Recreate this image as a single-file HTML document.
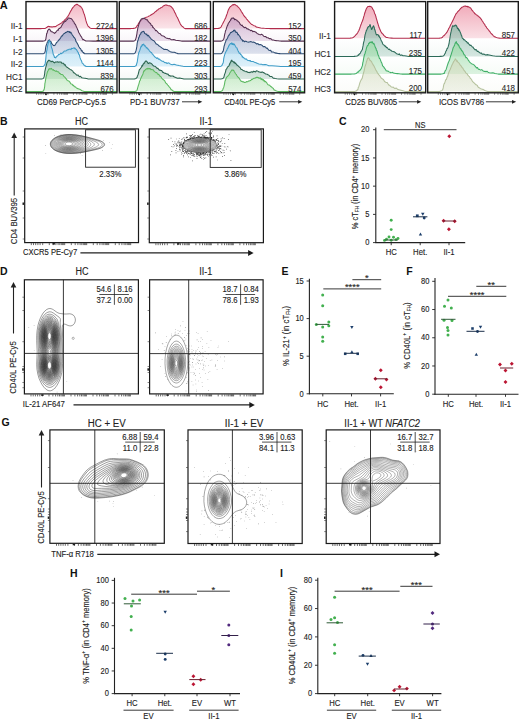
<!DOCTYPE html>
<html><head><meta charset="utf-8"><title>Figure</title>
<style>html,body{margin:0;padding:0;background:#fff;width:520px;height:721px;overflow:hidden;font-family:"Liberation Sans", sans-serif;}svg{display:block}</style>
</head><body>
<svg width="520" height="721" viewBox="0 0 520 721" font-family='"Liberation Sans", sans-serif'><defs><linearGradient id="g1f0" x1="0" y1="0" x2="0" y2="1"><stop offset="0" stop-color="#ee9aac" stop-opacity="0.7"/><stop offset="1" stop-color="#ee9aac" stop-opacity="0.26"/></linearGradient><linearGradient id="g1f1" x1="0" y1="0" x2="0" y2="1"><stop offset="0" stop-color="#bf98c0" stop-opacity="0.7"/><stop offset="1" stop-color="#bf98c0" stop-opacity="0.26"/></linearGradient><linearGradient id="g1f2" x1="0" y1="0" x2="0" y2="1"><stop offset="0" stop-color="#94a2c6" stop-opacity="0.7"/><stop offset="1" stop-color="#94a2c6" stop-opacity="0.26"/></linearGradient><linearGradient id="g1f3" x1="0" y1="0" x2="0" y2="1"><stop offset="0" stop-color="#98d2ee" stop-opacity="0.7"/><stop offset="1" stop-color="#98d2ee" stop-opacity="0.26"/></linearGradient><linearGradient id="g1f4" x1="0" y1="0" x2="0" y2="1"><stop offset="0" stop-color="#8cb8a4" stop-opacity="0.7"/><stop offset="1" stop-color="#8cb8a4" stop-opacity="0.26"/></linearGradient><linearGradient id="g1f5" x1="0" y1="0" x2="0" y2="1"><stop offset="0" stop-color="#a6dea6" stop-opacity="0.7"/><stop offset="1" stop-color="#a6dea6" stop-opacity="0.26"/></linearGradient><linearGradient id="g2f0" x1="0" y1="0" x2="0" y2="1"><stop offset="0" stop-color="#ee9aac" stop-opacity="0.82"/><stop offset="1" stop-color="#ee9aac" stop-opacity="0.3"/></linearGradient><linearGradient id="g2f1" x1="0" y1="0" x2="0" y2="1"><stop offset="0" stop-color="#8cbcaa" stop-opacity="0.82"/><stop offset="1" stop-color="#8cbcaa" stop-opacity="0.3"/></linearGradient><linearGradient id="g2f2" x1="0" y1="0" x2="0" y2="1"><stop offset="0" stop-color="#9edcaa" stop-opacity="0.82"/><stop offset="1" stop-color="#9edcaa" stop-opacity="0.3"/></linearGradient><linearGradient id="g2f3" x1="0" y1="0" x2="0" y2="1"><stop offset="0" stop-color="#d4dcc0" stop-opacity="0.82"/><stop offset="1" stop-color="#d4dcc0" stop-opacity="0.3"/></linearGradient><linearGradient id="g1b0" x1="0" y1="0" x2="0" y2="1"><stop offset="0" stop-color="#ee9aac" stop-opacity="0.0"/><stop offset="1" stop-color="#ee9aac" stop-opacity="0.0"/></linearGradient><linearGradient id="g1b1" x1="0" y1="0" x2="0" y2="1"><stop offset="0" stop-color="#bf98c0" stop-opacity="0.0"/><stop offset="1" stop-color="#bf98c0" stop-opacity="0.09"/></linearGradient><linearGradient id="g1b2" x1="0" y1="0" x2="0" y2="1"><stop offset="0" stop-color="#94a2c6" stop-opacity="0.0"/><stop offset="1" stop-color="#94a2c6" stop-opacity="0.09"/></linearGradient><linearGradient id="g1b3" x1="0" y1="0" x2="0" y2="1"><stop offset="0" stop-color="#98d2ee" stop-opacity="0.0"/><stop offset="1" stop-color="#98d2ee" stop-opacity="0.09"/></linearGradient><linearGradient id="g1b4" x1="0" y1="0" x2="0" y2="1"><stop offset="0" stop-color="#8cb8a4" stop-opacity="0.0"/><stop offset="1" stop-color="#8cb8a4" stop-opacity="0.09"/></linearGradient><linearGradient id="g1b5" x1="0" y1="0" x2="0" y2="1"><stop offset="0" stop-color="#a6dea6" stop-opacity="0.0"/><stop offset="1" stop-color="#a6dea6" stop-opacity="0.09"/></linearGradient><linearGradient id="g2b0" x1="0" y1="0" x2="0" y2="1"><stop offset="0" stop-color="#ee9aac" stop-opacity="0.0"/><stop offset="1" stop-color="#ee9aac" stop-opacity="0.0"/></linearGradient><linearGradient id="g2b1" x1="0" y1="0" x2="0" y2="1"><stop offset="0" stop-color="#8cbcaa" stop-opacity="0.0"/><stop offset="1" stop-color="#8cbcaa" stop-opacity="0.09"/></linearGradient><linearGradient id="g2b2" x1="0" y1="0" x2="0" y2="1"><stop offset="0" stop-color="#9edcaa" stop-opacity="0.0"/><stop offset="1" stop-color="#9edcaa" stop-opacity="0.09"/></linearGradient><linearGradient id="g2b3" x1="0" y1="0" x2="0" y2="1"><stop offset="0" stop-color="#d4dcc0" stop-opacity="0.0"/><stop offset="1" stop-color="#d4dcc0" stop-opacity="0.09"/></linearGradient></defs><rect x="26" y="1.6" width="91" height="27" fill="url(#g1b0)"/>
<rect x="26" y="28.6" width="91" height="12.5" fill="url(#g1b1)"/>
<rect x="26" y="41.1" width="91" height="12.7" fill="url(#g1b2)"/>
<rect x="26" y="53.8" width="91" height="12.6" fill="url(#g1b3)"/>
<rect x="26" y="66.4" width="91" height="12.6" fill="url(#g1b4)"/>
<rect x="26" y="79" width="91" height="12.6" fill="url(#g1b5)"/>
<path d="M26.00,28.60 L28.19,28.60 L31.39,28.60 L34.97,28.60 L38.29,28.60 L40.70,28.60 L42.04,28.58 L42.72,28.55 L43.02,28.51 L43.19,28.48 L43.50,28.45 L43.94,28.44 L44.33,28.44 L44.69,28.44 L45.02,28.41 L45.33,28.34 L45.60,28.20 L45.82,28.02 L46.02,27.81 L46.24,27.48 L46.50,27.41 L46.81,27.36 L47.13,27.15 L47.48,26.99 L47.87,26.41 L48.30,26.36 L48.76,26.51 L49.25,26.75 L49.78,26.56 L50.36,26.66 L51.00,26.92 L51.69,26.77 L52.42,27.05 L53.21,26.69 L54.06,26.56 L55.00,26.68 L56.08,26.19 L57.29,25.39 L58.54,24.66 L59.75,24.05 L60.80,23.32 L61.68,22.99 L62.45,21.89 L63.14,21.80 L63.81,20.96 L64.50,20.33 L65.19,19.37 L65.85,18.84 L66.50,18.15 L67.18,17.21 L67.90,16.35 L68.68,15.06 L69.49,13.43 L70.33,11.67 L71.18,10.40 L72.00,8.87 L72.81,7.63 L73.61,6.81 L74.40,5.76 L75.20,5.10 L76.00,4.81 L76.83,4.24 L77.69,4.58 L78.53,5.34 L79.32,5.78 L80.00,6.28 L80.55,6.16 L81.00,7.13 L81.40,7.60 L81.78,7.93 L82.20,8.66 L82.66,9.69 L83.12,11.16 L83.58,12.52 L84.04,13.76 L84.50,14.81 L84.94,16.60 L85.38,18.13 L85.82,20.22 L86.26,21.68 L86.70,23.12 L87.16,24.14 L87.62,25.30 L88.08,26.18 L88.54,26.50 L89.00,26.90 L89.43,27.45 L89.85,27.78 L90.27,28.04 L90.71,28.23 L91.20,28.40 L91.43,28.52 L91.39,28.58 L91.54,28.59 L92.32,28.59 L94.20,28.60 L97.86,28.60 L102.99,28.60 L108.57,28.60 L113.58,28.60 L117.00,28.60 Z" fill="url(#g1f0)" stroke="none"/>
<path d="M26.00,28.60 L28.19,28.60 L31.39,28.60 L34.97,28.60 L38.29,28.60 L40.70,28.60 L42.04,28.58 L42.72,28.55 L43.02,28.51 L43.19,28.48 L43.50,28.45 L43.94,28.44 L44.33,28.44 L44.69,28.44 L45.02,28.41 L45.33,28.34 L45.60,28.20 L45.82,28.02 L46.02,27.81 L46.24,27.48 L46.50,27.41 L46.81,27.36 L47.13,27.15 L47.48,26.99 L47.87,26.41 L48.30,26.36 L48.76,26.51 L49.25,26.75 L49.78,26.56 L50.36,26.66 L51.00,26.92 L51.69,26.77 L52.42,27.05 L53.21,26.69 L54.06,26.56 L55.00,26.68 L56.08,26.19 L57.29,25.39 L58.54,24.66 L59.75,24.05 L60.80,23.32 L61.68,22.99 L62.45,21.89 L63.14,21.80 L63.81,20.96 L64.50,20.33 L65.19,19.37 L65.85,18.84 L66.50,18.15 L67.18,17.21 L67.90,16.35 L68.68,15.06 L69.49,13.43 L70.33,11.67 L71.18,10.40 L72.00,8.87 L72.81,7.63 L73.61,6.81 L74.40,5.76 L75.20,5.10 L76.00,4.81 L76.83,4.24 L77.69,4.58 L78.53,5.34 L79.32,5.78 L80.00,6.28 L80.55,6.16 L81.00,7.13 L81.40,7.60 L81.78,7.93 L82.20,8.66 L82.66,9.69 L83.12,11.16 L83.58,12.52 L84.04,13.76 L84.50,14.81 L84.94,16.60 L85.38,18.13 L85.82,20.22 L86.26,21.68 L86.70,23.12 L87.16,24.14 L87.62,25.30 L88.08,26.18 L88.54,26.50 L89.00,26.90 L89.43,27.45 L89.85,27.78 L90.27,28.04 L90.71,28.23 L91.20,28.40 L91.43,28.52 L91.39,28.58 L91.54,28.59 L92.32,28.59 L94.20,28.60 L97.86,28.60 L102.99,28.60 L108.57,28.60 L113.58,28.60 L117.00,28.60" fill="none" stroke="#b22c4c" stroke-width="1.05" stroke-linejoin="round"/>
<path d="M26.00,41.10 L28.27,41.10 L31.58,41.10 L35.28,41.10 L38.71,41.10 L41.20,41.10 L42.57,41.10 L43.27,41.10 L43.56,41.09 L43.71,41.05 L44.00,40.95 L44.42,40.84 L44.78,40.72 L45.11,40.54 L45.39,40.24 L45.66,39.43 L45.86,38.98 L46.01,38.03 L46.13,36.82 L46.28,36.54 L46.50,34.59 L46.78,33.21 L47.11,33.12 L47.47,31.48 L47.87,30.16 L48.30,30.10 L48.77,29.17 L49.28,28.94 L49.82,29.69 L50.39,29.93 L51.00,31.43 L51.66,31.77 L52.37,31.88 L53.10,32.36 L53.82,32.87 L54.50,33.39 L55.13,32.58 L55.72,32.63 L56.30,31.39 L56.89,30.78 L57.50,29.96 L58.14,30.43 L58.80,28.55 L59.47,28.51 L60.14,27.89 L60.80,27.41 L61.46,26.36 L62.14,25.04 L62.80,23.86 L63.43,23.03 L64.00,21.95 L64.47,22.05 L64.85,21.17 L65.20,21.04 L65.60,21.44 L66.10,20.42 L66.72,19.80 L67.43,19.55 L68.19,17.96 L68.96,18.01 L69.70,18.20 L70.43,18.56 L71.18,18.51 L71.92,19.44 L72.64,20.15 L73.30,21.62 L73.90,21.88 L74.44,23.55 L74.96,24.03 L75.47,24.40 L76.00,25.86 L76.53,27.29 L77.04,27.95 L77.56,29.54 L78.11,30.39 L78.70,32.50 L79.35,33.38 L80.04,34.70 L80.75,36.13 L81.48,36.87 L82.20,38.46 L82.92,39.76 L83.66,39.36 L84.40,40.22 L85.12,40.53 L85.80,40.80 L86.04,40.99 L85.83,41.08 L85.81,41.10 L86.60,41.09 L88.80,41.10 L93.28,41.10 L99.62,41.10 L106.54,41.10 L112.76,41.10 L117.00,41.10 Z" fill="url(#g1f1)" stroke="none"/>
<path d="M26.00,41.10 L28.27,41.10 L31.58,41.10 L35.28,41.10 L38.71,41.10 L41.20,41.10 L42.57,41.10 L43.27,41.10 L43.56,41.09 L43.71,41.05 L44.00,40.95 L44.42,40.84 L44.78,40.72 L45.11,40.54 L45.39,40.24 L45.66,39.43 L45.86,38.98 L46.01,38.03 L46.13,36.82 L46.28,36.54 L46.50,34.59 L46.78,33.21 L47.11,33.12 L47.47,31.48 L47.87,30.16 L48.30,30.10 L48.77,29.17 L49.28,28.94 L49.82,29.69 L50.39,29.93 L51.00,31.43 L51.66,31.77 L52.37,31.88 L53.10,32.36 L53.82,32.87 L54.50,33.39 L55.13,32.58 L55.72,32.63 L56.30,31.39 L56.89,30.78 L57.50,29.96 L58.14,30.43 L58.80,28.55 L59.47,28.51 L60.14,27.89 L60.80,27.41 L61.46,26.36 L62.14,25.04 L62.80,23.86 L63.43,23.03 L64.00,21.95 L64.47,22.05 L64.85,21.17 L65.20,21.04 L65.60,21.44 L66.10,20.42 L66.72,19.80 L67.43,19.55 L68.19,17.96 L68.96,18.01 L69.70,18.20 L70.43,18.56 L71.18,18.51 L71.92,19.44 L72.64,20.15 L73.30,21.62 L73.90,21.88 L74.44,23.55 L74.96,24.03 L75.47,24.40 L76.00,25.86 L76.53,27.29 L77.04,27.95 L77.56,29.54 L78.11,30.39 L78.70,32.50 L79.35,33.38 L80.04,34.70 L80.75,36.13 L81.48,36.87 L82.20,38.46 L82.92,39.76 L83.66,39.36 L84.40,40.22 L85.12,40.53 L85.80,40.80 L86.04,40.99 L85.83,41.08 L85.81,41.10 L86.60,41.09 L88.80,41.10 L93.28,41.10 L99.62,41.10 L106.54,41.10 L112.76,41.10 L117.00,41.10" fill="none" stroke="#553050" stroke-width="1.05" stroke-linejoin="round"/>
<path d="M26.00,53.80 L28.16,53.80 L31.32,53.80 L34.85,53.80 L38.12,53.80 L40.50,53.80 L41.83,53.80 L42.51,53.80 L42.82,53.80 L43.00,53.77 L43.30,53.65 L43.73,53.50 L44.10,53.34 L44.44,53.10 L44.75,52.59 L45.02,51.51 L45.25,51.53 L45.41,49.69 L45.55,48.57 L45.73,47.02 L46.00,46.03 L46.38,44.87 L46.83,43.68 L47.32,42.24 L47.83,41.53 L48.30,40.33 L48.73,40.37 L49.14,40.35 L49.56,39.82 L50.00,41.47 L50.50,41.43 L51.06,41.77 L51.66,43.74 L52.30,43.99 L52.95,44.80 L53.60,45.53 L54.25,45.61 L54.92,45.35 L55.60,44.30 L56.29,42.91 L57.00,42.17 L57.74,41.60 L58.50,40.21 L59.27,39.72 L60.04,38.65 L60.80,37.42 L61.54,36.09 L62.26,35.88 L62.98,34.72 L63.72,33.70 L64.50,33.56 L65.36,32.55 L66.28,32.38 L67.20,31.82 L68.06,31.31 L68.80,31.89 L69.37,32.38 L69.83,31.58 L70.21,32.53 L70.59,32.90 L71.00,32.39 L71.45,33.53 L71.89,34.15 L72.35,34.96 L72.81,35.67 L73.30,36.24 L73.81,37.27 L74.35,37.70 L74.90,38.39 L75.45,39.34 L76.00,41.55 L76.54,41.96 L77.08,43.13 L77.61,43.97 L78.15,45.01 L78.70,46.51 L79.26,47.22 L79.83,48.23 L80.40,48.51 L80.96,49.52 L81.50,51.05 L82.01,50.55 L82.50,51.75 L82.98,52.38 L83.47,52.41 L84.00,52.80 L84.14,53.10 L83.87,53.34 L83.83,53.53 L84.66,53.68 L87.00,53.80 L91.75,53.80 L98.50,53.80 L105.86,53.80 L112.49,53.80 L117.00,53.80 Z" fill="url(#g1f2)" stroke="none"/>
<path d="M26.00,53.80 L28.16,53.80 L31.32,53.80 L34.85,53.80 L38.12,53.80 L40.50,53.80 L41.83,53.80 L42.51,53.80 L42.82,53.80 L43.00,53.77 L43.30,53.65 L43.73,53.50 L44.10,53.34 L44.44,53.10 L44.75,52.59 L45.02,51.51 L45.25,51.53 L45.41,49.69 L45.55,48.57 L45.73,47.02 L46.00,46.03 L46.38,44.87 L46.83,43.68 L47.32,42.24 L47.83,41.53 L48.30,40.33 L48.73,40.37 L49.14,40.35 L49.56,39.82 L50.00,41.47 L50.50,41.43 L51.06,41.77 L51.66,43.74 L52.30,43.99 L52.95,44.80 L53.60,45.53 L54.25,45.61 L54.92,45.35 L55.60,44.30 L56.29,42.91 L57.00,42.17 L57.74,41.60 L58.50,40.21 L59.27,39.72 L60.04,38.65 L60.80,37.42 L61.54,36.09 L62.26,35.88 L62.98,34.72 L63.72,33.70 L64.50,33.56 L65.36,32.55 L66.28,32.38 L67.20,31.82 L68.06,31.31 L68.80,31.89 L69.37,32.38 L69.83,31.58 L70.21,32.53 L70.59,32.90 L71.00,32.39 L71.45,33.53 L71.89,34.15 L72.35,34.96 L72.81,35.67 L73.30,36.24 L73.81,37.27 L74.35,37.70 L74.90,38.39 L75.45,39.34 L76.00,41.55 L76.54,41.96 L77.08,43.13 L77.61,43.97 L78.15,45.01 L78.70,46.51 L79.26,47.22 L79.83,48.23 L80.40,48.51 L80.96,49.52 L81.50,51.05 L82.01,50.55 L82.50,51.75 L82.98,52.38 L83.47,52.41 L84.00,52.80 L84.14,53.10 L83.87,53.34 L83.83,53.53 L84.66,53.68 L87.00,53.80 L91.75,53.80 L98.50,53.80 L105.86,53.80 L112.49,53.80 L117.00,53.80" fill="none" stroke="#2b4a70" stroke-width="1.05" stroke-linejoin="round"/>
<path d="M26.00,66.40 L28.16,66.40 L31.32,66.40 L34.85,66.40 L38.12,66.40 L40.50,66.40 L41.82,66.40 L42.51,66.40 L42.81,66.40 L42.98,66.40 L43.30,66.25 L43.75,65.96 L44.15,65.64 L44.53,64.67 L44.87,65.02 L45.20,63.53 L45.48,61.31 L45.70,59.58 L45.91,57.25 L46.16,54.55 L46.50,51.89 L46.96,49.80 L47.50,46.48 L48.08,43.92 L48.66,41.58 L49.20,40.58 L49.67,40.88 L50.12,42.23 L50.55,43.29 L51.00,44.87 L51.50,47.54 L52.06,48.66 L52.65,51.05 L53.27,54.36 L53.89,55.37 L54.50,57.52 L55.10,56.98 L55.69,57.85 L56.28,57.01 L56.88,56.11 L57.50,56.07 L58.14,55.17 L58.80,54.39 L59.47,54.50 L60.14,53.82 L60.80,53.06 L61.44,53.77 L62.05,53.01 L62.67,52.92 L63.32,52.21 L64.00,51.20 L64.75,50.98 L65.55,50.90 L66.36,50.66 L67.16,50.03 L67.90,49.68 L68.57,49.67 L69.19,49.15 L69.79,49.25 L70.39,49.15 L71.00,49.61 L71.65,48.34 L72.32,48.59 L72.98,48.42 L73.62,48.03 L74.20,47.86 L74.72,48.58 L75.19,48.20 L75.63,49.15 L76.06,49.35 L76.50,49.46 L76.93,50.61 L77.32,51.28 L77.73,51.96 L78.18,52.19 L78.70,54.29 L79.32,54.66 L80.00,57.63 L80.73,59.54 L81.47,60.75 L82.20,63.16 L82.92,63.64 L83.66,64.43 L84.40,65.77 L85.12,65.78 L85.80,66.20 L86.04,66.40 L85.83,66.40 L85.81,66.40 L86.60,66.40 L88.80,66.40 L93.28,66.40 L99.62,66.40 L106.54,66.40 L112.76,66.40 L117.00,66.40 Z" fill="url(#g1f3)" stroke="none"/>
<path d="M26.00,66.40 L28.16,66.40 L31.32,66.40 L34.85,66.40 L38.12,66.40 L40.50,66.40 L41.82,66.40 L42.51,66.40 L42.81,66.40 L42.98,66.40 L43.30,66.25 L43.75,65.96 L44.15,65.64 L44.53,64.67 L44.87,65.02 L45.20,63.53 L45.48,61.31 L45.70,59.58 L45.91,57.25 L46.16,54.55 L46.50,51.89 L46.96,49.80 L47.50,46.48 L48.08,43.92 L48.66,41.58 L49.20,40.58 L49.67,40.88 L50.12,42.23 L50.55,43.29 L51.00,44.87 L51.50,47.54 L52.06,48.66 L52.65,51.05 L53.27,54.36 L53.89,55.37 L54.50,57.52 L55.10,56.98 L55.69,57.85 L56.28,57.01 L56.88,56.11 L57.50,56.07 L58.14,55.17 L58.80,54.39 L59.47,54.50 L60.14,53.82 L60.80,53.06 L61.44,53.77 L62.05,53.01 L62.67,52.92 L63.32,52.21 L64.00,51.20 L64.75,50.98 L65.55,50.90 L66.36,50.66 L67.16,50.03 L67.90,49.68 L68.57,49.67 L69.19,49.15 L69.79,49.25 L70.39,49.15 L71.00,49.61 L71.65,48.34 L72.32,48.59 L72.98,48.42 L73.62,48.03 L74.20,47.86 L74.72,48.58 L75.19,48.20 L75.63,49.15 L76.06,49.35 L76.50,49.46 L76.93,50.61 L77.32,51.28 L77.73,51.96 L78.18,52.19 L78.70,54.29 L79.32,54.66 L80.00,57.63 L80.73,59.54 L81.47,60.75 L82.20,63.16 L82.92,63.64 L83.66,64.43 L84.40,65.77 L85.12,65.78 L85.80,66.20 L86.04,66.40 L85.83,66.40 L85.81,66.40 L86.60,66.40 L88.80,66.40 L93.28,66.40 L99.62,66.40 L106.54,66.40 L112.76,66.40 L117.00,66.40" fill="none" stroke="#3f9cc6" stroke-width="1.05" stroke-linejoin="round"/>
<path d="M26.00,79.00 L28.01,79.00 L30.94,79.00 L34.22,79.00 L37.27,79.00 L39.50,79.00 L40.76,79.00 L41.43,79.00 L41.76,79.00 L41.97,79.00 L42.30,78.85 L42.75,78.63 L43.15,78.40 L43.53,78.04 L43.87,77.37 L44.20,76.40 L44.47,74.84 L44.69,73.56 L44.90,71.00 L45.15,70.34 L45.50,68.39 L45.95,66.68 L46.47,64.86 L47.04,62.43 L47.66,61.57 L48.30,60.68 L48.98,60.03 L49.70,60.84 L50.46,60.97 L51.23,61.77 L52.00,61.27 L52.78,61.38 L53.58,62.24 L54.39,62.84 L55.20,62.14 L56.00,62.07 L56.79,62.03 L57.58,61.83 L58.37,62.17 L59.17,61.90 L60.00,61.95 L60.87,61.93 L61.77,63.16 L62.69,63.18 L63.57,63.22 L64.40,65.04 L65.16,64.67 L65.86,66.08 L66.54,66.99 L67.21,67.29 L67.90,67.69 L68.61,68.49 L69.33,68.69 L70.06,69.50 L70.78,69.65 L71.50,70.06 L72.19,70.66 L72.85,71.12 L73.53,72.69 L74.26,72.84 L75.10,73.60 L76.04,74.48 L77.05,75.34 L78.13,75.05 L79.28,76.77 L80.50,76.37 L81.88,77.78 L83.41,78.07 L84.97,78.24 L86.42,78.56 L87.60,78.80 L88.09,78.95 L87.97,79.00 L87.91,79.00 L88.57,79.00 L90.60,79.00 L94.80,79.00 L100.74,79.00 L107.22,79.00 L113.04,79.00 L117.00,79.00 Z" fill="url(#g1f4)" stroke="none"/>
<path d="M26.00,79.00 L28.01,79.00 L30.94,79.00 L34.22,79.00 L37.27,79.00 L39.50,79.00 L40.76,79.00 L41.43,79.00 L41.76,79.00 L41.97,79.00 L42.30,78.85 L42.75,78.63 L43.15,78.40 L43.53,78.04 L43.87,77.37 L44.20,76.40 L44.47,74.84 L44.69,73.56 L44.90,71.00 L45.15,70.34 L45.50,68.39 L45.95,66.68 L46.47,64.86 L47.04,62.43 L47.66,61.57 L48.30,60.68 L48.98,60.03 L49.70,60.84 L50.46,60.97 L51.23,61.77 L52.00,61.27 L52.78,61.38 L53.58,62.24 L54.39,62.84 L55.20,62.14 L56.00,62.07 L56.79,62.03 L57.58,61.83 L58.37,62.17 L59.17,61.90 L60.00,61.95 L60.87,61.93 L61.77,63.16 L62.69,63.18 L63.57,63.22 L64.40,65.04 L65.16,64.67 L65.86,66.08 L66.54,66.99 L67.21,67.29 L67.90,67.69 L68.61,68.49 L69.33,68.69 L70.06,69.50 L70.78,69.65 L71.50,70.06 L72.19,70.66 L72.85,71.12 L73.53,72.69 L74.26,72.84 L75.10,73.60 L76.04,74.48 L77.05,75.34 L78.13,75.05 L79.28,76.77 L80.50,76.37 L81.88,77.78 L83.41,78.07 L84.97,78.24 L86.42,78.56 L87.60,78.80 L88.09,78.95 L87.97,79.00 L87.91,79.00 L88.57,79.00 L90.60,79.00 L94.80,79.00 L100.74,79.00 L107.22,79.00 L113.04,79.00 L117.00,79.00" fill="none" stroke="#2b6450" stroke-width="1.05" stroke-linejoin="round"/>
<path d="M26.00,91.60 L28.01,91.60 L30.94,91.60 L34.22,91.60 L37.27,91.60 L39.50,91.60 L40.76,91.60 L41.43,91.60 L41.76,91.60 L41.97,91.60 L42.30,91.45 L42.75,91.22 L43.15,90.97 L43.53,91.02 L43.87,89.58 L44.20,89.54 L44.47,87.68 L44.69,86.57 L44.90,83.38 L45.15,82.54 L45.50,80.17 L45.97,77.63 L46.52,75.35 L47.12,72.80 L47.72,71.25 L48.30,70.30 L48.84,68.92 L49.37,68.62 L49.90,69.13 L50.44,68.99 L51.00,68.36 L51.58,68.45 L52.17,69.67 L52.77,70.05 L53.38,69.57 L54.00,70.46 L54.62,70.56 L55.24,71.04 L55.87,71.38 L56.52,70.90 L57.20,71.64 L57.93,71.72 L58.70,71.97 L59.48,73.53 L60.26,73.60 L61.00,74.53 L61.70,74.48 L62.38,74.50 L63.04,75.18 L63.71,76.05 L64.40,76.83 L65.11,77.48 L65.83,78.35 L66.56,79.38 L67.28,80.32 L68.00,80.82 L68.71,80.96 L69.41,81.57 L70.10,82.40 L70.80,83.72 L71.50,84.04 L72.20,84.31 L72.89,85.52 L73.59,85.27 L74.29,86.81 L75.00,86.69 L75.70,87.22 L76.39,88.00 L77.10,88.27 L77.85,88.79 L78.70,88.88 L79.69,89.26 L80.82,89.91 L81.97,90.75 L83.06,91.12 L84.00,91.40 L84.32,91.56 L84.07,91.60 L83.97,91.60 L84.71,91.60 L87.00,91.60 L91.75,91.60 L98.50,91.60 L105.86,91.60 L112.49,91.60 L117.00,91.60 Z" fill="url(#g1f5)" stroke="none"/>
<path d="M26.00,91.60 L28.01,91.60 L30.94,91.60 L34.22,91.60 L37.27,91.60 L39.50,91.60 L40.76,91.60 L41.43,91.60 L41.76,91.60 L41.97,91.60 L42.30,91.45 L42.75,91.22 L43.15,90.97 L43.53,91.02 L43.87,89.58 L44.20,89.54 L44.47,87.68 L44.69,86.57 L44.90,83.38 L45.15,82.54 L45.50,80.17 L45.97,77.63 L46.52,75.35 L47.12,72.80 L47.72,71.25 L48.30,70.30 L48.84,68.92 L49.37,68.62 L49.90,69.13 L50.44,68.99 L51.00,68.36 L51.58,68.45 L52.17,69.67 L52.77,70.05 L53.38,69.57 L54.00,70.46 L54.62,70.56 L55.24,71.04 L55.87,71.38 L56.52,70.90 L57.20,71.64 L57.93,71.72 L58.70,71.97 L59.48,73.53 L60.26,73.60 L61.00,74.53 L61.70,74.48 L62.38,74.50 L63.04,75.18 L63.71,76.05 L64.40,76.83 L65.11,77.48 L65.83,78.35 L66.56,79.38 L67.28,80.32 L68.00,80.82 L68.71,80.96 L69.41,81.57 L70.10,82.40 L70.80,83.72 L71.50,84.04 L72.20,84.31 L72.89,85.52 L73.59,85.27 L74.29,86.81 L75.00,86.69 L75.70,87.22 L76.39,88.00 L77.10,88.27 L77.85,88.79 L78.70,88.88 L79.69,89.26 L80.82,89.91 L81.97,90.75 L83.06,91.12 L84.00,91.40 L84.32,91.56 L84.07,91.60 L83.97,91.60 L84.71,91.60 L87.00,91.60 L91.75,91.60 L98.50,91.60 L105.86,91.60 L112.49,91.60 L117.00,91.60" fill="none" stroke="#5cb860" stroke-width="1.05" stroke-linejoin="round"/>
<text transform="translate(113.6,28.5) scale(0.9,1)" font-size="8.80" text-anchor="end" font-weight="normal" fill="#2a2a2a" stroke="#2a2a2a" stroke-width="0.12"  >2724</text>
<text transform="translate(113.6,41) scale(0.9,1)" font-size="8.80" text-anchor="end" font-weight="normal" fill="#2a2a2a" stroke="#2a2a2a" stroke-width="0.12"  >1396</text>
<text transform="translate(113.6,53.7) scale(0.9,1)" font-size="8.80" text-anchor="end" font-weight="normal" fill="#2a2a2a" stroke="#2a2a2a" stroke-width="0.12"  >1305</text>
<text transform="translate(113.6,66.3) scale(0.9,1)" font-size="8.80" text-anchor="end" font-weight="normal" fill="#2a2a2a" stroke="#2a2a2a" stroke-width="0.12"  >1144</text>
<text transform="translate(113.6,78.9) scale(0.9,1)" font-size="8.80" text-anchor="end" font-weight="normal" fill="#2a2a2a" stroke="#2a2a2a" stroke-width="0.12"  >839</text>
<text transform="translate(113.6,91.5) scale(0.9,1)" font-size="8.80" text-anchor="end" font-weight="normal" fill="#2a2a2a" stroke="#2a2a2a" stroke-width="0.12"  >676</text>
<rect x="26" y="1.6" width="91" height="91.2" stroke="#1a1a1a" stroke-width="1.4" fill="none"/>
<path d="M36.6,92.8v2.0M38.8,92.8v2.0M41.0,92.8v2.0M43.2,92.8v2.0M45.4,92.8v2.0M48.0,92.8v2.0M53.9,92.8v2.0M57.3,92.8v2.0M59.7,92.8v2.0M61.6,92.8v2.0M63.2,92.8v2.0M64.5,92.8v2.0M65.6,92.8v2.0M66.6,92.8v2.0M67.5,92.8v2.0M73.4,92.8v2.0M76.8,92.8v2.0M79.2,92.8v2.0M81.1,92.8v2.0M82.7,92.8v2.0M84.0,92.8v2.0M85.1,92.8v2.0M86.1,92.8v2.0M87.0,92.8v2.0M92.9,92.8v2.0M96.3,92.8v2.0M98.7,92.8v2.0M100.6,92.8v2.0M102.2,92.8v2.0M103.5,92.8v2.0M104.6,92.8v2.0M105.6,92.8v2.0M106.5,92.8v2.0M112.4,92.8v2.0" stroke="#2a2a2a" stroke-width="0.55" fill="none"/>
<path d="M44.4,93.4 L47.6,93.4 L46,95.6 Z" fill="#111"/>
<rect x="119.3" y="1.6" width="91.2" height="27" fill="url(#g1b0)"/>
<rect x="119.3" y="28.6" width="91.2" height="12.5" fill="url(#g1b1)"/>
<rect x="119.3" y="41.1" width="91.2" height="12.7" fill="url(#g1b2)"/>
<rect x="119.3" y="53.8" width="91.2" height="12.6" fill="url(#g1b3)"/>
<rect x="119.3" y="66.4" width="91.2" height="12.6" fill="url(#g1b4)"/>
<rect x="119.3" y="79" width="91.2" height="12.6" fill="url(#g1b5)"/>
<path d="M119.30,28.60 L120.93,28.60 L123.30,28.60 L125.96,28.60 L128.45,28.60 L130.30,28.60 L131.39,28.59 L132.03,28.58 L132.40,28.56 L132.69,28.52 L133.10,28.45 L133.62,28.38 L134.12,28.31 L134.62,28.20 L135.11,28.01 L135.59,27.70 L136.06,27.45 L136.51,26.66 L136.96,25.82 L137.45,25.42 L138.00,24.58 L138.63,23.36 L139.32,22.35 L140.04,21.56 L140.78,20.96 L141.50,19.65 L142.19,19.15 L142.87,19.04 L143.56,18.92 L144.30,18.40 L145.10,18.00 L146.01,17.36 L147.00,17.03 L148.03,16.62 L149.04,16.08 L150.00,15.63 L150.88,15.01 L151.70,14.50 L152.51,14.07 L153.33,13.54 L154.20,12.88 L155.13,11.86 L156.11,11.28 L157.09,10.23 L158.07,9.74 L159.00,8.73 L159.90,8.56 L160.80,7.65 L161.66,7.49 L162.47,6.92 L163.20,6.03 L163.81,5.86 L164.30,5.48 L164.76,5.50 L165.27,4.91 L165.90,5.10 L166.72,5.11 L167.66,5.47 L168.65,5.69 L169.59,5.83 L170.40,6.21 L171.04,6.55 L171.57,7.16 L172.04,7.72 L172.50,8.08 L173.00,8.77 L173.55,9.93 L174.11,10.76 L174.68,12.38 L175.24,13.11 L175.80,14.34 L176.34,15.76 L176.88,16.73 L177.42,17.58 L177.96,18.67 L178.50,20.07 L179.04,21.17 L179.57,22.11 L180.12,23.50 L180.69,24.62 L181.30,25.31 L181.98,26.26 L182.71,26.58 L183.46,27.44 L184.21,28.09 L184.90,28.50 L185.22,28.60 L185.20,28.60 L185.32,28.60 L186.06,28.60 L187.90,28.60 L191.53,28.60 L196.61,28.60 L202.15,28.60 L207.11,28.60 L210.50,28.60 Z" fill="url(#g1f0)" stroke="none"/>
<path d="M119.30,28.60 L120.93,28.60 L123.30,28.60 L125.96,28.60 L128.45,28.60 L130.30,28.60 L131.39,28.59 L132.03,28.58 L132.40,28.56 L132.69,28.52 L133.10,28.45 L133.62,28.38 L134.12,28.31 L134.62,28.20 L135.11,28.01 L135.59,27.70 L136.06,27.45 L136.51,26.66 L136.96,25.82 L137.45,25.42 L138.00,24.58 L138.63,23.36 L139.32,22.35 L140.04,21.56 L140.78,20.96 L141.50,19.65 L142.19,19.15 L142.87,19.04 L143.56,18.92 L144.30,18.40 L145.10,18.00 L146.01,17.36 L147.00,17.03 L148.03,16.62 L149.04,16.08 L150.00,15.63 L150.88,15.01 L151.70,14.50 L152.51,14.07 L153.33,13.54 L154.20,12.88 L155.13,11.86 L156.11,11.28 L157.09,10.23 L158.07,9.74 L159.00,8.73 L159.90,8.56 L160.80,7.65 L161.66,7.49 L162.47,6.92 L163.20,6.03 L163.81,5.86 L164.30,5.48 L164.76,5.50 L165.27,4.91 L165.90,5.10 L166.72,5.11 L167.66,5.47 L168.65,5.69 L169.59,5.83 L170.40,6.21 L171.04,6.55 L171.57,7.16 L172.04,7.72 L172.50,8.08 L173.00,8.77 L173.55,9.93 L174.11,10.76 L174.68,12.38 L175.24,13.11 L175.80,14.34 L176.34,15.76 L176.88,16.73 L177.42,17.58 L177.96,18.67 L178.50,20.07 L179.04,21.17 L179.57,22.11 L180.12,23.50 L180.69,24.62 L181.30,25.31 L181.98,26.26 L182.71,26.58 L183.46,27.44 L184.21,28.09 L184.90,28.50 L185.22,28.60 L185.20,28.60 L185.32,28.60 L186.06,28.60 L187.90,28.60 L191.53,28.60 L196.61,28.60 L202.15,28.60 L207.11,28.60 L210.50,28.60" fill="none" stroke="#b22c4c" stroke-width="1.05" stroke-linejoin="round"/>
<path d="M119.30,41.10 L121.06,41.10 L123.64,41.10 L126.52,41.10 L129.21,41.10 L131.20,41.10 L132.36,41.10 L133.01,41.10 L133.37,41.10 L133.64,41.10 L134.00,40.95 L134.46,40.73 L134.88,40.49 L135.28,40.14 L135.65,39.04 L136.00,38.17 L136.33,36.79 L136.61,35.14 L136.88,34.07 L137.16,31.66 L137.50,30.10 L137.89,27.64 L138.32,26.30 L138.78,24.60 L139.24,23.39 L139.70,22.11 L140.16,20.55 L140.62,20.73 L141.08,19.10 L141.54,18.84 L142.00,18.88 L142.44,18.75 L142.86,18.38 L143.28,18.55 L143.72,18.37 L144.20,17.96 L144.72,18.57 L145.29,19.14 L145.87,19.15 L146.44,19.68 L147.00,19.90 L147.54,19.84 L148.06,21.31 L148.58,22.00 L149.10,22.16 L149.60,22.94 L150.10,23.24 L150.58,23.55 L151.06,25.19 L151.54,25.16 L152.00,25.56 L152.43,25.98 L152.82,27.57 L153.21,27.35 L153.66,28.04 L154.20,28.46 L154.84,29.24 L155.54,30.63 L156.30,30.39 L157.12,31.25 L158.00,32.40 L158.96,33.34 L160.00,33.59 L161.08,34.83 L162.16,35.76 L163.20,35.90 L164.20,36.42 L165.18,37.42 L166.14,37.89 L167.08,38.17 L168.00,38.46 L168.80,38.71 L169.49,38.60 L170.20,38.88 L171.06,39.70 L172.20,39.70 L173.80,39.52 L175.78,40.34 L177.86,40.60 L179.79,40.83 L181.30,41.00 L181.92,41.09 L181.83,41.10 L181.72,41.10 L182.31,41.10 L184.30,41.10 L188.47,41.10 L194.37,41.10 L200.79,41.10 L206.57,41.10 L210.50,41.10 Z" fill="url(#g1f1)" stroke="none"/>
<path d="M119.30,41.10 L121.06,41.10 L123.64,41.10 L126.52,41.10 L129.21,41.10 L131.20,41.10 L132.36,41.10 L133.01,41.10 L133.37,41.10 L133.64,41.10 L134.00,40.95 L134.46,40.73 L134.88,40.49 L135.28,40.14 L135.65,39.04 L136.00,38.17 L136.33,36.79 L136.61,35.14 L136.88,34.07 L137.16,31.66 L137.50,30.10 L137.89,27.64 L138.32,26.30 L138.78,24.60 L139.24,23.39 L139.70,22.11 L140.16,20.55 L140.62,20.73 L141.08,19.10 L141.54,18.84 L142.00,18.88 L142.44,18.75 L142.86,18.38 L143.28,18.55 L143.72,18.37 L144.20,17.96 L144.72,18.57 L145.29,19.14 L145.87,19.15 L146.44,19.68 L147.00,19.90 L147.54,19.84 L148.06,21.31 L148.58,22.00 L149.10,22.16 L149.60,22.94 L150.10,23.24 L150.58,23.55 L151.06,25.19 L151.54,25.16 L152.00,25.56 L152.43,25.98 L152.82,27.57 L153.21,27.35 L153.66,28.04 L154.20,28.46 L154.84,29.24 L155.54,30.63 L156.30,30.39 L157.12,31.25 L158.00,32.40 L158.96,33.34 L160.00,33.59 L161.08,34.83 L162.16,35.76 L163.20,35.90 L164.20,36.42 L165.18,37.42 L166.14,37.89 L167.08,38.17 L168.00,38.46 L168.80,38.71 L169.49,38.60 L170.20,38.88 L171.06,39.70 L172.20,39.70 L173.80,39.52 L175.78,40.34 L177.86,40.60 L179.79,40.83 L181.30,41.00 L181.92,41.09 L181.83,41.10 L181.72,41.10 L182.31,41.10 L184.30,41.10 L188.47,41.10 L194.37,41.10 L200.79,41.10 L206.57,41.10 L210.50,41.10" fill="none" stroke="#553050" stroke-width="1.05" stroke-linejoin="round"/>
<path d="M119.30,53.80 L121.06,53.80 L123.64,53.80 L126.52,53.80 L129.21,53.80 L131.20,53.80 L132.36,53.80 L133.01,53.80 L133.37,53.80 L133.64,53.80 L134.00,53.65 L134.46,53.42 L134.88,53.16 L135.28,52.67 L135.65,51.68 L136.00,50.70 L136.33,49.29 L136.61,47.81 L136.88,46.14 L137.16,43.41 L137.50,41.75 L137.90,40.50 L138.35,39.42 L138.81,37.34 L139.27,36.83 L139.70,34.96 L140.09,34.72 L140.45,33.99 L140.80,33.81 L141.15,32.37 L141.50,32.42 L141.85,32.12 L142.20,31.83 L142.55,31.67 L142.91,31.61 L143.30,31.44 L143.71,31.36 L144.15,31.98 L144.59,33.24 L145.05,33.56 L145.50,33.98 L145.95,34.05 L146.39,34.62 L146.85,34.15 L147.31,35.41 L147.80,35.84 L148.30,35.26 L148.81,35.77 L149.34,36.93 L149.90,37.18 L150.50,38.29 L151.14,39.09 L151.83,39.40 L152.54,40.12 L153.27,40.40 L154.00,40.95 L154.72,41.66 L155.43,42.82 L156.16,44.03 L156.95,44.11 L157.80,44.65 L158.74,45.78 L159.76,46.40 L160.82,47.13 L161.91,47.95 L163.00,48.68 L164.04,49.47 L165.04,49.34 L166.09,49.54 L167.25,49.64 L168.60,50.68 L170.29,51.64 L172.28,52.25 L174.33,52.29 L176.21,53.07 L177.70,53.50 L178.26,53.73 L178.05,53.80 L177.86,53.80 L178.48,53.80 L180.70,53.80 L185.42,53.80 L192.12,53.80 L199.44,53.80 L206.02,53.80 L210.50,53.80 Z" fill="url(#g1f2)" stroke="none"/>
<path d="M119.30,53.80 L121.06,53.80 L123.64,53.80 L126.52,53.80 L129.21,53.80 L131.20,53.80 L132.36,53.80 L133.01,53.80 L133.37,53.80 L133.64,53.80 L134.00,53.65 L134.46,53.42 L134.88,53.16 L135.28,52.67 L135.65,51.68 L136.00,50.70 L136.33,49.29 L136.61,47.81 L136.88,46.14 L137.16,43.41 L137.50,41.75 L137.90,40.50 L138.35,39.42 L138.81,37.34 L139.27,36.83 L139.70,34.96 L140.09,34.72 L140.45,33.99 L140.80,33.81 L141.15,32.37 L141.50,32.42 L141.85,32.12 L142.20,31.83 L142.55,31.67 L142.91,31.61 L143.30,31.44 L143.71,31.36 L144.15,31.98 L144.59,33.24 L145.05,33.56 L145.50,33.98 L145.95,34.05 L146.39,34.62 L146.85,34.15 L147.31,35.41 L147.80,35.84 L148.30,35.26 L148.81,35.77 L149.34,36.93 L149.90,37.18 L150.50,38.29 L151.14,39.09 L151.83,39.40 L152.54,40.12 L153.27,40.40 L154.00,40.95 L154.72,41.66 L155.43,42.82 L156.16,44.03 L156.95,44.11 L157.80,44.65 L158.74,45.78 L159.76,46.40 L160.82,47.13 L161.91,47.95 L163.00,48.68 L164.04,49.47 L165.04,49.34 L166.09,49.54 L167.25,49.64 L168.60,50.68 L170.29,51.64 L172.28,52.25 L174.33,52.29 L176.21,53.07 L177.70,53.50 L178.26,53.73 L178.05,53.80 L177.86,53.80 L178.48,53.80 L180.70,53.80 L185.42,53.80 L192.12,53.80 L199.44,53.80 L206.02,53.80 L210.50,53.80" fill="none" stroke="#2b4a70" stroke-width="1.05" stroke-linejoin="round"/>
<path d="M119.30,66.40 L121.20,66.40 L123.98,66.40 L127.09,66.40 L129.98,66.40 L132.10,66.40 L133.31,66.40 L133.98,66.40 L134.31,66.40 L134.55,66.40 L134.90,66.25 L135.36,66.00 L135.79,65.73 L136.20,65.65 L136.57,64.17 L136.94,63.02 L137.27,61.87 L137.57,59.50 L137.86,57.72 L138.16,55.29 L138.50,54.12 L138.90,52.09 L139.33,51.66 L139.78,50.41 L140.22,48.81 L140.60,47.61 L140.93,46.65 L141.22,46.09 L141.48,46.66 L141.74,46.18 L142.00,45.32 L142.25,44.53 L142.48,45.27 L142.72,44.49 L142.98,44.61 L143.30,44.74 L143.68,44.07 L144.11,44.94 L144.57,45.97 L145.04,45.68 L145.50,46.06 L145.94,47.06 L146.37,47.98 L146.81,47.66 L147.28,48.00 L147.80,49.11 L148.38,48.99 L149.02,50.24 L149.68,51.12 L150.35,51.82 L151.00,52.49 L151.62,52.62 L152.23,53.95 L152.84,54.36 L153.49,55.60 L154.20,56.03 L154.98,57.09 L155.82,57.48 L156.70,58.45 L157.60,57.87 L158.50,59.12 L159.41,59.08 L160.35,60.04 L161.29,60.65 L162.25,61.35 L163.20,61.18 L164.16,62.25 L165.14,62.72 L166.12,62.57 L167.08,63.55 L168.00,62.78 L168.77,63.05 L169.40,63.22 L170.07,63.98 L170.94,64.34 L172.20,64.67 L174.08,64.22 L176.46,64.93 L178.99,65.55 L181.32,65.99 L183.10,66.30 L183.86,66.40 L183.84,66.40 L183.74,66.40 L184.26,66.40 L186.10,66.40 L190.00,66.40 L195.49,66.40 L201.47,66.40 L206.84,66.40 L210.50,66.40 Z" fill="url(#g1f3)" stroke="none"/>
<path d="M119.30,66.40 L121.20,66.40 L123.98,66.40 L127.09,66.40 L129.98,66.40 L132.10,66.40 L133.31,66.40 L133.98,66.40 L134.31,66.40 L134.55,66.40 L134.90,66.25 L135.36,66.00 L135.79,65.73 L136.20,65.65 L136.57,64.17 L136.94,63.02 L137.27,61.87 L137.57,59.50 L137.86,57.72 L138.16,55.29 L138.50,54.12 L138.90,52.09 L139.33,51.66 L139.78,50.41 L140.22,48.81 L140.60,47.61 L140.93,46.65 L141.22,46.09 L141.48,46.66 L141.74,46.18 L142.00,45.32 L142.25,44.53 L142.48,45.27 L142.72,44.49 L142.98,44.61 L143.30,44.74 L143.68,44.07 L144.11,44.94 L144.57,45.97 L145.04,45.68 L145.50,46.06 L145.94,47.06 L146.37,47.98 L146.81,47.66 L147.28,48.00 L147.80,49.11 L148.38,48.99 L149.02,50.24 L149.68,51.12 L150.35,51.82 L151.00,52.49 L151.62,52.62 L152.23,53.95 L152.84,54.36 L153.49,55.60 L154.20,56.03 L154.98,57.09 L155.82,57.48 L156.70,58.45 L157.60,57.87 L158.50,59.12 L159.41,59.08 L160.35,60.04 L161.29,60.65 L162.25,61.35 L163.20,61.18 L164.16,62.25 L165.14,62.72 L166.12,62.57 L167.08,63.55 L168.00,62.78 L168.77,63.05 L169.40,63.22 L170.07,63.98 L170.94,64.34 L172.20,64.67 L174.08,64.22 L176.46,64.93 L178.99,65.55 L181.32,65.99 L183.10,66.30 L183.86,66.40 L183.84,66.40 L183.74,66.40 L184.26,66.40 L186.10,66.40 L190.00,66.40 L195.49,66.40 L201.47,66.40 L206.84,66.40 L210.50,66.40" fill="none" stroke="#3f9cc6" stroke-width="1.05" stroke-linejoin="round"/>
<path d="M119.30,79.00 L121.20,79.00 L123.98,79.00 L127.09,79.00 L129.98,79.00 L132.10,79.00 L133.31,79.00 L133.97,79.00 L134.30,79.00 L134.54,78.98 L134.90,78.85 L135.39,78.70 L135.84,78.53 L136.28,78.29 L136.70,77.71 L137.12,77.41 L137.50,75.64 L137.86,75.22 L138.22,74.13 L138.59,72.76 L139.00,70.85 L139.46,69.48 L139.96,69.15 L140.47,68.48 L140.99,67.78 L141.50,67.15 L142.01,65.53 L142.52,66.04 L143.04,64.09 L143.53,64.07 L144.00,63.06 L144.42,63.30 L144.81,62.15 L145.19,61.57 L145.58,61.24 L146.00,60.88 L146.46,61.19 L146.94,61.65 L147.45,62.23 L147.97,63.27 L148.50,63.54 L149.05,62.98 L149.62,62.84 L150.21,63.01 L150.80,63.26 L151.40,63.65 L152.00,64.22 L152.62,64.96 L153.24,65.74 L153.86,66.01 L154.50,66.20 L155.14,66.34 L155.79,66.90 L156.44,67.67 L157.11,68.50 L157.80,68.15 L158.52,69.16 L159.26,70.11 L160.02,69.98 L160.77,70.56 L161.50,70.44 L162.19,71.33 L162.84,72.47 L163.50,72.32 L164.21,73.00 L165.00,73.38 L165.92,73.30 L166.94,74.12 L168.00,74.02 L169.04,75.61 L170.00,75.49 L170.78,76.30 L171.43,76.09 L172.08,75.95 L172.89,75.99 L174.00,76.73 L175.59,77.45 L177.57,78.27 L179.65,78.10 L181.59,78.50 L183.10,78.80 L183.75,78.96 L183.71,79.00 L183.65,79.00 L184.23,79.00 L186.10,79.00 L190.00,79.00 L195.49,79.00 L201.47,79.00 L206.84,79.00 L210.50,79.00 Z" fill="url(#g1f4)" stroke="none"/>
<path d="M119.30,79.00 L121.20,79.00 L123.98,79.00 L127.09,79.00 L129.98,79.00 L132.10,79.00 L133.31,79.00 L133.97,79.00 L134.30,79.00 L134.54,78.98 L134.90,78.85 L135.39,78.70 L135.84,78.53 L136.28,78.29 L136.70,77.71 L137.12,77.41 L137.50,75.64 L137.86,75.22 L138.22,74.13 L138.59,72.76 L139.00,70.85 L139.46,69.48 L139.96,69.15 L140.47,68.48 L140.99,67.78 L141.50,67.15 L142.01,65.53 L142.52,66.04 L143.04,64.09 L143.53,64.07 L144.00,63.06 L144.42,63.30 L144.81,62.15 L145.19,61.57 L145.58,61.24 L146.00,60.88 L146.46,61.19 L146.94,61.65 L147.45,62.23 L147.97,63.27 L148.50,63.54 L149.05,62.98 L149.62,62.84 L150.21,63.01 L150.80,63.26 L151.40,63.65 L152.00,64.22 L152.62,64.96 L153.24,65.74 L153.86,66.01 L154.50,66.20 L155.14,66.34 L155.79,66.90 L156.44,67.67 L157.11,68.50 L157.80,68.15 L158.52,69.16 L159.26,70.11 L160.02,69.98 L160.77,70.56 L161.50,70.44 L162.19,71.33 L162.84,72.47 L163.50,72.32 L164.21,73.00 L165.00,73.38 L165.92,73.30 L166.94,74.12 L168.00,74.02 L169.04,75.61 L170.00,75.49 L170.78,76.30 L171.43,76.09 L172.08,75.95 L172.89,75.99 L174.00,76.73 L175.59,77.45 L177.57,78.27 L179.65,78.10 L181.59,78.50 L183.10,78.80 L183.75,78.96 L183.71,79.00 L183.65,79.00 L184.23,79.00 L186.10,79.00 L190.00,79.00 L195.49,79.00 L201.47,79.00 L206.84,79.00 L210.50,79.00" fill="none" stroke="#2b6450" stroke-width="1.05" stroke-linejoin="round"/>
<path d="M119.30,91.60 L121.20,91.60 L123.98,91.60 L127.09,91.60 L129.98,91.60 L132.10,91.60 L133.32,91.59 L133.99,91.58 L134.33,91.57 L134.56,91.53 L134.90,91.45 L135.33,91.37 L135.72,91.29 L136.07,91.16 L136.40,90.95 L136.69,90.60 L136.95,90.25 L137.15,89.69 L137.33,89.35 L137.54,88.37 L137.80,87.43 L138.11,86.29 L138.46,85.05 L138.84,84.22 L139.25,82.68 L139.70,80.83 L140.21,80.40 L140.76,78.46 L141.35,77.18 L141.94,76.00 L142.50,74.99 L143.02,73.73 L143.51,71.90 L144.00,70.71 L144.52,70.93 L145.10,69.92 L145.75,69.36 L146.46,69.09 L147.20,68.24 L147.95,69.19 L148.70,68.21 L149.45,68.90 L150.22,68.47 L150.99,69.81 L151.76,69.34 L152.50,69.81 L153.22,69.78 L153.92,71.00 L154.61,71.59 L155.30,72.06 L156.00,72.70 L156.70,72.51 L157.39,73.56 L158.09,74.41 L158.79,74.25 L159.50,75.74 L160.23,76.33 L160.96,76.71 L161.70,78.11 L162.45,78.96 L163.20,79.47 L163.96,80.05 L164.73,80.78 L165.50,82.64 L166.26,83.51 L167.00,83.94 L167.70,85.09 L168.38,85.73 L169.04,86.63 L169.71,87.47 L170.40,88.26 L171.12,89.73 L171.85,89.71 L172.59,90.85 L173.32,91.04 L174.00,91.40 L174.15,91.60 L173.78,91.60 L173.63,91.60 L174.46,91.60 L177.00,91.60 L182.28,91.60 L189.81,91.60 L198.05,91.60 L205.46,91.60 L210.50,91.60 Z" fill="url(#g1f5)" stroke="none"/>
<path d="M119.30,91.60 L121.20,91.60 L123.98,91.60 L127.09,91.60 L129.98,91.60 L132.10,91.60 L133.32,91.59 L133.99,91.58 L134.33,91.57 L134.56,91.53 L134.90,91.45 L135.33,91.37 L135.72,91.29 L136.07,91.16 L136.40,90.95 L136.69,90.60 L136.95,90.25 L137.15,89.69 L137.33,89.35 L137.54,88.37 L137.80,87.43 L138.11,86.29 L138.46,85.05 L138.84,84.22 L139.25,82.68 L139.70,80.83 L140.21,80.40 L140.76,78.46 L141.35,77.18 L141.94,76.00 L142.50,74.99 L143.02,73.73 L143.51,71.90 L144.00,70.71 L144.52,70.93 L145.10,69.92 L145.75,69.36 L146.46,69.09 L147.20,68.24 L147.95,69.19 L148.70,68.21 L149.45,68.90 L150.22,68.47 L150.99,69.81 L151.76,69.34 L152.50,69.81 L153.22,69.78 L153.92,71.00 L154.61,71.59 L155.30,72.06 L156.00,72.70 L156.70,72.51 L157.39,73.56 L158.09,74.41 L158.79,74.25 L159.50,75.74 L160.23,76.33 L160.96,76.71 L161.70,78.11 L162.45,78.96 L163.20,79.47 L163.96,80.05 L164.73,80.78 L165.50,82.64 L166.26,83.51 L167.00,83.94 L167.70,85.09 L168.38,85.73 L169.04,86.63 L169.71,87.47 L170.40,88.26 L171.12,89.73 L171.85,89.71 L172.59,90.85 L173.32,91.04 L174.00,91.40 L174.15,91.60 L173.78,91.60 L173.63,91.60 L174.46,91.60 L177.00,91.60 L182.28,91.60 L189.81,91.60 L198.05,91.60 L205.46,91.60 L210.50,91.60" fill="none" stroke="#5cb860" stroke-width="1.05" stroke-linejoin="round"/>
<text transform="translate(207.4,28.5) scale(0.9,1)" font-size="8.80" text-anchor="end" font-weight="normal" fill="#2a2a2a" stroke="#2a2a2a" stroke-width="0.12"  >686</text>
<text transform="translate(207.4,41) scale(0.9,1)" font-size="8.80" text-anchor="end" font-weight="normal" fill="#2a2a2a" stroke="#2a2a2a" stroke-width="0.12"  >182</text>
<text transform="translate(207.4,53.7) scale(0.9,1)" font-size="8.80" text-anchor="end" font-weight="normal" fill="#2a2a2a" stroke="#2a2a2a" stroke-width="0.12"  >231</text>
<text transform="translate(207.4,66.3) scale(0.9,1)" font-size="8.80" text-anchor="end" font-weight="normal" fill="#2a2a2a" stroke="#2a2a2a" stroke-width="0.12"  >223</text>
<text transform="translate(207.4,78.9) scale(0.9,1)" font-size="8.80" text-anchor="end" font-weight="normal" fill="#2a2a2a" stroke="#2a2a2a" stroke-width="0.12"  >303</text>
<text transform="translate(207.4,91.5) scale(0.9,1)" font-size="8.80" text-anchor="end" font-weight="normal" fill="#2a2a2a" stroke="#2a2a2a" stroke-width="0.12"  >293</text>
<rect x="119.3" y="1.6" width="91.2" height="91.2" stroke="#1a1a1a" stroke-width="1.4" fill="none"/>
<path d="M129.9,92.8v2.0M132.1,92.8v2.0M134.3,92.8v2.0M136.5,92.8v2.0M138.7,92.8v2.0M141.3,92.8v2.0M147.2,92.8v2.0M150.6,92.8v2.0M153.0,92.8v2.0M154.9,92.8v2.0M156.5,92.8v2.0M157.8,92.8v2.0M158.9,92.8v2.0M159.9,92.8v2.0M160.8,92.8v2.0M166.7,92.8v2.0M170.1,92.8v2.0M172.5,92.8v2.0M174.4,92.8v2.0M176.0,92.8v2.0M177.3,92.8v2.0M178.4,92.8v2.0M179.4,92.8v2.0M180.3,92.8v2.0M186.2,92.8v2.0M189.6,92.8v2.0M192.0,92.8v2.0M193.9,92.8v2.0M195.5,92.8v2.0M196.8,92.8v2.0M197.9,92.8v2.0M198.9,92.8v2.0M199.8,92.8v2.0M205.7,92.8v2.0" stroke="#2a2a2a" stroke-width="0.55" fill="none"/>
<path d="M137.7,93.4 L140.9,93.4 L139.3,95.6 Z" fill="#111"/>
<rect x="213.3" y="1.6" width="91.3" height="27" fill="url(#g1b0)"/>
<rect x="213.3" y="28.6" width="91.3" height="12.5" fill="url(#g1b1)"/>
<rect x="213.3" y="41.1" width="91.3" height="12.7" fill="url(#g1b2)"/>
<rect x="213.3" y="53.8" width="91.3" height="12.6" fill="url(#g1b3)"/>
<rect x="213.3" y="66.4" width="91.3" height="12.6" fill="url(#g1b4)"/>
<rect x="213.3" y="79" width="91.3" height="12.6" fill="url(#g1b5)"/>
<path d="M213.30,28.60 L213.54,28.60 L213.88,28.60 L214.28,28.60 L214.73,28.60 L215.20,28.60 L215.71,28.59 L216.28,28.58 L216.87,28.57 L217.45,28.53 L218.00,28.45 L218.50,28.37 L218.98,28.29 L219.45,28.16 L219.90,27.95 L220.35,27.42 L220.78,27.33 L221.18,26.73 L221.58,25.79 L222.01,25.07 L222.50,24.13 L223.07,22.91 L223.70,21.65 L224.36,20.56 L225.01,19.10 L225.60,17.99 L226.13,16.46 L226.62,15.02 L227.10,13.91 L227.55,12.43 L228.00,10.91 L228.43,9.75 L228.85,9.10 L229.25,8.23 L229.67,7.56 L230.10,6.94 L230.57,6.48 L231.05,6.24 L231.55,5.75 L232.03,5.26 L232.50,5.10 L232.93,4.49 L233.35,4.88 L233.75,4.75 L234.17,4.29 L234.60,4.73 L235.07,4.78 L235.55,4.81 L236.05,5.50 L236.53,5.71 L237.00,5.82 L237.43,6.11 L237.82,6.88 L238.22,7.15 L238.63,7.28 L239.10,8.00 L239.64,8.78 L240.22,9.46 L240.83,10.60 L241.43,11.83 L242.00,12.30 L242.51,13.49 L242.98,13.83 L243.45,15.06 L243.94,15.64 L244.50,16.52 L245.13,17.02 L245.81,17.67 L246.53,19.05 L247.26,19.59 L248.00,20.75 L248.73,21.36 L249.48,22.42 L250.24,23.10 L251.01,23.94 L251.80,24.58 L252.60,24.81 L253.42,25.42 L254.26,25.73 L255.12,25.98 L256.00,26.81 L256.85,27.17 L257.68,27.16 L258.55,27.60 L259.56,27.78 L260.80,28.00 L262.43,28.18 L264.39,28.33 L266.43,28.44 L268.32,28.53 L269.80,28.60 L270.32,28.60 L270.05,28.60 L269.81,28.60 L270.45,28.60 L272.80,28.60 L277.83,28.60 L284.97,28.60 L292.79,28.60 L299.81,28.60 L304.60,28.60 Z" fill="url(#g1f0)" stroke="none"/>
<path d="M213.30,28.60 L213.54,28.60 L213.88,28.60 L214.28,28.60 L214.73,28.60 L215.20,28.60 L215.71,28.59 L216.28,28.58 L216.87,28.57 L217.45,28.53 L218.00,28.45 L218.50,28.37 L218.98,28.29 L219.45,28.16 L219.90,27.95 L220.35,27.42 L220.78,27.33 L221.18,26.73 L221.58,25.79 L222.01,25.07 L222.50,24.13 L223.07,22.91 L223.70,21.65 L224.36,20.56 L225.01,19.10 L225.60,17.99 L226.13,16.46 L226.62,15.02 L227.10,13.91 L227.55,12.43 L228.00,10.91 L228.43,9.75 L228.85,9.10 L229.25,8.23 L229.67,7.56 L230.10,6.94 L230.57,6.48 L231.05,6.24 L231.55,5.75 L232.03,5.26 L232.50,5.10 L232.93,4.49 L233.35,4.88 L233.75,4.75 L234.17,4.29 L234.60,4.73 L235.07,4.78 L235.55,4.81 L236.05,5.50 L236.53,5.71 L237.00,5.82 L237.43,6.11 L237.82,6.88 L238.22,7.15 L238.63,7.28 L239.10,8.00 L239.64,8.78 L240.22,9.46 L240.83,10.60 L241.43,11.83 L242.00,12.30 L242.51,13.49 L242.98,13.83 L243.45,15.06 L243.94,15.64 L244.50,16.52 L245.13,17.02 L245.81,17.67 L246.53,19.05 L247.26,19.59 L248.00,20.75 L248.73,21.36 L249.48,22.42 L250.24,23.10 L251.01,23.94 L251.80,24.58 L252.60,24.81 L253.42,25.42 L254.26,25.73 L255.12,25.98 L256.00,26.81 L256.85,27.17 L257.68,27.16 L258.55,27.60 L259.56,27.78 L260.80,28.00 L262.43,28.18 L264.39,28.33 L266.43,28.44 L268.32,28.53 L269.80,28.60 L270.32,28.60 L270.05,28.60 L269.81,28.60 L270.45,28.60 L272.80,28.60 L277.83,28.60 L284.97,28.60 L292.79,28.60 L299.81,28.60 L304.60,28.60" fill="none" stroke="#b22c4c" stroke-width="1.05" stroke-linejoin="round"/>
<path d="M213.30,41.10 L214.09,41.10 L215.23,41.10 L216.53,41.10 L217.78,41.10 L218.80,41.10 L219.54,41.10 L220.15,41.10 L220.66,41.10 L221.13,41.10 L221.60,40.95 L222.08,40.75 L222.52,40.54 L222.95,40.22 L223.35,39.51 L223.75,38.71 L224.10,37.85 L224.42,35.78 L224.74,34.18 L225.09,32.88 L225.50,30.74 L226.00,29.97 L226.57,27.88 L227.17,26.09 L227.76,25.12 L228.30,23.38 L228.78,22.74 L229.22,22.33 L229.64,21.29 L230.06,20.95 L230.50,20.48 L230.96,18.99 L231.42,18.94 L231.88,18.09 L232.34,18.16 L232.80,18.14 L233.24,17.78 L233.68,18.58 L234.12,18.46 L234.56,19.72 L235.00,19.27 L235.45,19.56 L235.89,19.60 L236.35,19.99 L236.81,20.14 L237.30,20.93 L237.81,21.11 L238.35,21.72 L238.90,22.07 L239.45,22.71 L240.00,24.13 L240.51,24.31 L241.00,25.08 L241.50,25.53 L242.06,25.11 L242.70,26.24 L243.45,26.79 L244.28,27.65 L245.17,27.26 L246.08,27.81 L247.00,28.87 L247.92,28.70 L248.86,29.78 L249.83,29.83 L250.81,30.77 L251.80,30.18 L252.81,31.72 L253.83,31.36 L254.87,31.71 L255.93,32.20 L257.00,33.38 L258.10,33.91 L259.22,34.45 L260.36,34.87 L261.49,34.20 L262.60,34.88 L263.69,36.28 L264.77,36.61 L265.84,36.53 L266.92,37.84 L268.00,37.67 L269.07,38.74 L270.11,38.47 L271.17,38.98 L272.29,40.06 L273.50,40.10 L274.90,40.40 L276.46,40.64 L278.04,40.83 L279.50,40.98 L280.70,41.10 L281.28,41.10 L281.34,41.10 L281.41,41.10 L282.02,41.10 L283.70,41.10 L287.07,41.10 L291.77,41.10 L296.89,41.10 L301.47,41.10 L304.60,41.10 Z" fill="url(#g1f1)" stroke="none"/>
<path d="M213.30,41.10 L214.09,41.10 L215.23,41.10 L216.53,41.10 L217.78,41.10 L218.80,41.10 L219.54,41.10 L220.15,41.10 L220.66,41.10 L221.13,41.10 L221.60,40.95 L222.08,40.75 L222.52,40.54 L222.95,40.22 L223.35,39.51 L223.75,38.71 L224.10,37.85 L224.42,35.78 L224.74,34.18 L225.09,32.88 L225.50,30.74 L226.00,29.97 L226.57,27.88 L227.17,26.09 L227.76,25.12 L228.30,23.38 L228.78,22.74 L229.22,22.33 L229.64,21.29 L230.06,20.95 L230.50,20.48 L230.96,18.99 L231.42,18.94 L231.88,18.09 L232.34,18.16 L232.80,18.14 L233.24,17.78 L233.68,18.58 L234.12,18.46 L234.56,19.72 L235.00,19.27 L235.45,19.56 L235.89,19.60 L236.35,19.99 L236.81,20.14 L237.30,20.93 L237.81,21.11 L238.35,21.72 L238.90,22.07 L239.45,22.71 L240.00,24.13 L240.51,24.31 L241.00,25.08 L241.50,25.53 L242.06,25.11 L242.70,26.24 L243.45,26.79 L244.28,27.65 L245.17,27.26 L246.08,27.81 L247.00,28.87 L247.92,28.70 L248.86,29.78 L249.83,29.83 L250.81,30.77 L251.80,30.18 L252.81,31.72 L253.83,31.36 L254.87,31.71 L255.93,32.20 L257.00,33.38 L258.10,33.91 L259.22,34.45 L260.36,34.87 L261.49,34.20 L262.60,34.88 L263.69,36.28 L264.77,36.61 L265.84,36.53 L266.92,37.84 L268.00,37.67 L269.07,38.74 L270.11,38.47 L271.17,38.98 L272.29,40.06 L273.50,40.10 L274.90,40.40 L276.46,40.64 L278.04,40.83 L279.50,40.98 L280.70,41.10 L281.28,41.10 L281.34,41.10 L281.41,41.10 L282.02,41.10 L283.70,41.10 L287.07,41.10 L291.77,41.10 L296.89,41.10 L301.47,41.10 L304.60,41.10" fill="none" stroke="#553050" stroke-width="1.05" stroke-linejoin="round"/>
<path d="M213.30,53.80 L213.95,53.80 L214.90,53.80 L215.97,53.80 L217.02,53.80 L217.90,53.80 L218.58,53.80 L219.17,53.80 L219.70,53.80 L220.20,53.80 L220.70,53.65 L221.19,53.44 L221.66,53.21 L222.12,52.86 L222.55,51.81 L222.99,51.53 L223.38,50.29 L223.75,48.36 L224.11,46.05 L224.52,45.10 L225.00,43.17 L225.59,41.77 L226.26,39.68 L226.96,39.08 L227.66,37.77 L228.30,35.83 L228.88,35.45 L229.42,34.34 L229.95,33.80 L230.47,32.75 L231.00,32.32 L231.55,32.43 L232.12,31.89 L232.68,31.57 L233.22,31.05 L233.70,30.21 L234.12,30.98 L234.48,30.10 L234.82,30.29 L235.15,30.93 L235.50,31.21 L235.85,32.45 L236.18,32.48 L236.52,32.20 L236.88,32.33 L237.30,32.93 L237.78,34.65 L238.32,34.22 L238.88,35.31 L239.45,35.91 L240.00,36.68 L240.50,38.06 L240.96,38.65 L241.43,39.07 L241.99,39.53 L242.70,41.33 L243.59,40.58 L244.62,41.81 L245.73,41.08 L246.88,41.77 L248.00,42.11 L249.10,42.07 L250.23,41.64 L251.36,41.74 L252.49,42.22 L253.60,42.11 L254.69,42.56 L255.77,43.26 L256.85,44.16 L257.92,43.57 L259.00,44.82 L260.09,44.56 L261.20,44.85 L262.30,45.53 L263.37,46.82 L264.40,46.43 L265.37,47.02 L266.30,48.11 L267.21,48.06 L268.10,49.41 L269.00,50.25 L269.86,50.45 L270.68,50.27 L271.51,52.00 L272.43,52.04 L273.50,52.10 L274.83,52.87 L276.39,53.11 L277.99,53.40 L279.49,53.63 L280.70,53.80 L281.28,53.80 L281.34,53.80 L281.41,53.80 L282.02,53.80 L283.70,53.80 L287.07,53.80 L291.77,53.80 L296.89,53.80 L301.47,53.80 L304.60,53.80 Z" fill="url(#g1f2)" stroke="none"/>
<path d="M213.30,53.80 L213.95,53.80 L214.90,53.80 L215.97,53.80 L217.02,53.80 L217.90,53.80 L218.58,53.80 L219.17,53.80 L219.70,53.80 L220.20,53.80 L220.70,53.65 L221.19,53.44 L221.66,53.21 L222.12,52.86 L222.55,51.81 L222.99,51.53 L223.38,50.29 L223.75,48.36 L224.11,46.05 L224.52,45.10 L225.00,43.17 L225.59,41.77 L226.26,39.68 L226.96,39.08 L227.66,37.77 L228.30,35.83 L228.88,35.45 L229.42,34.34 L229.95,33.80 L230.47,32.75 L231.00,32.32 L231.55,32.43 L232.12,31.89 L232.68,31.57 L233.22,31.05 L233.70,30.21 L234.12,30.98 L234.48,30.10 L234.82,30.29 L235.15,30.93 L235.50,31.21 L235.85,32.45 L236.18,32.48 L236.52,32.20 L236.88,32.33 L237.30,32.93 L237.78,34.65 L238.32,34.22 L238.88,35.31 L239.45,35.91 L240.00,36.68 L240.50,38.06 L240.96,38.65 L241.43,39.07 L241.99,39.53 L242.70,41.33 L243.59,40.58 L244.62,41.81 L245.73,41.08 L246.88,41.77 L248.00,42.11 L249.10,42.07 L250.23,41.64 L251.36,41.74 L252.49,42.22 L253.60,42.11 L254.69,42.56 L255.77,43.26 L256.85,44.16 L257.92,43.57 L259.00,44.82 L260.09,44.56 L261.20,44.85 L262.30,45.53 L263.37,46.82 L264.40,46.43 L265.37,47.02 L266.30,48.11 L267.21,48.06 L268.10,49.41 L269.00,50.25 L269.86,50.45 L270.68,50.27 L271.51,52.00 L272.43,52.04 L273.50,52.10 L274.83,52.87 L276.39,53.11 L277.99,53.40 L279.49,53.63 L280.70,53.80 L281.28,53.80 L281.34,53.80 L281.41,53.80 L282.02,53.80 L283.70,53.80 L287.07,53.80 L291.77,53.80 L296.89,53.80 L301.47,53.80 L304.60,53.80" fill="none" stroke="#2b4a70" stroke-width="1.05" stroke-linejoin="round"/>
<path d="M213.30,66.40 L213.95,66.40 L214.90,66.40 L215.97,66.40 L217.02,66.40 L217.90,66.40 L218.59,66.40 L219.18,66.40 L219.72,66.40 L220.21,66.40 L220.70,66.25 L221.17,66.02 L221.61,65.78 L222.03,65.41 L222.43,64.21 L222.81,63.57 L223.16,63.02 L223.46,61.29 L223.76,58.35 L224.09,56.97 L224.50,55.48 L225.02,53.72 L225.64,52.13 L226.28,50.94 L226.88,50.10 L227.40,48.50 L227.80,48.33 L228.11,47.23 L228.39,47.01 L228.68,45.79 L229.00,45.71 L229.37,44.72 L229.77,44.50 L230.18,43.75 L230.59,43.57 L231.00,43.81 L231.41,43.94 L231.82,42.79 L232.23,44.25 L232.63,44.46 L233.00,43.47 L233.33,44.05 L233.63,44.66 L233.92,44.10 L234.24,44.11 L234.60,44.63 L235.03,45.41 L235.52,46.37 L236.02,47.36 L236.53,47.75 L237.00,47.95 L237.43,49.60 L237.85,50.35 L238.25,51.33 L238.67,51.88 L239.10,52.99 L239.57,53.37 L240.05,53.10 L240.55,54.56 L241.03,54.57 L241.50,55.15 L241.90,55.57 L242.25,57.04 L242.61,56.45 L243.04,57.67 L243.60,57.61 L244.34,58.24 L245.22,59.18 L246.17,58.84 L247.12,60.01 L248.00,60.52 L248.74,60.51 L249.40,60.93 L250.06,60.43 L250.83,61.37 L251.80,61.46 L253.02,61.41 L254.44,62.28 L255.96,62.76 L257.51,63.56 L259.00,64.02 L260.32,64.18 L261.53,64.25 L262.79,64.69 L264.29,64.61 L266.20,64.61 L268.82,65.74 L272.03,65.70 L275.38,65.99 L278.42,66.23 L280.70,66.40 L281.75,66.40 L281.87,66.40 L281.76,66.40 L282.14,66.40 L283.70,66.40 L287.07,66.40 L291.77,66.40 L296.89,66.40 L301.47,66.40 L304.60,66.40 Z" fill="url(#g1f3)" stroke="none"/>
<path d="M213.30,66.40 L213.95,66.40 L214.90,66.40 L215.97,66.40 L217.02,66.40 L217.90,66.40 L218.59,66.40 L219.18,66.40 L219.72,66.40 L220.21,66.40 L220.70,66.25 L221.17,66.02 L221.61,65.78 L222.03,65.41 L222.43,64.21 L222.81,63.57 L223.16,63.02 L223.46,61.29 L223.76,58.35 L224.09,56.97 L224.50,55.48 L225.02,53.72 L225.64,52.13 L226.28,50.94 L226.88,50.10 L227.40,48.50 L227.80,48.33 L228.11,47.23 L228.39,47.01 L228.68,45.79 L229.00,45.71 L229.37,44.72 L229.77,44.50 L230.18,43.75 L230.59,43.57 L231.00,43.81 L231.41,43.94 L231.82,42.79 L232.23,44.25 L232.63,44.46 L233.00,43.47 L233.33,44.05 L233.63,44.66 L233.92,44.10 L234.24,44.11 L234.60,44.63 L235.03,45.41 L235.52,46.37 L236.02,47.36 L236.53,47.75 L237.00,47.95 L237.43,49.60 L237.85,50.35 L238.25,51.33 L238.67,51.88 L239.10,52.99 L239.57,53.37 L240.05,53.10 L240.55,54.56 L241.03,54.57 L241.50,55.15 L241.90,55.57 L242.25,57.04 L242.61,56.45 L243.04,57.67 L243.60,57.61 L244.34,58.24 L245.22,59.18 L246.17,58.84 L247.12,60.01 L248.00,60.52 L248.74,60.51 L249.40,60.93 L250.06,60.43 L250.83,61.37 L251.80,61.46 L253.02,61.41 L254.44,62.28 L255.96,62.76 L257.51,63.56 L259.00,64.02 L260.32,64.18 L261.53,64.25 L262.79,64.69 L264.29,64.61 L266.20,64.61 L268.82,65.74 L272.03,65.70 L275.38,65.99 L278.42,66.23 L280.70,66.40 L281.75,66.40 L281.87,66.40 L281.76,66.40 L282.14,66.40 L283.70,66.40 L287.07,66.40 L291.77,66.40 L296.89,66.40 L301.47,66.40 L304.60,66.40" fill="none" stroke="#3f9cc6" stroke-width="1.05" stroke-linejoin="round"/>
<path d="M213.30,79.00 L214.09,79.00 L215.23,79.00 L216.53,79.00 L217.78,79.00 L218.80,79.00 L219.54,79.00 L220.14,79.00 L220.64,79.00 L221.11,78.99 L221.60,78.85 L222.10,78.67 L222.57,78.49 L223.03,78.21 L223.48,77.89 L223.92,77.12 L224.33,75.48 L224.72,73.84 L225.10,73.20 L225.52,71.80 L226.00,69.35 L226.60,69.04 L227.29,67.49 L228.00,66.50 L228.66,66.16 L229.20,65.43 L229.58,63.70 L229.85,64.16 L230.06,63.42 L230.26,62.62 L230.50,62.35 L230.75,62.12 L231.00,60.81 L231.25,61.41 L231.54,60.30 L231.90,60.13 L232.34,61.33 L232.84,61.44 L233.39,61.74 L233.95,62.61 L234.50,62.01 L235.05,63.54 L235.61,63.00 L236.18,64.12 L236.74,65.09 L237.30,65.10 L237.85,65.78 L238.39,66.03 L238.92,66.55 L239.46,67.12 L240.00,67.55 L240.53,68.25 L241.05,69.51 L241.58,69.54 L242.12,69.60 L242.70,70.24 L243.31,70.46 L243.94,70.88 L244.60,70.97 L245.29,71.37 L246.00,71.68 L246.75,71.40 L247.53,72.25 L248.33,72.58 L249.16,72.33 L250.00,72.65 L250.87,72.04 L251.76,71.75 L252.68,72.30 L253.59,71.18 L254.50,71.58 L255.42,72.02 L256.35,70.81 L257.27,70.90 L258.16,71.40 L259.00,71.99 L259.76,72.10 L260.46,72.31 L261.13,72.55 L261.80,72.02 L262.50,72.00 L263.21,72.64 L263.91,72.58 L264.63,73.35 L265.39,73.87 L266.20,74.08 L267.10,74.19 L268.06,74.81 L269.06,75.42 L270.05,76.53 L271.00,76.43 L271.82,76.48 L272.53,77.28 L273.27,78.29 L274.15,78.29 L275.30,78.60 L276.90,78.80 L278.85,78.90 L280.91,78.95 L282.81,78.97 L284.30,79.00 L285.06,79.00 L285.25,79.00 L285.36,79.00 L285.88,79.00 L287.30,79.00 L290.12,79.00 L294.02,79.00 L298.24,79.00 L302.02,79.00 L304.60,79.00 Z" fill="url(#g1f4)" stroke="none"/>
<path d="M213.30,79.00 L214.09,79.00 L215.23,79.00 L216.53,79.00 L217.78,79.00 L218.80,79.00 L219.54,79.00 L220.14,79.00 L220.64,79.00 L221.11,78.99 L221.60,78.85 L222.10,78.67 L222.57,78.49 L223.03,78.21 L223.48,77.89 L223.92,77.12 L224.33,75.48 L224.72,73.84 L225.10,73.20 L225.52,71.80 L226.00,69.35 L226.60,69.04 L227.29,67.49 L228.00,66.50 L228.66,66.16 L229.20,65.43 L229.58,63.70 L229.85,64.16 L230.06,63.42 L230.26,62.62 L230.50,62.35 L230.75,62.12 L231.00,60.81 L231.25,61.41 L231.54,60.30 L231.90,60.13 L232.34,61.33 L232.84,61.44 L233.39,61.74 L233.95,62.61 L234.50,62.01 L235.05,63.54 L235.61,63.00 L236.18,64.12 L236.74,65.09 L237.30,65.10 L237.85,65.78 L238.39,66.03 L238.92,66.55 L239.46,67.12 L240.00,67.55 L240.53,68.25 L241.05,69.51 L241.58,69.54 L242.12,69.60 L242.70,70.24 L243.31,70.46 L243.94,70.88 L244.60,70.97 L245.29,71.37 L246.00,71.68 L246.75,71.40 L247.53,72.25 L248.33,72.58 L249.16,72.33 L250.00,72.65 L250.87,72.04 L251.76,71.75 L252.68,72.30 L253.59,71.18 L254.50,71.58 L255.42,72.02 L256.35,70.81 L257.27,70.90 L258.16,71.40 L259.00,71.99 L259.76,72.10 L260.46,72.31 L261.13,72.55 L261.80,72.02 L262.50,72.00 L263.21,72.64 L263.91,72.58 L264.63,73.35 L265.39,73.87 L266.20,74.08 L267.10,74.19 L268.06,74.81 L269.06,75.42 L270.05,76.53 L271.00,76.43 L271.82,76.48 L272.53,77.28 L273.27,78.29 L274.15,78.29 L275.30,78.60 L276.90,78.80 L278.85,78.90 L280.91,78.95 L282.81,78.97 L284.30,79.00 L285.06,79.00 L285.25,79.00 L285.36,79.00 L285.88,79.00 L287.30,79.00 L290.12,79.00 L294.02,79.00 L298.24,79.00 L302.02,79.00 L304.60,79.00" fill="none" stroke="#2b6450" stroke-width="1.05" stroke-linejoin="round"/>
<path d="M213.30,91.60 L213.95,91.60 L214.90,91.60 L215.97,91.60 L217.02,91.60 L217.90,91.60 L218.58,91.60 L219.17,91.60 L219.69,91.60 L220.19,91.60 L220.70,91.45 L221.22,91.22 L221.71,90.97 L222.20,90.84 L222.68,89.97 L223.16,88.44 L223.61,87.70 L224.04,86.21 L224.47,84.35 L224.95,81.32 L225.50,80.01 L226.18,78.02 L226.97,76.82 L227.79,76.03 L228.56,75.17 L229.20,74.67 L229.68,73.26 L230.06,72.57 L230.37,72.30 L230.67,71.83 L231.00,71.15 L231.35,70.74 L231.70,69.94 L232.05,69.97 L232.41,69.95 L232.80,70.21 L233.21,70.42 L233.65,70.14 L234.09,71.15 L234.55,72.07 L235.00,72.76 L235.45,73.59 L235.89,74.05 L236.35,74.40 L236.81,75.50 L237.30,76.19 L237.81,76.88 L238.35,77.34 L238.90,77.85 L239.45,78.81 L240.00,79.80 L240.52,80.11 L241.03,81.33 L241.54,81.37 L242.09,81.39 L242.70,81.86 L243.39,81.79 L244.16,82.38 L244.95,82.48 L245.74,82.28 L246.50,81.61 L247.21,81.82 L247.90,81.70 L248.58,80.91 L249.27,81.02 L250.00,80.61 L250.77,80.54 L251.56,79.26 L252.37,79.45 L253.19,78.61 L254.00,78.23 L254.84,78.21 L255.71,77.63 L256.58,77.37 L257.39,77.36 L258.10,77.43 L258.69,78.00 L259.20,78.09 L259.64,78.34 L260.07,77.67 L260.50,78.07 L260.93,79.26 L261.35,79.45 L261.75,78.51 L262.17,79.76 L262.60,79.32 L263.05,80.17 L263.51,79.59 L263.98,81.17 L264.48,80.63 L265.00,81.84 L265.55,81.34 L266.11,82.17 L266.70,82.70 L267.33,83.81 L268.00,84.70 L268.75,84.92 L269.56,85.20 L270.40,86.20 L271.23,86.76 L272.00,87.47 L272.70,88.03 L273.36,88.41 L273.99,89.91 L274.63,90.07 L275.30,90.47 L276.01,90.77 L276.75,91.06 L277.49,91.29 L278.21,91.46 L278.90,91.60 L279.22,91.60 L279.20,91.60 L279.31,91.60 L280.05,91.60 L281.90,91.60 L285.54,91.60 L290.65,91.60 L296.21,91.60 L301.20,91.60 L304.60,91.60 Z" fill="url(#g1f5)" stroke="none"/>
<path d="M213.30,91.60 L213.95,91.60 L214.90,91.60 L215.97,91.60 L217.02,91.60 L217.90,91.60 L218.58,91.60 L219.17,91.60 L219.69,91.60 L220.19,91.60 L220.70,91.45 L221.22,91.22 L221.71,90.97 L222.20,90.84 L222.68,89.97 L223.16,88.44 L223.61,87.70 L224.04,86.21 L224.47,84.35 L224.95,81.32 L225.50,80.01 L226.18,78.02 L226.97,76.82 L227.79,76.03 L228.56,75.17 L229.20,74.67 L229.68,73.26 L230.06,72.57 L230.37,72.30 L230.67,71.83 L231.00,71.15 L231.35,70.74 L231.70,69.94 L232.05,69.97 L232.41,69.95 L232.80,70.21 L233.21,70.42 L233.65,70.14 L234.09,71.15 L234.55,72.07 L235.00,72.76 L235.45,73.59 L235.89,74.05 L236.35,74.40 L236.81,75.50 L237.30,76.19 L237.81,76.88 L238.35,77.34 L238.90,77.85 L239.45,78.81 L240.00,79.80 L240.52,80.11 L241.03,81.33 L241.54,81.37 L242.09,81.39 L242.70,81.86 L243.39,81.79 L244.16,82.38 L244.95,82.48 L245.74,82.28 L246.50,81.61 L247.21,81.82 L247.90,81.70 L248.58,80.91 L249.27,81.02 L250.00,80.61 L250.77,80.54 L251.56,79.26 L252.37,79.45 L253.19,78.61 L254.00,78.23 L254.84,78.21 L255.71,77.63 L256.58,77.37 L257.39,77.36 L258.10,77.43 L258.69,78.00 L259.20,78.09 L259.64,78.34 L260.07,77.67 L260.50,78.07 L260.93,79.26 L261.35,79.45 L261.75,78.51 L262.17,79.76 L262.60,79.32 L263.05,80.17 L263.51,79.59 L263.98,81.17 L264.48,80.63 L265.00,81.84 L265.55,81.34 L266.11,82.17 L266.70,82.70 L267.33,83.81 L268.00,84.70 L268.75,84.92 L269.56,85.20 L270.40,86.20 L271.23,86.76 L272.00,87.47 L272.70,88.03 L273.36,88.41 L273.99,89.91 L274.63,90.07 L275.30,90.47 L276.01,90.77 L276.75,91.06 L277.49,91.29 L278.21,91.46 L278.90,91.60 L279.22,91.60 L279.20,91.60 L279.31,91.60 L280.05,91.60 L281.90,91.60 L285.54,91.60 L290.65,91.60 L296.21,91.60 L301.20,91.60 L304.60,91.60" fill="none" stroke="#5cb860" stroke-width="1.05" stroke-linejoin="round"/>
<text transform="translate(301.4,28.5) scale(0.9,1)" font-size="8.80" text-anchor="end" font-weight="normal" fill="#2a2a2a" stroke="#2a2a2a" stroke-width="0.12"  >152</text>
<text transform="translate(301.4,41) scale(0.9,1)" font-size="8.80" text-anchor="end" font-weight="normal" fill="#2a2a2a" stroke="#2a2a2a" stroke-width="0.12"  >350</text>
<text transform="translate(301.4,53.7) scale(0.9,1)" font-size="8.80" text-anchor="end" font-weight="normal" fill="#2a2a2a" stroke="#2a2a2a" stroke-width="0.12"  >404</text>
<text transform="translate(301.4,66.3) scale(0.9,1)" font-size="8.80" text-anchor="end" font-weight="normal" fill="#2a2a2a" stroke="#2a2a2a" stroke-width="0.12"  >195</text>
<text transform="translate(301.4,78.9) scale(0.9,1)" font-size="8.80" text-anchor="end" font-weight="normal" fill="#2a2a2a" stroke="#2a2a2a" stroke-width="0.12"  >459</text>
<text transform="translate(301.4,91.5) scale(0.9,1)" font-size="8.80" text-anchor="end" font-weight="normal" fill="#2a2a2a" stroke="#2a2a2a" stroke-width="0.12"  >574</text>
<rect x="213.3" y="1.6" width="91.3" height="91.2" stroke="#1a1a1a" stroke-width="1.4" fill="none"/>
<path d="M223.9,92.8v2.0M226.1,92.8v2.0M228.3,92.8v2.0M230.5,92.8v2.0M232.7,92.8v2.0M235.3,92.8v2.0M241.2,92.8v2.0M244.6,92.8v2.0M247.0,92.8v2.0M248.9,92.8v2.0M250.5,92.8v2.0M251.8,92.8v2.0M252.9,92.8v2.0M253.9,92.8v2.0M254.8,92.8v2.0M260.7,92.8v2.0M264.1,92.8v2.0M266.5,92.8v2.0M268.4,92.8v2.0M270.0,92.8v2.0M271.3,92.8v2.0M272.4,92.8v2.0M273.4,92.8v2.0M274.3,92.8v2.0M280.2,92.8v2.0M283.6,92.8v2.0M286.0,92.8v2.0M287.9,92.8v2.0M289.5,92.8v2.0M290.8,92.8v2.0M291.9,92.8v2.0M292.9,92.8v2.0M293.8,92.8v2.0M299.7,92.8v2.0" stroke="#2a2a2a" stroke-width="0.55" fill="none"/>
<path d="M231.7,93.4 L234.9,93.4 L233.3,95.6 Z" fill="#111"/>
<rect x="334.6" y="1.6" width="91.1" height="36.7" fill="url(#g2b0)"/>
<rect x="334.6" y="38.3" width="91.1" height="18.1" fill="url(#g2b1)"/>
<rect x="334.6" y="56.4" width="91.1" height="17.7" fill="url(#g2b2)"/>
<rect x="334.6" y="74.1" width="91.1" height="17.3" fill="url(#g2b3)"/>
<path d="M334.60,38.30 L336.46,38.30 L339.17,38.30 L342.20,38.30 L345.02,38.30 L347.10,38.30 L348.28,38.28 L348.93,38.26 L349.26,38.23 L349.51,38.20 L349.90,38.15 L350.43,38.11 L350.94,38.09 L351.45,38.05 L351.96,37.96 L352.47,37.79 L352.96,37.57 L353.44,37.31 L353.93,36.82 L354.44,36.27 L355.00,35.77 L355.63,35.11 L356.32,34.36 L357.02,33.77 L357.70,32.78 L358.30,31.36 L358.81,30.77 L359.25,29.53 L359.67,28.53 L360.07,27.24 L360.50,26.16 L360.96,24.54 L361.42,23.67 L361.88,22.20 L362.34,21.23 L362.80,20.04 L363.24,18.53 L363.68,16.95 L364.12,15.65 L364.56,13.75 L365.00,12.54 L365.45,10.95 L365.89,10.04 L366.34,8.65 L366.81,7.82 L367.30,7.28 L367.84,6.53 L368.43,6.39 L369.02,6.53 L369.59,6.24 L370.10,6.57 L370.54,6.39 L370.93,6.81 L371.30,6.73 L371.65,7.19 L372.00,7.67 L372.35,8.07 L372.69,9.07 L373.02,9.50 L373.36,9.84 L373.70,10.53 L374.05,11.34 L374.41,12.73 L374.78,13.72 L375.14,14.23 L375.50,15.33 L375.86,16.49 L376.22,18.07 L376.59,19.16 L376.95,20.42 L377.30,21.56 L377.64,23.12 L377.98,23.68 L378.31,25.07 L378.65,25.97 L379.00,27.29 L379.35,28.17 L379.69,28.75 L380.04,29.85 L380.44,30.54 L380.90,31.85 L381.44,32.20 L382.05,33.55 L382.70,33.82 L383.35,34.62 L384.00,35.60 L384.57,35.88 L385.08,36.62 L385.62,36.83 L386.30,37.56 L387.20,37.60 L388.47,37.84 L390.03,38.01 L391.69,38.14 L393.25,38.23 L394.50,38.30 L394.97,38.30 L394.80,38.30 L394.69,38.30 L395.36,38.30 L397.50,38.30 L401.98,38.30 L408.32,38.30 L415.24,38.30 L421.46,38.30 L425.70,38.30 Z" fill="url(#g2f0)" stroke="none"/>
<path d="M334.60,38.30 L336.46,38.30 L339.17,38.30 L342.20,38.30 L345.02,38.30 L347.10,38.30 L348.28,38.28 L348.93,38.26 L349.26,38.23 L349.51,38.20 L349.90,38.15 L350.43,38.11 L350.94,38.09 L351.45,38.05 L351.96,37.96 L352.47,37.79 L352.96,37.57 L353.44,37.31 L353.93,36.82 L354.44,36.27 L355.00,35.77 L355.63,35.11 L356.32,34.36 L357.02,33.77 L357.70,32.78 L358.30,31.36 L358.81,30.77 L359.25,29.53 L359.67,28.53 L360.07,27.24 L360.50,26.16 L360.96,24.54 L361.42,23.67 L361.88,22.20 L362.34,21.23 L362.80,20.04 L363.24,18.53 L363.68,16.95 L364.12,15.65 L364.56,13.75 L365.00,12.54 L365.45,10.95 L365.89,10.04 L366.34,8.65 L366.81,7.82 L367.30,7.28 L367.84,6.53 L368.43,6.39 L369.02,6.53 L369.59,6.24 L370.10,6.57 L370.54,6.39 L370.93,6.81 L371.30,6.73 L371.65,7.19 L372.00,7.67 L372.35,8.07 L372.69,9.07 L373.02,9.50 L373.36,9.84 L373.70,10.53 L374.05,11.34 L374.41,12.73 L374.78,13.72 L375.14,14.23 L375.50,15.33 L375.86,16.49 L376.22,18.07 L376.59,19.16 L376.95,20.42 L377.30,21.56 L377.64,23.12 L377.98,23.68 L378.31,25.07 L378.65,25.97 L379.00,27.29 L379.35,28.17 L379.69,28.75 L380.04,29.85 L380.44,30.54 L380.90,31.85 L381.44,32.20 L382.05,33.55 L382.70,33.82 L383.35,34.62 L384.00,35.60 L384.57,35.88 L385.08,36.62 L385.62,36.83 L386.30,37.56 L387.20,37.60 L388.47,37.84 L390.03,38.01 L391.69,38.14 L393.25,38.23 L394.50,38.30 L394.97,38.30 L394.80,38.30 L394.69,38.30 L395.36,38.30 L397.50,38.30 L401.98,38.30 L408.32,38.30 L415.24,38.30 L421.46,38.30 L425.70,38.30" fill="none" stroke="#b22c4c" stroke-width="1.05" stroke-linejoin="round"/>
<path d="M334.60,56.40 L337.28,56.40 L341.20,56.40 L345.57,56.40 L349.60,56.40 L352.50,56.40 L354.04,56.39 L354.73,56.37 L354.94,56.34 L355.02,56.30 L355.30,56.25 L355.79,56.20 L356.25,56.16 L356.70,56.10 L357.13,55.98 L357.55,55.76 L357.95,55.43 L358.33,54.71 L358.70,55.09 L359.09,54.32 L359.50,54.07 L359.96,53.46 L360.45,53.06 L360.95,51.65 L361.44,50.95 L361.90,50.16 L362.32,49.70 L362.71,47.51 L363.08,45.67 L363.44,43.39 L363.80,41.88 L364.16,40.63 L364.50,38.48 L364.84,36.06 L365.18,34.24 L365.50,33.64 L365.82,32.09 L366.13,31.48 L366.43,30.23 L366.72,30.22 L367.00,29.26 L367.25,28.79 L367.47,27.73 L367.68,28.01 L367.92,27.39 L368.20,26.61 L368.55,26.72 L368.96,26.66 L369.38,25.92 L369.77,24.98 L370.10,24.65 L370.34,25.30 L370.53,26.09 L370.69,27.28 L370.84,27.16 L371.00,27.73 L371.18,27.70 L371.35,29.10 L371.53,28.87 L371.71,29.52 L371.90,29.16 L372.11,28.48 L372.34,28.36 L372.58,27.59 L372.80,27.02 L373.00,26.47 L373.16,26.76 L373.28,26.33 L373.40,25.88 L373.53,25.77 L373.70,26.28 L373.92,26.61 L374.17,26.97 L374.44,28.79 L374.72,29.75 L375.00,29.69 L375.27,31.52 L375.55,31.85 L375.84,33.32 L376.12,34.31 L376.40,34.45 L376.68,35.01 L376.96,34.44 L377.25,34.42 L377.53,34.76 L377.80,34.69 L378.06,34.70 L378.30,34.85 L378.54,35.58 L378.80,36.35 L379.10,35.81 L379.44,37.11 L379.83,37.78 L380.23,37.74 L380.62,38.83 L381.00,40.01 L381.34,40.94 L381.67,41.19 L381.99,41.79 L382.32,42.81 L382.70,43.78 L383.12,44.49 L383.58,44.87 L384.06,45.17 L384.54,45.29 L385.00,46.14 L385.42,46.82 L385.81,46.16 L386.21,46.94 L386.66,47.71 L387.20,47.50 L387.86,48.47 L388.62,49.41 L389.42,49.13 L390.23,50.12 L391.00,50.31 L391.72,51.14 L392.42,51.35 L393.11,51.52 L393.80,51.84 L394.50,51.88 L395.20,52.53 L395.89,53.08 L396.59,53.70 L397.29,54.09 L398.00,54.15 L398.67,54.54 L399.30,53.83 L399.96,54.89 L400.73,55.44 L401.70,54.82 L402.98,55.71 L404.53,55.67 L406.15,55.96 L407.67,56.22 L408.90,56.40 L409.60,56.40 L409.88,56.40 L410.12,56.40 L410.68,56.40 L411.90,56.40 L414.19,56.40 L417.30,56.40 L420.66,56.40 L423.65,56.40 L425.70,56.40 Z" fill="url(#g2f1)" stroke="none"/>
<path d="M334.60,56.40 L337.28,56.40 L341.20,56.40 L345.57,56.40 L349.60,56.40 L352.50,56.40 L354.04,56.39 L354.73,56.37 L354.94,56.34 L355.02,56.30 L355.30,56.25 L355.79,56.20 L356.25,56.16 L356.70,56.10 L357.13,55.98 L357.55,55.76 L357.95,55.43 L358.33,54.71 L358.70,55.09 L359.09,54.32 L359.50,54.07 L359.96,53.46 L360.45,53.06 L360.95,51.65 L361.44,50.95 L361.90,50.16 L362.32,49.70 L362.71,47.51 L363.08,45.67 L363.44,43.39 L363.80,41.88 L364.16,40.63 L364.50,38.48 L364.84,36.06 L365.18,34.24 L365.50,33.64 L365.82,32.09 L366.13,31.48 L366.43,30.23 L366.72,30.22 L367.00,29.26 L367.25,28.79 L367.47,27.73 L367.68,28.01 L367.92,27.39 L368.20,26.61 L368.55,26.72 L368.96,26.66 L369.38,25.92 L369.77,24.98 L370.10,24.65 L370.34,25.30 L370.53,26.09 L370.69,27.28 L370.84,27.16 L371.00,27.73 L371.18,27.70 L371.35,29.10 L371.53,28.87 L371.71,29.52 L371.90,29.16 L372.11,28.48 L372.34,28.36 L372.58,27.59 L372.80,27.02 L373.00,26.47 L373.16,26.76 L373.28,26.33 L373.40,25.88 L373.53,25.77 L373.70,26.28 L373.92,26.61 L374.17,26.97 L374.44,28.79 L374.72,29.75 L375.00,29.69 L375.27,31.52 L375.55,31.85 L375.84,33.32 L376.12,34.31 L376.40,34.45 L376.68,35.01 L376.96,34.44 L377.25,34.42 L377.53,34.76 L377.80,34.69 L378.06,34.70 L378.30,34.85 L378.54,35.58 L378.80,36.35 L379.10,35.81 L379.44,37.11 L379.83,37.78 L380.23,37.74 L380.62,38.83 L381.00,40.01 L381.34,40.94 L381.67,41.19 L381.99,41.79 L382.32,42.81 L382.70,43.78 L383.12,44.49 L383.58,44.87 L384.06,45.17 L384.54,45.29 L385.00,46.14 L385.42,46.82 L385.81,46.16 L386.21,46.94 L386.66,47.71 L387.20,47.50 L387.86,48.47 L388.62,49.41 L389.42,49.13 L390.23,50.12 L391.00,50.31 L391.72,51.14 L392.42,51.35 L393.11,51.52 L393.80,51.84 L394.50,51.88 L395.20,52.53 L395.89,53.08 L396.59,53.70 L397.29,54.09 L398.00,54.15 L398.67,54.54 L399.30,53.83 L399.96,54.89 L400.73,55.44 L401.70,54.82 L402.98,55.71 L404.53,55.67 L406.15,55.96 L407.67,56.22 L408.90,56.40 L409.60,56.40 L409.88,56.40 L410.12,56.40 L410.68,56.40 L411.90,56.40 L414.19,56.40 L417.30,56.40 L420.66,56.40 L423.65,56.40 L425.70,56.40" fill="none" stroke="#2b6a58" stroke-width="1.05" stroke-linejoin="round"/>
<path d="M334.60,74.10 L337.00,74.10 L340.52,74.10 L344.44,74.10 L348.07,74.10 L350.70,74.10 L352.12,74.08 L352.79,74.06 L353.04,74.04 L353.17,74.00 L353.50,73.95 L354.02,73.91 L354.53,73.88 L355.04,73.83 L355.53,73.72 L356.03,73.53 L356.51,73.27 L356.98,72.66 L357.45,72.42 L357.95,71.88 L358.50,72.12 L359.14,70.76 L359.86,70.44 L360.59,69.34 L361.29,68.59 L361.90,66.90 L362.40,65.66 L362.82,62.65 L363.20,61.30 L363.58,58.76 L364.00,56.61 L364.47,54.64 L364.97,53.78 L365.47,51.58 L365.95,50.38 L366.40,48.24 L366.80,47.18 L367.16,46.20 L367.50,45.50 L367.84,45.57 L368.20,45.03 L368.56,43.51 L368.91,43.33 L369.28,43.40 L369.67,42.34 L370.10,42.27 L370.60,42.44 L371.17,41.88 L371.75,42.79 L372.31,41.72 L372.80,43.11 L373.20,43.42 L373.54,43.75 L373.85,43.20 L374.16,44.55 L374.50,44.65 L374.86,45.96 L375.24,47.01 L375.62,47.95 L376.00,48.15 L376.40,50.34 L376.80,50.43 L377.21,51.65 L377.63,53.34 L378.06,54.76 L378.50,55.65 L378.97,56.86 L379.45,58.60 L379.95,58.63 L380.43,59.94 L380.90,61.14 L381.33,62.32 L381.75,62.81 L382.15,64.06 L382.57,65.83 L383.00,66.16 L383.43,66.55 L383.83,67.04 L384.27,68.00 L384.77,68.48 L385.40,69.32 L386.18,70.67 L387.09,70.96 L388.06,71.12 L389.05,71.88 L390.00,72.22 L390.86,72.73 L391.68,72.54 L392.51,72.31 L393.43,73.04 L394.50,73.20 L395.83,73.41 L397.39,73.62 L398.99,73.82 L400.49,73.98 L401.70,74.10 L402.28,74.10 L402.34,74.10 L402.41,74.10 L403.02,74.10 L404.70,74.10 L408.08,74.10 L412.81,74.10 L417.95,74.10 L422.56,74.10 L425.70,74.10 Z" fill="url(#g2f2)" stroke="none"/>
<path d="M334.60,74.10 L337.00,74.10 L340.52,74.10 L344.44,74.10 L348.07,74.10 L350.70,74.10 L352.12,74.08 L352.79,74.06 L353.04,74.04 L353.17,74.00 L353.50,73.95 L354.02,73.91 L354.53,73.88 L355.04,73.83 L355.53,73.72 L356.03,73.53 L356.51,73.27 L356.98,72.66 L357.45,72.42 L357.95,71.88 L358.50,72.12 L359.14,70.76 L359.86,70.44 L360.59,69.34 L361.29,68.59 L361.90,66.90 L362.40,65.66 L362.82,62.65 L363.20,61.30 L363.58,58.76 L364.00,56.61 L364.47,54.64 L364.97,53.78 L365.47,51.58 L365.95,50.38 L366.40,48.24 L366.80,47.18 L367.16,46.20 L367.50,45.50 L367.84,45.57 L368.20,45.03 L368.56,43.51 L368.91,43.33 L369.28,43.40 L369.67,42.34 L370.10,42.27 L370.60,42.44 L371.17,41.88 L371.75,42.79 L372.31,41.72 L372.80,43.11 L373.20,43.42 L373.54,43.75 L373.85,43.20 L374.16,44.55 L374.50,44.65 L374.86,45.96 L375.24,47.01 L375.62,47.95 L376.00,48.15 L376.40,50.34 L376.80,50.43 L377.21,51.65 L377.63,53.34 L378.06,54.76 L378.50,55.65 L378.97,56.86 L379.45,58.60 L379.95,58.63 L380.43,59.94 L380.90,61.14 L381.33,62.32 L381.75,62.81 L382.15,64.06 L382.57,65.83 L383.00,66.16 L383.43,66.55 L383.83,67.04 L384.27,68.00 L384.77,68.48 L385.40,69.32 L386.18,70.67 L387.09,70.96 L388.06,71.12 L389.05,71.88 L390.00,72.22 L390.86,72.73 L391.68,72.54 L392.51,72.31 L393.43,73.04 L394.50,73.20 L395.83,73.41 L397.39,73.62 L398.99,73.82 L400.49,73.98 L401.70,74.10 L402.28,74.10 L402.34,74.10 L402.41,74.10 L403.02,74.10 L404.70,74.10 L408.08,74.10 L412.81,74.10 L417.95,74.10 L422.56,74.10 L425.70,74.10" fill="none" stroke="#3fae66" stroke-width="1.05" stroke-linejoin="round"/>
<path d="M334.60,91.40 L337.28,91.40 L341.20,91.40 L345.57,91.40 L349.60,91.40 L352.50,91.40 L354.04,91.40 L354.73,91.40 L354.94,91.40 L355.02,91.37 L355.30,91.25 L355.79,91.11 L356.25,90.96 L356.70,90.74 L357.13,90.01 L357.55,89.71 L357.94,89.50 L358.29,87.42 L358.64,86.97 L359.03,85.85 L359.50,84.17 L360.08,82.18 L360.75,80.66 L361.46,79.33 L362.16,78.38 L362.80,75.65 L363.38,73.48 L363.92,71.59 L364.45,69.24 L364.97,66.52 L365.50,65.32 L366.05,63.44 L366.62,61.15 L367.18,59.84 L367.72,58.26 L368.20,58.00 L368.62,57.85 L368.98,58.35 L369.32,58.57 L369.65,59.75 L370.00,60.42 L370.35,60.38 L370.70,60.98 L371.05,60.96 L371.44,61.55 L371.90,62.57 L372.44,63.58 L373.05,64.64 L373.70,65.59 L374.35,66.81 L375.00,68.12 L375.62,69.50 L376.22,70.63 L376.84,71.50 L377.49,73.01 L378.20,73.84 L378.98,74.89 L379.82,75.82 L380.70,77.33 L381.60,78.26 L382.50,78.95 L383.42,79.50 L384.37,81.28 L385.33,82.07 L386.28,82.60 L387.20,82.58 L388.08,83.97 L388.92,85.14 L389.76,85.36 L390.61,86.32 L391.50,87.07 L392.36,87.17 L393.18,87.10 L394.05,87.96 L395.06,88.57 L396.30,88.04 L397.93,89.52 L399.89,89.99 L401.93,90.45 L403.82,91.01 L405.30,91.40 L406.05,91.40 L406.24,91.40 L406.35,91.40 L406.87,91.40 L408.30,91.40 L411.14,91.40 L415.06,91.40 L419.30,91.40 L423.10,91.40 L425.70,91.40 Z" fill="url(#g2f3)" stroke="none"/>
<path d="M334.60,91.40 L337.28,91.40 L341.20,91.40 L345.57,91.40 L349.60,91.40 L352.50,91.40 L354.04,91.40 L354.73,91.40 L354.94,91.40 L355.02,91.37 L355.30,91.25 L355.79,91.11 L356.25,90.96 L356.70,90.74 L357.13,90.01 L357.55,89.71 L357.94,89.50 L358.29,87.42 L358.64,86.97 L359.03,85.85 L359.50,84.17 L360.08,82.18 L360.75,80.66 L361.46,79.33 L362.16,78.38 L362.80,75.65 L363.38,73.48 L363.92,71.59 L364.45,69.24 L364.97,66.52 L365.50,65.32 L366.05,63.44 L366.62,61.15 L367.18,59.84 L367.72,58.26 L368.20,58.00 L368.62,57.85 L368.98,58.35 L369.32,58.57 L369.65,59.75 L370.00,60.42 L370.35,60.38 L370.70,60.98 L371.05,60.96 L371.44,61.55 L371.90,62.57 L372.44,63.58 L373.05,64.64 L373.70,65.59 L374.35,66.81 L375.00,68.12 L375.62,69.50 L376.22,70.63 L376.84,71.50 L377.49,73.01 L378.20,73.84 L378.98,74.89 L379.82,75.82 L380.70,77.33 L381.60,78.26 L382.50,78.95 L383.42,79.50 L384.37,81.28 L385.33,82.07 L386.28,82.60 L387.20,82.58 L388.08,83.97 L388.92,85.14 L389.76,85.36 L390.61,86.32 L391.50,87.07 L392.36,87.17 L393.18,87.10 L394.05,87.96 L395.06,88.57 L396.30,88.04 L397.93,89.52 L399.89,89.99 L401.93,90.45 L403.82,91.01 L405.30,91.40 L406.05,91.40 L406.24,91.40 L406.35,91.40 L406.87,91.40 L408.30,91.40 L411.14,91.40 L415.06,91.40 L419.30,91.40 L423.10,91.40 L425.70,91.40" fill="none" stroke="#b4c09c" stroke-width="1.05" stroke-linejoin="round"/>
<text transform="translate(422,38.2) scale(0.9,1)" font-size="8.80" text-anchor="end" font-weight="normal" fill="#2a2a2a" stroke="#2a2a2a" stroke-width="0.12"  >117</text>
<text transform="translate(422,56.3) scale(0.9,1)" font-size="8.80" text-anchor="end" font-weight="normal" fill="#2a2a2a" stroke="#2a2a2a" stroke-width="0.12"  >235</text>
<text transform="translate(422,74) scale(0.9,1)" font-size="8.80" text-anchor="end" font-weight="normal" fill="#2a2a2a" stroke="#2a2a2a" stroke-width="0.12"  >175</text>
<text transform="translate(422,91.3) scale(0.9,1)" font-size="8.80" text-anchor="end" font-weight="normal" fill="#2a2a2a" stroke="#2a2a2a" stroke-width="0.12"  >200</text>
<rect x="334.6" y="1.6" width="91.1" height="91.2" stroke="#1a1a1a" stroke-width="1.4" fill="none"/>
<path d="M345.2,92.8v2.0M347.4,92.8v2.0M349.6,92.8v2.0M351.8,92.8v2.0M354.0,92.8v2.0M356.6,92.8v2.0M362.5,92.8v2.0M365.9,92.8v2.0M368.3,92.8v2.0M370.2,92.8v2.0M371.8,92.8v2.0M373.1,92.8v2.0M374.2,92.8v2.0M375.2,92.8v2.0M376.1,92.8v2.0M382.0,92.8v2.0M385.4,92.8v2.0M387.8,92.8v2.0M389.7,92.8v2.0M391.3,92.8v2.0M392.6,92.8v2.0M393.7,92.8v2.0M394.7,92.8v2.0M395.6,92.8v2.0M401.5,92.8v2.0M404.9,92.8v2.0M407.3,92.8v2.0M409.2,92.8v2.0M410.8,92.8v2.0M412.1,92.8v2.0M413.2,92.8v2.0M414.2,92.8v2.0M415.1,92.8v2.0M421.0,92.8v2.0" stroke="#2a2a2a" stroke-width="0.55" fill="none"/>
<path d="M353,93.4 L356.2,93.4 L354.6,95.6 Z" fill="#111"/>
<rect x="427.7" y="1.6" width="90.6" height="36.7" fill="url(#g2b0)"/>
<rect x="427.7" y="38.3" width="90.6" height="18.1" fill="url(#g2b1)"/>
<rect x="427.7" y="56.4" width="90.6" height="17.7" fill="url(#g2b2)"/>
<rect x="427.7" y="74.1" width="90.6" height="17.3" fill="url(#g2b3)"/>
<path d="M427.70,38.30 L428.99,38.30 L430.87,38.30 L432.99,38.30 L434.98,38.30 L436.50,38.30 L437.45,38.28 L438.08,38.26 L438.51,38.23 L438.87,38.20 L439.30,38.15 L439.79,38.11 L440.25,38.09 L440.70,38.05 L441.13,37.96 L441.55,37.79 L441.94,37.55 L442.29,37.53 L442.64,36.92 L443.03,36.28 L443.50,35.79 L444.08,35.66 L444.73,34.91 L445.42,33.96 L446.12,33.27 L446.80,32.39 L447.45,31.15 L448.09,30.02 L448.73,28.52 L449.37,27.50 L450.00,26.30 L450.63,24.71 L451.26,23.82 L451.88,22.40 L452.49,21.19 L453.10,19.93 L453.68,18.81 L454.25,17.51 L454.81,16.35 L455.39,15.13 L456.00,13.80 L456.66,13.10 L457.36,12.20 L458.07,11.33 L458.76,10.66 L459.40,10.10 L459.97,9.20 L460.48,8.52 L460.98,8.21 L461.47,7.66 L462.00,7.25 L462.57,6.89 L463.18,6.66 L463.78,6.34 L464.37,6.18 L464.90,6.00 L465.37,6.10 L465.78,6.08 L466.18,6.56 L466.57,6.44 L467.00,6.33 L467.46,6.86 L467.93,6.34 L468.41,6.94 L468.90,6.93 L469.40,7.33 L469.90,7.71 L470.42,7.86 L470.94,8.43 L471.46,9.23 L472.00,10.26 L472.55,10.61 L473.11,11.48 L473.68,12.20 L474.24,12.71 L474.80,13.66 L475.35,13.78 L475.89,14.37 L476.42,14.91 L476.96,15.03 L477.50,15.76 L478.04,15.96 L478.58,16.21 L479.11,16.98 L479.65,17.37 L480.20,17.94 L480.76,18.57 L481.32,19.31 L481.88,20.35 L482.44,21.30 L483.00,21.88 L483.54,23.02 L484.08,23.68 L484.62,24.24 L485.16,25.53 L485.70,26.34 L486.26,26.70 L486.82,27.99 L487.39,28.58 L487.95,29.24 L488.50,29.81 L489.02,30.75 L489.52,31.14 L490.01,31.85 L490.53,32.70 L491.10,33.49 L491.72,34.06 L492.38,34.45 L493.07,35.56 L493.78,36.04 L494.50,36.76 L495.18,36.86 L495.83,37.23 L496.52,37.56 L497.32,37.80 L498.30,38.00 L499.59,38.14 L501.14,38.22 L502.76,38.26 L504.27,38.28 L505.50,38.30 L506.26,38.30 L506.68,38.30 L507.01,38.30 L507.53,38.30 L508.50,38.30 L510.18,38.30 L512.40,38.30 L514.76,38.30 L516.86,38.30 L518.30,38.30 Z" fill="url(#g2f0)" stroke="none"/>
<path d="M427.70,38.30 L428.99,38.30 L430.87,38.30 L432.99,38.30 L434.98,38.30 L436.50,38.30 L437.45,38.28 L438.08,38.26 L438.51,38.23 L438.87,38.20 L439.30,38.15 L439.79,38.11 L440.25,38.09 L440.70,38.05 L441.13,37.96 L441.55,37.79 L441.94,37.55 L442.29,37.53 L442.64,36.92 L443.03,36.28 L443.50,35.79 L444.08,35.66 L444.73,34.91 L445.42,33.96 L446.12,33.27 L446.80,32.39 L447.45,31.15 L448.09,30.02 L448.73,28.52 L449.37,27.50 L450.00,26.30 L450.63,24.71 L451.26,23.82 L451.88,22.40 L452.49,21.19 L453.10,19.93 L453.68,18.81 L454.25,17.51 L454.81,16.35 L455.39,15.13 L456.00,13.80 L456.66,13.10 L457.36,12.20 L458.07,11.33 L458.76,10.66 L459.40,10.10 L459.97,9.20 L460.48,8.52 L460.98,8.21 L461.47,7.66 L462.00,7.25 L462.57,6.89 L463.18,6.66 L463.78,6.34 L464.37,6.18 L464.90,6.00 L465.37,6.10 L465.78,6.08 L466.18,6.56 L466.57,6.44 L467.00,6.33 L467.46,6.86 L467.93,6.34 L468.41,6.94 L468.90,6.93 L469.40,7.33 L469.90,7.71 L470.42,7.86 L470.94,8.43 L471.46,9.23 L472.00,10.26 L472.55,10.61 L473.11,11.48 L473.68,12.20 L474.24,12.71 L474.80,13.66 L475.35,13.78 L475.89,14.37 L476.42,14.91 L476.96,15.03 L477.50,15.76 L478.04,15.96 L478.58,16.21 L479.11,16.98 L479.65,17.37 L480.20,17.94 L480.76,18.57 L481.32,19.31 L481.88,20.35 L482.44,21.30 L483.00,21.88 L483.54,23.02 L484.08,23.68 L484.62,24.24 L485.16,25.53 L485.70,26.34 L486.26,26.70 L486.82,27.99 L487.39,28.58 L487.95,29.24 L488.50,29.81 L489.02,30.75 L489.52,31.14 L490.01,31.85 L490.53,32.70 L491.10,33.49 L491.72,34.06 L492.38,34.45 L493.07,35.56 L493.78,36.04 L494.50,36.76 L495.18,36.86 L495.83,37.23 L496.52,37.56 L497.32,37.80 L498.30,38.00 L499.59,38.14 L501.14,38.22 L502.76,38.26 L504.27,38.28 L505.50,38.30 L506.26,38.30 L506.68,38.30 L507.01,38.30 L507.53,38.30 L508.50,38.30 L510.18,38.30 L512.40,38.30 L514.76,38.30 L516.86,38.30 L518.30,38.30" fill="none" stroke="#b22c4c" stroke-width="1.05" stroke-linejoin="round"/>
<path d="M427.70,56.40 L429.40,56.40 L431.89,56.40 L434.67,56.40 L437.27,56.40 L439.20,56.40 L440.33,56.39 L440.98,56.39 L441.34,56.38 L441.62,56.34 L442.00,56.25 L442.48,56.15 L442.93,56.05 L443.36,55.90 L443.78,55.64 L444.18,55.02 L444.55,54.36 L444.90,53.71 L445.23,53.35 L445.59,52.23 L446.00,50.85 L446.48,50.59 L447.02,48.56 L447.57,48.43 L448.11,46.92 L448.60,45.16 L449.03,43.78 L449.42,40.80 L449.79,39.01 L450.14,36.50 L450.50,34.39 L450.85,32.55 L451.19,31.18 L451.52,29.60 L451.86,28.22 L452.20,27.06 L452.55,26.23 L452.91,25.64 L453.28,26.32 L453.64,26.14 L454.00,26.13 L454.36,26.14 L454.72,25.37 L455.09,25.21 L455.45,25.40 L455.80,25.02 L456.14,26.06 L456.48,25.71 L456.81,26.52 L457.15,27.61 L457.50,28.63 L457.87,28.14 L458.25,28.35 L458.64,30.14 L459.02,29.53 L459.40,30.89 L459.76,30.83 L460.12,31.94 L460.48,32.70 L460.84,33.64 L461.20,35.11 L461.56,35.27 L461.90,36.56 L462.26,37.98 L462.65,38.51 L463.10,38.44 L463.61,39.82 L464.16,39.57 L464.76,39.95 L465.37,40.94 L466.00,41.46 L466.64,41.46 L467.31,43.12 L468.00,42.64 L468.70,43.85 L469.40,44.60 L470.11,45.54 L470.83,45.15 L471.55,46.02 L472.28,46.98 L473.00,46.95 L473.72,48.44 L474.45,49.19 L475.17,49.95 L475.89,49.45 L476.60,50.15 L477.29,51.57 L477.96,51.11 L478.62,51.89 L479.30,52.16 L480.00,52.95 L480.62,53.32 L481.15,52.90 L481.75,53.75 L482.58,54.29 L483.80,54.09 L485.58,55.00 L487.83,54.64 L490.27,55.21 L492.64,55.72 L494.70,56.00 L496.44,56.18 L498.05,56.28 L499.50,56.34 L500.79,56.37 L501.90,56.40 L502.60,56.40 L502.90,56.40 L503.15,56.40 L503.70,56.40 L504.90,56.40 L507.13,56.40 L510.15,56.40 L513.41,56.40 L516.31,56.40 L518.30,56.40 Z" fill="url(#g2f1)" stroke="none"/>
<path d="M427.70,56.40 L429.40,56.40 L431.89,56.40 L434.67,56.40 L437.27,56.40 L439.20,56.40 L440.33,56.39 L440.98,56.39 L441.34,56.38 L441.62,56.34 L442.00,56.25 L442.48,56.15 L442.93,56.05 L443.36,55.90 L443.78,55.64 L444.18,55.02 L444.55,54.36 L444.90,53.71 L445.23,53.35 L445.59,52.23 L446.00,50.85 L446.48,50.59 L447.02,48.56 L447.57,48.43 L448.11,46.92 L448.60,45.16 L449.03,43.78 L449.42,40.80 L449.79,39.01 L450.14,36.50 L450.50,34.39 L450.85,32.55 L451.19,31.18 L451.52,29.60 L451.86,28.22 L452.20,27.06 L452.55,26.23 L452.91,25.64 L453.28,26.32 L453.64,26.14 L454.00,26.13 L454.36,26.14 L454.72,25.37 L455.09,25.21 L455.45,25.40 L455.80,25.02 L456.14,26.06 L456.48,25.71 L456.81,26.52 L457.15,27.61 L457.50,28.63 L457.87,28.14 L458.25,28.35 L458.64,30.14 L459.02,29.53 L459.40,30.89 L459.76,30.83 L460.12,31.94 L460.48,32.70 L460.84,33.64 L461.20,35.11 L461.56,35.27 L461.90,36.56 L462.26,37.98 L462.65,38.51 L463.10,38.44 L463.61,39.82 L464.16,39.57 L464.76,39.95 L465.37,40.94 L466.00,41.46 L466.64,41.46 L467.31,43.12 L468.00,42.64 L468.70,43.85 L469.40,44.60 L470.11,45.54 L470.83,45.15 L471.55,46.02 L472.28,46.98 L473.00,46.95 L473.72,48.44 L474.45,49.19 L475.17,49.95 L475.89,49.45 L476.60,50.15 L477.29,51.57 L477.96,51.11 L478.62,51.89 L479.30,52.16 L480.00,52.95 L480.62,53.32 L481.15,52.90 L481.75,53.75 L482.58,54.29 L483.80,54.09 L485.58,55.00 L487.83,54.64 L490.27,55.21 L492.64,55.72 L494.70,56.00 L496.44,56.18 L498.05,56.28 L499.50,56.34 L500.79,56.37 L501.90,56.40 L502.60,56.40 L502.90,56.40 L503.15,56.40 L503.70,56.40 L504.90,56.40 L507.13,56.40 L510.15,56.40 L513.41,56.40 L516.31,56.40 L518.30,56.40" fill="none" stroke="#2b6a58" stroke-width="1.05" stroke-linejoin="round"/>
<path d="M427.70,74.10 L429.40,74.10 L431.89,74.10 L434.67,74.10 L437.27,74.10 L439.20,74.10 L440.32,74.10 L440.97,74.10 L441.33,74.09 L441.61,74.05 L442.00,73.95 L442.50,73.84 L442.98,73.72 L443.45,73.54 L443.90,73.24 L444.36,73.37 L444.78,71.96 L445.19,70.65 L445.59,70.61 L446.02,69.64 L446.50,68.44 L447.05,66.35 L447.64,64.65 L448.26,62.77 L448.89,61.38 L449.50,60.02 L450.10,57.73 L450.69,55.81 L451.28,54.26 L451.88,52.11 L452.50,50.38 L453.17,47.71 L453.90,46.54 L454.62,44.93 L455.27,42.89 L455.80,42.91 L456.17,41.57 L456.42,42.15 L456.60,42.81 L456.77,43.44 L457.00,43.78 L457.26,43.44 L457.53,44.12 L457.81,44.18 L458.13,45.21 L458.50,44.89 L458.93,45.77 L459.40,47.22 L459.92,47.76 L460.45,48.96 L461.00,48.89 L461.58,50.84 L462.19,50.89 L462.81,51.81 L463.42,53.24 L464.00,54.67 L464.53,54.81 L465.02,55.30 L465.50,56.75 L465.98,57.75 L466.50,57.44 L467.03,58.07 L467.55,58.82 L468.10,59.82 L468.70,60.54 L469.40,61.74 L470.21,62.70 L471.13,63.39 L472.09,64.02 L473.07,64.35 L474.00,64.85 L474.87,65.96 L475.72,66.94 L476.56,68.05 L477.45,67.54 L478.40,69.15 L479.45,69.37 L480.57,70.12 L481.72,69.61 L482.88,70.69 L484.00,71.43 L485.02,71.21 L485.96,71.78 L486.93,71.23 L488.01,72.18 L489.30,72.73 L490.96,72.90 L492.92,72.76 L494.95,73.49 L496.82,73.85 L498.30,74.10 L499.06,74.10 L499.26,74.10 L499.38,74.10 L499.90,74.10 L501.30,74.10 L504.08,74.10 L507.91,74.10 L512.05,74.10 L515.76,74.10 L518.30,74.10 Z" fill="url(#g2f2)" stroke="none"/>
<path d="M427.70,74.10 L429.40,74.10 L431.89,74.10 L434.67,74.10 L437.27,74.10 L439.20,74.10 L440.32,74.10 L440.97,74.10 L441.33,74.09 L441.61,74.05 L442.00,73.95 L442.50,73.84 L442.98,73.72 L443.45,73.54 L443.90,73.24 L444.36,73.37 L444.78,71.96 L445.19,70.65 L445.59,70.61 L446.02,69.64 L446.50,68.44 L447.05,66.35 L447.64,64.65 L448.26,62.77 L448.89,61.38 L449.50,60.02 L450.10,57.73 L450.69,55.81 L451.28,54.26 L451.88,52.11 L452.50,50.38 L453.17,47.71 L453.90,46.54 L454.62,44.93 L455.27,42.89 L455.80,42.91 L456.17,41.57 L456.42,42.15 L456.60,42.81 L456.77,43.44 L457.00,43.78 L457.26,43.44 L457.53,44.12 L457.81,44.18 L458.13,45.21 L458.50,44.89 L458.93,45.77 L459.40,47.22 L459.92,47.76 L460.45,48.96 L461.00,48.89 L461.58,50.84 L462.19,50.89 L462.81,51.81 L463.42,53.24 L464.00,54.67 L464.53,54.81 L465.02,55.30 L465.50,56.75 L465.98,57.75 L466.50,57.44 L467.03,58.07 L467.55,58.82 L468.10,59.82 L468.70,60.54 L469.40,61.74 L470.21,62.70 L471.13,63.39 L472.09,64.02 L473.07,64.35 L474.00,64.85 L474.87,65.96 L475.72,66.94 L476.56,68.05 L477.45,67.54 L478.40,69.15 L479.45,69.37 L480.57,70.12 L481.72,69.61 L482.88,70.69 L484.00,71.43 L485.02,71.21 L485.96,71.78 L486.93,71.23 L488.01,72.18 L489.30,72.73 L490.96,72.90 L492.92,72.76 L494.95,73.49 L496.82,73.85 L498.30,74.10 L499.06,74.10 L499.26,74.10 L499.38,74.10 L499.90,74.10 L501.30,74.10 L504.08,74.10 L507.91,74.10 L512.05,74.10 L515.76,74.10 L518.30,74.10" fill="none" stroke="#3fae66" stroke-width="1.05" stroke-linejoin="round"/>
<path d="M427.70,91.40 L429.13,91.40 L431.21,91.40 L433.55,91.40 L435.75,91.40 L437.40,91.40 L438.41,91.40 L439.04,91.40 L439.45,91.40 L439.78,91.38 L440.20,91.25 L440.69,91.09 L441.16,90.92 L441.62,90.65 L442.05,90.33 L442.49,89.96 L442.89,89.12 L443.25,87.64 L443.62,85.44 L444.03,83.94 L444.50,83.37 L445.06,81.84 L445.69,79.71 L446.36,79.47 L447.03,77.33 L447.70,76.09 L448.34,73.70 L448.98,72.05 L449.63,70.44 L450.30,69.20 L451.00,67.42 L451.78,65.39 L452.63,63.73 L453.48,61.92 L454.26,60.82 L454.90,59.82 L455.36,58.83 L455.69,59.64 L455.94,59.47 L456.19,59.93 L456.50,60.98 L456.85,61.19 L457.20,60.71 L457.57,61.86 L458.00,62.14 L458.50,62.65 L459.10,63.19 L459.78,64.23 L460.51,65.53 L461.26,66.01 L462.00,67.56 L462.74,67.95 L463.50,69.55 L464.27,70.66 L465.04,71.43 L465.80,72.87 L466.55,73.43 L467.30,73.99 L468.04,75.44 L468.77,76.08 L469.50,76.65 L470.21,78.30 L470.91,78.69 L471.61,79.72 L472.30,81.07 L473.00,81.89 L473.70,82.52 L474.39,83.14 L475.09,83.92 L475.79,84.77 L476.50,84.81 L477.17,85.40 L477.79,86.38 L478.45,87.57 L479.23,87.74 L480.20,88.45 L481.50,89.01 L483.07,89.37 L484.72,90.52 L486.26,91.03 L487.50,91.40 L487.98,91.40 L487.82,91.40 L487.72,91.40 L488.38,91.40 L490.50,91.40 L494.92,91.40 L501.17,91.40 L507.99,91.40 L514.12,91.40 L518.30,91.40 Z" fill="url(#g2f3)" stroke="none"/>
<path d="M427.70,91.40 L429.13,91.40 L431.21,91.40 L433.55,91.40 L435.75,91.40 L437.40,91.40 L438.41,91.40 L439.04,91.40 L439.45,91.40 L439.78,91.38 L440.20,91.25 L440.69,91.09 L441.16,90.92 L441.62,90.65 L442.05,90.33 L442.49,89.96 L442.89,89.12 L443.25,87.64 L443.62,85.44 L444.03,83.94 L444.50,83.37 L445.06,81.84 L445.69,79.71 L446.36,79.47 L447.03,77.33 L447.70,76.09 L448.34,73.70 L448.98,72.05 L449.63,70.44 L450.30,69.20 L451.00,67.42 L451.78,65.39 L452.63,63.73 L453.48,61.92 L454.26,60.82 L454.90,59.82 L455.36,58.83 L455.69,59.64 L455.94,59.47 L456.19,59.93 L456.50,60.98 L456.85,61.19 L457.20,60.71 L457.57,61.86 L458.00,62.14 L458.50,62.65 L459.10,63.19 L459.78,64.23 L460.51,65.53 L461.26,66.01 L462.00,67.56 L462.74,67.95 L463.50,69.55 L464.27,70.66 L465.04,71.43 L465.80,72.87 L466.55,73.43 L467.30,73.99 L468.04,75.44 L468.77,76.08 L469.50,76.65 L470.21,78.30 L470.91,78.69 L471.61,79.72 L472.30,81.07 L473.00,81.89 L473.70,82.52 L474.39,83.14 L475.09,83.92 L475.79,84.77 L476.50,84.81 L477.17,85.40 L477.79,86.38 L478.45,87.57 L479.23,87.74 L480.20,88.45 L481.50,89.01 L483.07,89.37 L484.72,90.52 L486.26,91.03 L487.50,91.40 L487.98,91.40 L487.82,91.40 L487.72,91.40 L488.38,91.40 L490.50,91.40 L494.92,91.40 L501.17,91.40 L507.99,91.40 L514.12,91.40 L518.30,91.40" fill="none" stroke="#b4c09c" stroke-width="1.05" stroke-linejoin="round"/>
<text transform="translate(515,38.2) scale(0.9,1)" font-size="8.80" text-anchor="end" font-weight="normal" fill="#2a2a2a" stroke="#2a2a2a" stroke-width="0.12"  >857</text>
<text transform="translate(515,56.3) scale(0.9,1)" font-size="8.80" text-anchor="end" font-weight="normal" fill="#2a2a2a" stroke="#2a2a2a" stroke-width="0.12"  >422</text>
<text transform="translate(515,74) scale(0.9,1)" font-size="8.80" text-anchor="end" font-weight="normal" fill="#2a2a2a" stroke="#2a2a2a" stroke-width="0.12"  >451</text>
<text transform="translate(515,91.3) scale(0.9,1)" font-size="8.80" text-anchor="end" font-weight="normal" fill="#2a2a2a" stroke="#2a2a2a" stroke-width="0.12"  >418</text>
<rect x="427.7" y="1.6" width="90.6" height="91.2" stroke="#1a1a1a" stroke-width="1.4" fill="none"/>
<path d="M438.3,92.8v2.0M440.5,92.8v2.0M442.7,92.8v2.0M444.9,92.8v2.0M447.1,92.8v2.0M449.7,92.8v2.0M455.6,92.8v2.0M459.0,92.8v2.0M461.4,92.8v2.0M463.3,92.8v2.0M464.9,92.8v2.0M466.2,92.8v2.0M467.3,92.8v2.0M468.3,92.8v2.0M469.2,92.8v2.0M475.1,92.8v2.0M478.5,92.8v2.0M480.9,92.8v2.0M482.8,92.8v2.0M484.4,92.8v2.0M485.7,92.8v2.0M486.8,92.8v2.0M487.8,92.8v2.0M488.7,92.8v2.0M494.6,92.8v2.0M498.0,92.8v2.0M500.4,92.8v2.0M502.3,92.8v2.0M503.9,92.8v2.0M505.2,92.8v2.0M506.3,92.8v2.0M507.3,92.8v2.0M508.2,92.8v2.0M514.1,92.8v2.0" stroke="#2a2a2a" stroke-width="0.55" fill="none"/>
<path d="M446.1,93.4 L449.3,93.4 L447.7,95.6 Z" fill="#111"/>
<text transform="translate(22.5,29.3) scale(0.9,1)" font-size="9.13" text-anchor="end" font-weight="normal" fill="#2a2a2a" stroke="#2a2a2a" stroke-width="0.12"  >II-1</text>
<text transform="translate(22.5,41.8) scale(0.9,1)" font-size="9.13" text-anchor="end" font-weight="normal" fill="#2a2a2a" stroke="#2a2a2a" stroke-width="0.12"  >I-1</text>
<text transform="translate(22.5,54.5) scale(0.9,1)" font-size="9.13" text-anchor="end" font-weight="normal" fill="#2a2a2a" stroke="#2a2a2a" stroke-width="0.12"  >I-2</text>
<text transform="translate(22.5,67.1) scale(0.9,1)" font-size="9.13" text-anchor="end" font-weight="normal" fill="#2a2a2a" stroke="#2a2a2a" stroke-width="0.12"  >II-2</text>
<text transform="translate(22.5,79.7) scale(0.9,1)" font-size="9.13" text-anchor="end" font-weight="normal" fill="#2a2a2a" stroke="#2a2a2a" stroke-width="0.12"  >HC1</text>
<text transform="translate(22.5,92.3) scale(0.9,1)" font-size="9.13" text-anchor="end" font-weight="normal" fill="#2a2a2a" stroke="#2a2a2a" stroke-width="0.12"  >HC2</text>
<text transform="translate(330.8,39) scale(0.9,1)" font-size="9.13" text-anchor="end" font-weight="normal" fill="#2a2a2a" stroke="#2a2a2a" stroke-width="0.12"  >II-1</text>
<text transform="translate(330.8,57.1) scale(0.9,1)" font-size="9.13" text-anchor="end" font-weight="normal" fill="#2a2a2a" stroke="#2a2a2a" stroke-width="0.12"  >HC1</text>
<text transform="translate(330.8,74.8) scale(0.9,1)" font-size="9.13" text-anchor="end" font-weight="normal" fill="#2a2a2a" stroke="#2a2a2a" stroke-width="0.12"  >HC2</text>
<text transform="translate(330.8,92.1) scale(0.9,1)" font-size="9.13" text-anchor="end" font-weight="normal" fill="#2a2a2a" stroke="#2a2a2a" stroke-width="0.12"  >HC3</text>
<text transform="translate(37,105) scale(0.9,1)" font-size="8.80" text-anchor="start" font-weight="normal" fill="#222" stroke="#222" stroke-width="0.12"  >CD69 PerCP-Cy5.5</text>
<text transform="translate(130,105) scale(0.9,1)" font-size="8.80" text-anchor="start" font-weight="normal" fill="#222" stroke="#222" stroke-width="0.12"  >PD-1 BUV737</text>
<line x1="182" y1="101.8" x2="199.3" y2="101.8" stroke="#222" stroke-width="0.9" />
<path d="M202.3,101.8 L198.1,99.9 L198.1,103.7 Z" fill="#222"/>
<text transform="translate(224.2,105) scale(0.9,1)" font-size="8.36" text-anchor="start" font-weight="normal" fill="#222" stroke="#222" stroke-width="0.12"  >CD40L PE-Cy5</text>
<line x1="279.2" y1="101.8" x2="299.3" y2="101.8" stroke="#222" stroke-width="0.9" />
<path d="M302.3,101.8 L298.1,99.9 L298.1,103.7 Z" fill="#222"/>
<text transform="translate(345.3,105) scale(0.9,1)" font-size="8.80" text-anchor="start" font-weight="normal" fill="#222" stroke="#222" stroke-width="0.12"  >CD25 BUV805</text>
<line x1="398.7" y1="101.8" x2="418.3" y2="101.8" stroke="#222" stroke-width="0.9" />
<path d="M421.3,101.8 L417.1,99.9 L417.1,103.7 Z" fill="#222"/>
<text transform="translate(438.9,105) scale(0.9,1)" font-size="8.80" text-anchor="start" font-weight="normal" fill="#222" stroke="#222" stroke-width="0.12"  >ICOS BV786</text>
<line x1="485.9" y1="101.8" x2="513.2" y2="101.8" stroke="#222" stroke-width="0.9" />
<path d="M516.2,101.8 L512,99.9 L512,103.7 Z" fill="#222"/>
<text transform="translate(-0.2,9.4)" font-size="11.00" text-anchor="start" font-weight="bold" fill="#111"  >A</text>
<text transform="translate(0,124.6)" font-size="10.50" text-anchor="start" font-weight="bold" fill="#111"  >B</text>
<path d="M74.0,153.4 L68.7,153.5 L63.7,153.1 L59.2,152.0 L56.0,150.8 L54.2,149.8 L53.0,148.9 L51.9,147.9 L51.0,146.7 L50.6,145.7 L50.3,144.4 L50.4,143.2 L50.8,141.9 L51.8,140.4 L53.5,138.8 L55.7,137.4 L58.5,136.2 L61.7,135.3 L64.5,134.8 L67.7,134.5 L71.2,134.5 L76.7,135.0 L81.7,135.8 L86.0,136.8 L97.5,139.8 L100.2,140.7 L102.2,141.7 L103.6,142.7 L104.1,143.2 L104.5,143.9 L104.6,144.7 L104.5,145.2 L104.1,145.9 L103.5,146.5 L101.7,147.7 L99.0,148.7 L95.0,149.8 L83.5,152.2 L78.5,153.0 L74.0,153.4 Z M72.5,153.4 L67.2,153.4 L62.7,152.8 L58.7,151.8 L56.7,151.0 L55.2,150.3 L53.7,149.3 L52.6,148.4 L51.7,147.4 L50.9,146.2 L50.6,145.2 L50.4,143.9 L50.6,142.9 L51.1,141.7 L52.1,140.2 L54.0,138.6 L56.2,137.3 L58.7,136.2 L62.0,135.3 L64.7,134.8 L68.0,134.5 L71.2,134.6 L76.5,135.0 L82.2,136.0 L86.5,137.0 L97.2,140.0 L100.0,140.9 L102.0,141.8 L103.4,142.9 L104.0,143.9 L104.1,144.7 L104.0,145.2 L103.6,145.9 L103.0,146.5 L101.0,147.8 L98.2,148.8 L88.7,151.0 L83.0,152.2 L77.5,153.0 L72.5,153.4 Z M75.2,152.9 L69.7,153.1 L65.0,152.9 L60.7,152.1 L57.0,150.8 L55.2,149.9 L53.8,148.9 L52.7,147.9 L51.7,146.7 L51.3,145.7 L51.0,144.4 L51.1,143.2 L51.5,141.9 L52.5,140.4 L54.2,138.9 L56.5,137.5 L58.7,136.6 L61.5,135.7 L64.7,135.1 L67.7,134.8 L71.0,134.8 L74.5,135.1 L79.0,135.7 L83.0,136.5 L86.7,137.5 L95.7,140.3 L98.7,141.3 L100.0,141.9 L101.0,142.7 L101.6,143.2 L102.1,143.9 L102.2,144.7 L102.1,145.2 L101.3,146.2 L99.8,147.2 L97.4,148.2 L92.5,149.6 L84.5,151.5 L80.2,152.3 L75.2,152.9 Z M71.2,152.7 L66.7,152.6 L62.7,152.0 L59.0,151.0 L56.0,149.6 L54.7,148.8 L53.7,147.9 L52.8,146.9 L52.3,145.9 L51.9,144.7 L51.9,143.7 L52.1,142.7 L52.5,141.7 L53.7,140.2 L55.2,138.9 L57.2,137.8 L59.7,136.7 L62.2,136.0 L65.2,135.5 L68.2,135.3 L71.5,135.3 L75.5,135.7 L79.0,136.3 L83.2,137.2 L86.7,138.3 L92.2,140.3 L96.0,141.9 L97.9,143.2 L98.6,144.2 L98.6,144.9 L98.3,145.4 L97.7,146.0 L96.8,146.7 L94.0,147.9 L89.2,149.5 L84.7,150.8 L80.0,151.8 L75.7,152.4 L71.2,152.7 Z M74.2,151.9 L69.5,152.1 L65.0,151.8 L61.0,151.0 L57.7,149.8 L55.2,148.2 L54.3,147.4 L53.6,146.4 L53.1,145.4 L52.9,144.4 L52.9,143.4 L53.3,142.2 L54.4,140.7 L55.7,139.5 L57.7,138.2 L60.0,137.3 L62.5,136.5 L65.2,136.0 L68.0,135.8 L70.7,135.8 L74.0,136.1 L78.0,136.7 L81.5,137.5 L84.7,138.5 L88.0,139.8 L91.3,141.4 L93.2,142.7 L93.9,143.4 L94.2,143.9 L94.3,144.7 L94.1,145.2 L93.2,146.2 L91.5,147.3 L88.7,148.5 L85.2,149.8 L81.7,150.7 L77.7,151.5 L74.2,151.9 Z M73.2,151.4 L69.0,151.6 L65.0,151.3 L61.5,150.5 L58.2,149.3 L57.0,148.6 L55.7,147.7 L55.0,146.9 L54.4,145.9 L54.1,145.2 L53.9,144.2 L54.0,143.2 L54.4,142.2 L55.2,140.9 L56.7,139.7 L58.5,138.6 L60.5,137.7 L62.7,137.0 L65.2,136.6 L67.7,136.4 L70.5,136.4 L73.5,136.6 L76.7,137.1 L80.0,137.8 L83.2,138.9 L86.0,140.0 L88.1,141.2 L89.7,142.4 L90.7,143.7 L90.8,144.7 L90.6,145.2 L90.1,145.9 L88.5,147.2 L86.5,148.2 L83.7,149.3 L80.2,150.3 L76.5,151.0 L73.2,151.4 Z M72.5,150.9 L68.7,151.0 L65.2,150.8 L61.7,150.0 L59.0,149.0 L56.7,147.5 L55.4,145.9 L55.1,145.2 L54.9,144.2 L55.0,143.2 L55.3,142.4 L56.1,141.2 L57.2,140.1 L59.0,139.0 L60.7,138.2 L63.0,137.5 L65.2,137.1 L67.7,136.9 L70.0,136.9 L72.7,137.0 L75.7,137.5 L79.0,138.3 L81.5,139.1 L84.0,140.1 L85.8,141.2 L87.3,142.4 L88.0,143.4 L88.2,144.2 L88.2,144.7 L87.7,145.7 L86.4,146.9 L84.5,148.0 L82.0,149.0 L79.2,149.8 L75.7,150.5 L72.5,150.9 Z M72.0,150.4 L68.5,150.5 L65.2,150.2 L62.0,149.5 L59.5,148.5 L57.5,147.2 L56.3,145.7 L55.9,144.2 L56.0,143.2 L56.3,142.4 L57.0,141.4 L58.2,140.3 L59.7,139.3 L61.5,138.6 L63.5,138.0 L65.5,137.6 L69.7,137.4 L72.2,137.5 L75.0,137.9 L77.5,138.5 L80.0,139.3 L82.1,140.2 L83.8,141.2 L85.1,142.2 L85.9,143.2 L86.1,143.9 L86.1,144.4 L85.8,145.4 L84.9,146.4 L83.2,147.5 L81.0,148.5 L78.2,149.4 L75.2,150.0 L72.0,150.4 Z M71.7,149.9 L68.5,150.0 L65.5,149.8 L62.5,149.1 L60.2,148.2 L58.3,146.9 L57.6,146.2 L57.1,145.4 L56.9,144.7 L56.8,143.9 L56.9,143.2 L57.2,142.4 L58.0,141.4 L59.0,140.5 L60.2,139.7 L62.0,139.0 L63.7,138.4 L65.7,138.0 L69.7,137.8 L72.0,138.0 L74.2,138.3 L76.5,138.8 L78.7,139.5 L80.7,140.4 L82.2,141.2 L83.3,142.2 L84.1,143.2 L84.3,144.2 L84.1,145.2 L83.3,146.2 L81.7,147.3 L79.7,148.2 L77.2,149.0 L74.5,149.6 L71.7,149.9 Z M71.7,149.4 L68.7,149.5 L65.7,149.3 L63.2,148.8 L61.0,147.9 L59.2,146.7 L58.1,145.4 L57.7,144.2 L57.8,143.4 L58.1,142.7 L58.7,141.7 L59.6,140.9 L60.7,140.1 L62.2,139.4 L65.5,138.6 L69.2,138.3 L73.5,138.7 L77.5,139.8 L80.5,141.2 L81.7,142.1 L82.3,142.9 L82.7,143.9 L82.6,144.9 L81.9,145.9 L80.5,146.9 L78.7,147.8 L76.7,148.5 L74.2,149.1 L71.7,149.4 Z M71.7,148.9 L69.0,149.1 L66.2,148.9 L63.7,148.4 L61.7,147.6 L60.2,146.7 L59.1,145.4 L58.7,144.2 L58.7,143.4 L59.0,142.7 L59.5,141.9 L60.3,141.2 L61.5,140.4 L62.7,139.8 L65.7,139.0 L69.2,138.8 L72.7,139.1 L76.5,140.1 L78.0,140.7 L79.3,141.4 L80.2,142.2 L80.9,142.9 L81.2,143.9 L81.1,144.7 L80.5,145.7 L79.5,146.5 L78.0,147.3 L76.0,148.1 L74.0,148.6 L71.7,148.9 Z M71.7,148.4 L69.2,148.6 L66.7,148.4 L64.5,148.0 L62.5,147.3 L61.0,146.4 L60.0,145.4 L59.6,144.2 L59.8,142.9 L60.3,142.2 L61.0,141.5 L63.0,140.3 L65.7,139.5 L68.7,139.2 L72.0,139.5 L75.0,140.2 L77.7,141.4 L79.3,142.7 L79.8,143.7 L79.8,144.4 L79.3,145.4 L78.4,146.2 L77.2,146.9 L75.5,147.6 L73.7,148.1 L71.7,148.4 Z M71.5,147.9 L69.2,148.1 L67.0,148.0 L65.0,147.6 L63.2,147.0 L61.8,146.2 L60.9,145.2 L60.5,144.2 L60.6,143.4 L60.8,142.9 L61.8,141.7 L63.7,140.6 L66.0,140.0 L68.7,139.7 L71.5,139.9 L74.2,140.5 L76.5,141.5 L77.9,142.7 L78.3,143.4 L78.4,144.2 L78.2,144.9 L77.5,145.8 L76.5,146.4 L75.0,147.1 L73.2,147.6 L71.5,147.9 Z M71.2,147.4 L69.2,147.6 L67.2,147.5 L65.5,147.2 L63.9,146.7 L62.7,146.0 L61.9,145.2 L61.5,144.2 L61.6,143.2 L62.5,142.1 L64.0,141.1 L66.0,140.5 L68.2,140.2 L70.7,140.3 L73.2,140.8 L75.2,141.7 L76.5,142.7 L77.0,143.4 L77.1,144.2 L76.8,144.9 L76.4,145.4 L75.5,146.1 L74.3,146.7 L72.7,147.1 L71.2,147.4 Z M70.7,146.9 L69.0,147.0 L67.5,147.0 L65.8,146.7 L64.5,146.2 L63.6,145.7 L62.8,144.9 L62.5,144.2 L62.7,143.2 L63.6,142.2 L65.0,141.4 L66.7,140.9 L68.5,140.8 L70.7,140.9 L72.7,141.3 L74.2,142.0 L75.3,142.9 L75.7,143.4 L75.7,144.2 L75.4,144.9 L74.9,145.4 L74.1,145.9 L73.0,146.4 L70.7,146.9 Z M69.7,146.4 L67.2,146.3 L66.0,146.0 L65.0,145.6 L64.2,145.0 L63.8,144.4 L63.7,143.7 L63.9,143.2 L64.7,142.4 L65.7,141.9 L67.2,141.5 L68.7,141.3 L70.5,141.5 L72.0,141.8 L73.2,142.4 L74.0,143.2 L74.3,143.7 L74.3,144.2 L74.1,144.7 L73.6,145.2 L72.0,146.0 L69.7,146.4 Z M69.5,145.7 L67.7,145.6 L66.2,145.2 L65.3,144.4 L65.2,143.9 L65.3,143.4 L65.7,142.9 L66.5,142.5 L67.5,142.2 L68.5,142.1 L69.7,142.1 L70.7,142.3 L71.6,142.7 L72.3,143.2 L72.6,143.9 L72.3,144.7 L71.0,145.4 L69.5,145.7 Z" fill="none" stroke="#333" stroke-width="0.4" stroke-linejoin="round"/>
<path fill="#888" d="M109.0 142.4h0.6v0.6h-0.6zM45.4 145.1h0.6v0.6h-0.6zM60.7 134.1h0.6v0.6h-0.6zM81.8 155.5h0.6v0.6h-0.6zM103.4 140.0h0.6v0.6h-0.6zM110.9 147.9h0.6v0.6h-0.6zM112.2 144.0h0.6v0.6h-0.6zM45.5 153.5h0.6v0.6h-0.6zM81.4 134.8h0.6v0.6h-0.6zM54.0 135.3h0.6v0.6h-0.6zM102.4 150.1h0.6v0.6h-0.6zM80.1 153.1h0.6v0.6h-0.6z"/>
<rect x="85.6" y="129.8" width="49.8" height="37.4" stroke="#222" stroke-width="0.9" fill="none"/>
<rect x="24.7" y="128.9" width="113.8" height="113.7" stroke="#1a1a1a" stroke-width="1.2" fill="none"/>
<text transform="translate(81.5,125) scale(0.9,1)" font-size="10.01" text-anchor="middle" font-weight="normal" fill="#222" stroke="#222" stroke-width="0.12"  >HC</text>
<text transform="translate(110.4,177.3) scale(0.9,1)" font-size="8.69" text-anchor="middle" font-weight="normal" fill="#222" stroke="#222" stroke-width="0.12"  >2.33%</text>
<path d="M201.6,152.7 L197.6,152.6 L193.8,152.2 L190.1,151.3 L187.1,150.1 L184.8,148.7 L184.0,147.9 L183.3,146.9 L183.0,146.2 L182.8,145.2 L182.9,144.2 L183.3,143.2 L184.2,141.9 L185.4,140.9 L187.1,139.9 L189.1,139.0 L191.3,138.3 L193.8,137.8 L196.3,137.5 L199.1,137.3 L201.6,137.3 L204.3,137.6 L207.1,138.0 L209.6,138.7 L211.6,139.5 L213.3,140.4 L214.7,141.4 L215.9,142.7 L216.6,144.2 L216.7,145.2 L216.6,145.9 L216.2,146.9 L215.7,147.7 L214.0,149.2 L211.6,150.5 L208.8,151.5 L205.3,152.3 L201.6,152.7 Z M203.6,152.2 L199.3,152.4 L195.3,152.1 L191.6,151.4 L188.6,150.3 L186.0,148.9 L185.1,148.1 L184.2,147.2 L183.7,146.2 L183.5,145.4 L183.5,144.7 L183.8,143.7 L184.6,142.4 L185.6,141.4 L187.1,140.4 L188.8,139.6 L190.8,138.8 L193.1,138.3 L197.8,137.7 L200.3,137.6 L203.1,137.8 L205.3,138.1 L207.8,138.6 L210.1,139.3 L211.8,140.1 L213.3,141.0 L214.7,142.2 L215.7,143.7 L215.9,144.4 L215.9,145.4 L215.4,146.9 L214.1,148.4 L212.3,149.7 L209.8,150.8 L207.1,151.6 L203.6,152.2 Z M203.3,151.7 L199.6,151.9 L195.8,151.6 L192.3,151.0 L189.3,150.0 L186.9,148.7 L185.4,147.2 L184.9,146.4 L184.6,145.4 L184.7,144.4 L184.9,143.7 L185.5,142.7 L186.5,141.7 L187.8,140.8 L189.6,139.9 L191.3,139.3 L193.6,138.7 L196.1,138.3 L198.3,138.2 L202.8,138.3 L205.1,138.6 L207.3,139.1 L209.3,139.7 L211.1,140.5 L212.6,141.4 L213.7,142.4 L214.6,143.9 L214.8,144.7 L214.8,145.4 L214.6,146.2 L214.2,146.9 L213.1,148.2 L211.3,149.4 L209.1,150.4 L206.1,151.2 L203.3,151.7 Z M202.8,151.2 L199.3,151.3 L195.8,151.1 L192.6,150.4 L189.8,149.5 L187.6,148.2 L186.8,147.4 L186.2,146.7 L185.9,145.9 L185.8,145.2 L185.8,144.4 L186.1,143.7 L186.7,142.7 L187.8,141.7 L189.1,140.9 L190.6,140.2 L194.1,139.2 L196.3,138.9 L198.6,138.7 L202.8,138.8 L206.8,139.6 L208.8,140.2 L210.3,140.9 L211.6,141.7 L212.6,142.7 L213.4,143.9 L213.6,144.7 L213.6,145.4 L213.1,146.7 L212.1,147.9 L210.6,149.0 L208.3,150.0 L205.6,150.7 L202.8,151.2 Z M202.6,150.7 L199.3,150.8 L196.3,150.6 L193.3,150.1 L190.8,149.2 L188.8,148.1 L188.0,147.4 L187.4,146.7 L186.9,145.4 L186.9,144.7 L187.1,143.9 L187.7,142.9 L188.5,142.2 L189.6,141.4 L191.1,140.7 L194.3,139.7 L196.6,139.4 L198.6,139.2 L202.6,139.3 L206.3,140.0 L208.1,140.6 L209.6,141.3 L210.8,142.1 L211.6,142.9 L212.3,144.2 L212.4,145.4 L211.9,146.7 L211.1,147.7 L209.6,148.7 L207.6,149.6 L205.1,150.3 L202.6,150.7 Z M202.6,150.2 L199.8,150.3 L196.8,150.2 L194.1,149.7 L191.6,148.9 L189.8,147.9 L188.5,146.7 L188.0,145.4 L187.9,144.7 L188.2,143.9 L188.6,143.2 L189.4,142.4 L190.5,141.7 L191.8,141.0 L195.1,140.1 L198.6,139.7 L202.3,139.8 L205.8,140.5 L208.6,141.5 L209.6,142.2 L210.4,142.9 L211.1,143.9 L211.4,145.2 L211.0,146.4 L210.1,147.4 L208.8,148.3 L207.1,149.1 L204.8,149.8 L202.6,150.2 Z M202.6,149.7 L200.1,149.9 L197.3,149.7 L194.8,149.3 L192.6,148.6 L190.8,147.7 L189.6,146.7 L189.0,145.4 L189.1,144.2 L189.5,143.4 L190.3,142.7 L192.3,141.5 L195.3,140.6 L198.6,140.2 L201.8,140.2 L205.1,140.8 L207.8,141.9 L208.7,142.4 L209.5,143.2 L210.2,144.2 L210.3,145.2 L210.0,146.2 L209.2,147.2 L208.1,148.0 L206.6,148.7 L204.6,149.3 L202.6,149.7 Z M199.8,149.4 L197.6,149.3 L195.6,149.0 L193.6,148.4 L192.1,147.7 L190.9,146.9 L190.2,145.9 L189.9,144.9 L190.3,143.9 L190.8,143.2 L191.4,142.7 L193.6,141.6 L196.3,140.9 L199.6,140.6 L202.8,140.8 L205.6,141.5 L207.8,142.6 L208.4,143.2 L209.0,143.9 L209.3,144.9 L209.1,145.9 L208.4,146.9 L207.4,147.7 L205.8,148.4 L204.1,148.9 L202.1,149.3 L199.8,149.4 Z M200.8,148.9 L198.6,148.9 L196.6,148.7 L194.8,148.3 L193.2,147.7 L192.0,146.9 L191.2,145.9 L190.9,145.2 L191.1,144.2 L191.7,143.4 L192.3,142.9 L194.1,142.0 L196.3,141.4 L199.1,141.1 L201.8,141.2 L204.3,141.7 L206.3,142.5 L207.1,143.0 L207.8,143.7 L208.2,144.4 L208.2,145.4 L207.9,146.2 L207.1,147.0 L205.8,147.8 L204.3,148.3 L202.6,148.7 L200.8,148.9 Z M201.3,148.4 L199.3,148.5 L197.6,148.4 L195.8,148.0 L194.3,147.5 L193.2,146.9 L192.4,146.2 L192.0,145.4 L192.1,144.4 L192.8,143.4 L194.5,142.4 L196.6,141.8 L198.8,141.5 L201.3,141.6 L203.6,142.0 L205.3,142.7 L206.7,143.7 L207.2,144.4 L207.3,145.2 L207.0,145.9 L206.4,146.7 L205.6,147.2 L204.3,147.8 L202.8,148.2 L201.3,148.4 Z M201.3,147.9 L199.8,148.0 L198.1,147.9 L196.5,147.7 L195.1,147.2 L194.1,146.7 L193.3,145.9 L193.0,145.2 L193.1,144.4 L194.0,143.4 L195.3,142.7 L197.1,142.2 L199.1,142.0 L201.1,142.1 L203.1,142.4 L204.8,143.1 L205.8,143.9 L206.1,144.4 L206.2,145.2 L205.9,145.9 L205.5,146.4 L204.7,146.9 L203.6,147.4 L201.3,147.9 Z M200.8,147.4 L198.1,147.4 L196.8,147.1 L195.6,146.7 L194.7,146.2 L194.3,145.7 L194.1,145.2 L194.3,144.4 L195.0,143.7 L196.1,143.1 L197.6,142.7 L199.3,142.5 L201.1,142.6 L202.6,142.9 L203.8,143.4 L204.7,144.2 L205.0,144.7 L205.1,145.2 L204.9,145.7 L204.4,146.2 L203.1,146.9 L200.8,147.4 Z M201.6,146.7 L199.3,146.9 L197.1,146.5 L196.3,146.2 L195.7,145.7 L195.5,145.2 L195.5,144.7 L196.3,143.8 L198.1,143.2 L200.1,143.1 L202.1,143.5 L203.3,144.2 L203.7,144.7 L203.7,145.2 L203.5,145.7 L203.1,146.0 L201.6,146.7 Z M200.8,145.9 L199.6,146.1 L198.3,145.9 L197.4,145.4 L197.2,144.9 L197.6,144.4 L198.6,144.0 L199.8,143.9 L200.8,144.1 L201.5,144.4 L201.9,144.9 L201.8,145.4 L200.8,145.9 Z" fill="none" stroke="#333" stroke-width="0.45" stroke-linejoin="round"/>
<path fill="#111" d="M205.3 137.3h0.65v0.65h-0.65zM196.1 154.0h0.65v0.65h-0.65zM179.0 144.6h0.65v0.65h-0.65zM205.6 137.6h0.65v0.65h-0.65zM181.3 142.5h0.65v0.65h-0.65zM193.5 135.9h0.65v0.65h-0.65zM202.9 155.0h0.65v0.65h-0.65zM201.4 153.2h0.65v0.65h-0.65zM198.6 152.6h0.65v0.65h-0.65zM216.4 139.3h0.65v0.65h-0.65zM189.8 135.0h0.65v0.65h-0.65zM219.4 149.0h0.65v0.65h-0.65zM220.4 146.4h0.65v0.65h-0.65zM182.3 146.9h0.65v0.65h-0.65zM213.1 140.1h0.65v0.65h-0.65zM215.9 138.9h0.65v0.65h-0.65zM178.9 138.4h0.65v0.65h-0.65zM219.8 146.3h0.65v0.65h-0.65zM181.4 154.2h0.65v0.65h-0.65zM187.4 150.3h0.65v0.65h-0.65zM186.3 152.2h0.65v0.65h-0.65zM227.7 146.7h0.65v0.65h-0.65zM179.2 149.2h0.65v0.65h-0.65zM211.7 151.0h0.65v0.65h-0.65zM180.2 144.3h0.65v0.65h-0.65zM188.4 138.9h0.65v0.65h-0.65zM179.8 147.2h0.65v0.65h-0.65zM200.6 152.9h0.65v0.65h-0.65zM197.5 135.1h0.65v0.65h-0.65zM219.4 148.3h0.65v0.65h-0.65zM203.8 133.4h0.65v0.65h-0.65zM218.7 141.7h0.65v0.65h-0.65zM208.8 133.3h0.65v0.65h-0.65zM179.9 145.7h0.65v0.65h-0.65zM212.9 137.2h0.65v0.65h-0.65zM191.8 137.6h0.65v0.65h-0.65zM189.3 135.2h0.65v0.65h-0.65zM204.2 158.0h0.65v0.65h-0.65zM183.1 146.8h0.65v0.65h-0.65zM217.8 147.1h0.65v0.65h-0.65zM204.5 136.9h0.65v0.65h-0.65zM211.2 133.1h0.65v0.65h-0.65zM210.7 136.9h0.65v0.65h-0.65zM208.5 137.3h0.65v0.65h-0.65zM183.1 137.6h0.65v0.65h-0.65zM212.8 149.9h0.65v0.65h-0.65zM187.8 151.5h0.65v0.65h-0.65zM219.6 144.9h0.65v0.65h-0.65zM216.7 135.6h0.65v0.65h-0.65zM203.7 137.5h0.65v0.65h-0.65zM210.7 136.9h0.65v0.65h-0.65zM193.9 132.4h0.65v0.65h-0.65zM181.7 143.5h0.65v0.65h-0.65zM183.1 143.2h0.65v0.65h-0.65zM177.9 142.7h0.65v0.65h-0.65zM179.5 142.6h0.65v0.65h-0.65zM218.2 146.0h0.65v0.65h-0.65zM190.7 151.7h0.65v0.65h-0.65zM204.8 154.5h0.65v0.65h-0.65zM179.0 147.5h0.65v0.65h-0.65zM181.5 141.4h0.65v0.65h-0.65zM202.0 134.5h0.65v0.65h-0.65zM187.3 151.4h0.65v0.65h-0.65zM174.4 145.5h0.65v0.65h-0.65zM205.7 153.7h0.65v0.65h-0.65zM217.9 148.2h0.65v0.65h-0.65zM202.8 152.5h0.65v0.65h-0.65zM205.8 152.1h0.65v0.65h-0.65zM186.0 140.5h0.65v0.65h-0.65zM188.4 156.5h0.65v0.65h-0.65zM196.2 137.4h0.65v0.65h-0.65zM212.9 149.9h0.65v0.65h-0.65zM186.1 137.0h0.65v0.65h-0.65zM214.7 149.8h0.65v0.65h-0.65zM211.9 152.1h0.65v0.65h-0.65zM210.5 152.6h0.65v0.65h-0.65zM211.3 136.9h0.65v0.65h-0.65zM215.4 147.9h0.65v0.65h-0.65zM220.3 148.0h0.65v0.65h-0.65zM180.8 144.1h0.65v0.65h-0.65zM179.3 149.3h0.65v0.65h-0.65zM209.8 134.8h0.65v0.65h-0.65zM183.8 141.4h0.65v0.65h-0.65zM213.1 135.2h0.65v0.65h-0.65zM193.1 153.2h0.65v0.65h-0.65zM211.0 139.2h0.65v0.65h-0.65zM215.8 156.5h0.65v0.65h-0.65zM181.9 149.6h0.65v0.65h-0.65zM193.5 137.8h0.65v0.65h-0.65zM193.7 155.5h0.65v0.65h-0.65zM188.4 153.4h0.65v0.65h-0.65zM217.4 147.2h0.65v0.65h-0.65zM230.6 160.1h0.65v0.65h-0.65zM179.8 150.4h0.65v0.65h-0.65zM196.2 153.3h0.65v0.65h-0.65zM182.0 146.1h0.65v0.65h-0.65zM210.6 152.6h0.65v0.65h-0.65zM200.2 153.3h0.65v0.65h-0.65zM214.1 151.1h0.65v0.65h-0.65zM181.6 142.7h0.65v0.65h-0.65zM186.1 152.5h0.65v0.65h-0.65zM184.2 139.5h0.65v0.65h-0.65zM207.7 137.6h0.65v0.65h-0.65zM216.3 139.7h0.65v0.65h-0.65zM203.1 152.6h0.65v0.65h-0.65zM177.6 142.0h0.65v0.65h-0.65zM181.8 144.1h0.65v0.65h-0.65zM208.5 151.8h0.65v0.65h-0.65zM194.2 136.4h0.65v0.65h-0.65zM185.8 140.2h0.65v0.65h-0.65zM215.9 148.9h0.65v0.65h-0.65zM200.4 154.4h0.65v0.65h-0.65zM223.8 138.1h0.65v0.65h-0.65zM199.8 153.9h0.65v0.65h-0.65zM191.6 136.8h0.65v0.65h-0.65zM178.6 145.9h0.65v0.65h-0.65zM198.2 152.8h0.65v0.65h-0.65zM175.9 138.7h0.65v0.65h-0.65zM201.9 153.5h0.65v0.65h-0.65zM205.3 137.8h0.65v0.65h-0.65zM224.1 155.1h0.65v0.65h-0.65zM209.1 154.0h0.65v0.65h-0.65zM217.8 144.4h0.65v0.65h-0.65zM201.2 154.4h0.65v0.65h-0.65zM189.1 138.8h0.65v0.65h-0.65zM201.5 158.1h0.65v0.65h-0.65zM204.1 136.3h0.65v0.65h-0.65zM192.2 137.8h0.65v0.65h-0.65zM182.4 146.4h0.65v0.65h-0.65zM214.7 139.6h0.65v0.65h-0.65zM206.4 131.1h0.65v0.65h-0.65zM181.3 152.5h0.65v0.65h-0.65zM179.5 141.8h0.65v0.65h-0.65zM174.7 142.9h0.65v0.65h-0.65zM204.8 137.6h0.65v0.65h-0.65zM191.4 135.1h0.65v0.65h-0.65zM226.4 148.8h0.65v0.65h-0.65zM208.3 137.9h0.65v0.65h-0.65zM217.1 148.6h0.65v0.65h-0.65zM197.6 153.0h0.65v0.65h-0.65zM222.3 156.1h0.65v0.65h-0.65zM182.4 151.4h0.65v0.65h-0.65zM218.4 141.0h0.65v0.65h-0.65zM228.7 134.2h0.65v0.65h-0.65zM211.3 137.7h0.65v0.65h-0.65zM221.2 139.9h0.65v0.65h-0.65zM192.3 155.3h0.65v0.65h-0.65zM182.8 149.6h0.65v0.65h-0.65zM188.3 153.0h0.65v0.65h-0.65zM206.5 152.1h0.65v0.65h-0.65zM189.1 152.9h0.65v0.65h-0.65zM212.8 150.1h0.65v0.65h-0.65zM199.2 152.9h0.65v0.65h-0.65zM184.3 139.0h0.65v0.65h-0.65zM216.1 152.4h0.65v0.65h-0.65zM180.8 146.7h0.65v0.65h-0.65zM205.5 152.9h0.65v0.65h-0.65zM186.4 151.0h0.65v0.65h-0.65zM199.9 137.3h0.65v0.65h-0.65zM173.2 144.3h0.65v0.65h-0.65zM190.2 156.9h0.65v0.65h-0.65zM185.3 151.4h0.65v0.65h-0.65zM183.2 142.3h0.65v0.65h-0.65zM216.9 146.8h0.65v0.65h-0.65zM205.1 153.4h0.65v0.65h-0.65zM210.4 151.7h0.65v0.65h-0.65zM206.1 137.3h0.65v0.65h-0.65zM184.9 139.9h0.65v0.65h-0.65zM209.0 154.0h0.65v0.65h-0.65zM201.0 137.3h0.65v0.65h-0.65zM198.6 155.4h0.65v0.65h-0.65zM213.2 156.8h0.65v0.65h-0.65zM206.2 152.1h0.65v0.65h-0.65zM187.3 137.3h0.65v0.65h-0.65zM200.9 135.9h0.65v0.65h-0.65zM195.8 155.9h0.65v0.65h-0.65zM193.2 136.0h0.65v0.65h-0.65zM211.9 155.2h0.65v0.65h-0.65zM196.7 157.9h0.65v0.65h-0.65zM194.9 135.0h0.65v0.65h-0.65zM181.9 146.8h0.65v0.65h-0.65zM216.2 146.7h0.65v0.65h-0.65zM199.9 156.9h0.65v0.65h-0.65zM213.7 149.3h0.65v0.65h-0.65zM221.9 143.4h0.65v0.65h-0.65zM197.7 136.4h0.65v0.65h-0.65zM217.0 159.7h0.65v0.65h-0.65zM203.2 154.7h0.65v0.65h-0.65zM204.8 154.0h0.65v0.65h-0.65zM199.4 154.7h0.65v0.65h-0.65zM181.8 148.2h0.65v0.65h-0.65zM190.0 138.1h0.65v0.65h-0.65zM189.8 154.1h0.65v0.65h-0.65zM204.8 136.6h0.65v0.65h-0.65zM190.8 151.5h0.65v0.65h-0.65zM180.3 145.7h0.65v0.65h-0.65zM207.6 152.8h0.65v0.65h-0.65zM217.9 143.1h0.65v0.65h-0.65zM193.2 153.9h0.65v0.65h-0.65zM202.5 136.2h0.65v0.65h-0.65zM193.8 137.4h0.65v0.65h-0.65zM183.1 155.1h0.65v0.65h-0.65zM222.7 149.8h0.65v0.65h-0.65zM203.5 157.1h0.65v0.65h-0.65zM187.6 139.6h0.65v0.65h-0.65zM183.3 148.3h0.65v0.65h-0.65zM210.2 152.4h0.65v0.65h-0.65zM183.1 146.6h0.65v0.65h-0.65zM206.6 137.4h0.65v0.65h-0.65zM188.6 139.2h0.65v0.65h-0.65zM183.3 151.3h0.65v0.65h-0.65zM209.0 151.6h0.65v0.65h-0.65zM191.1 152.6h0.65v0.65h-0.65zM225.5 146.7h0.65v0.65h-0.65zM189.8 152.7h0.65v0.65h-0.65zM192.1 153.7h0.65v0.65h-0.65zM217.4 142.6h0.65v0.65h-0.65zM177.2 145.1h0.65v0.65h-0.65zM193.8 156.3h0.65v0.65h-0.65zM206.6 138.0h0.65v0.65h-0.65zM213.0 153.4h0.65v0.65h-0.65zM192.1 153.4h0.65v0.65h-0.65zM211.2 137.1h0.65v0.65h-0.65zM191.4 153.2h0.65v0.65h-0.65zM209.4 154.9h0.65v0.65h-0.65zM191.5 136.8h0.65v0.65h-0.65zM214.7 140.4h0.65v0.65h-0.65zM209.7 133.8h0.65v0.65h-0.65zM192.8 153.5h0.65v0.65h-0.65zM222.3 137.6h0.65v0.65h-0.65zM217.5 138.1h0.65v0.65h-0.65zM177.0 144.9h0.65v0.65h-0.65zM202.8 152.9h0.65v0.65h-0.65zM220.7 152.6h0.65v0.65h-0.65zM202.8 153.1h0.65v0.65h-0.65zM175.8 144.0h0.65v0.65h-0.65zM199.1 136.5h0.65v0.65h-0.65zM194.3 134.9h0.65v0.65h-0.65zM217.1 146.5h0.65v0.65h-0.65zM211.3 155.4h0.65v0.65h-0.65zM197.8 135.8h0.65v0.65h-0.65zM203.6 152.5h0.65v0.65h-0.65zM191.7 137.8h0.65v0.65h-0.65zM185.7 150.8h0.65v0.65h-0.65zM193.4 155.1h0.65v0.65h-0.65zM172.7 146.6h0.65v0.65h-0.65zM194.3 136.7h0.65v0.65h-0.65zM197.9 136.9h0.65v0.65h-0.65zM176.6 146.2h0.65v0.65h-0.65zM222.7 152.7h0.65v0.65h-0.65zM214.7 141.2h0.65v0.65h-0.65zM203.7 133.7h0.65v0.65h-0.65zM183.3 143.3h0.65v0.65h-0.65zM199.4 134.7h0.65v0.65h-0.65zM216.9 145.4h0.65v0.65h-0.65zM215.1 141.7h0.65v0.65h-0.65zM204.4 153.4h0.65v0.65h-0.65zM210.9 138.0h0.65v0.65h-0.65zM183.8 142.5h0.65v0.65h-0.65zM190.5 137.4h0.65v0.65h-0.65zM186.2 133.6h0.65v0.65h-0.65zM170.7 137.8h0.65v0.65h-0.65zM182.0 150.6h0.65v0.65h-0.65zM199.0 154.5h0.65v0.65h-0.65zM198.1 136.0h0.65v0.65h-0.65zM193.1 137.8h0.65v0.65h-0.65zM208.4 155.9h0.65v0.65h-0.65zM189.4 137.2h0.65v0.65h-0.65zM190.4 136.3h0.65v0.65h-0.65zM197.9 155.2h0.65v0.65h-0.65zM216.0 150.8h0.65v0.65h-0.65zM170.3 154.6h0.65v0.65h-0.65zM179.5 143.7h0.65v0.65h-0.65zM184.4 140.2h0.65v0.65h-0.65zM184.6 137.5h0.65v0.65h-0.65zM186.7 136.6h0.65v0.65h-0.65zM198.2 153.9h0.65v0.65h-0.65zM186.7 151.1h0.65v0.65h-0.65zM207.8 152.4h0.65v0.65h-0.65zM182.3 145.0h0.65v0.65h-0.65zM205.5 157.6h0.65v0.65h-0.65zM190.7 135.6h0.65v0.65h-0.65zM185.1 150.5h0.65v0.65h-0.65zM208.8 137.3h0.65v0.65h-0.65zM179.7 150.7h0.65v0.65h-0.65zM183.2 150.9h0.65v0.65h-0.65zM200.5 136.9h0.65v0.65h-0.65zM219.8 145.4h0.65v0.65h-0.65zM190.9 152.7h0.65v0.65h-0.65zM198.0 136.6h0.65v0.65h-0.65zM202.2 135.4h0.65v0.65h-0.65zM168.4 139.0h0.65v0.65h-0.65zM182.5 153.4h0.65v0.65h-0.65zM206.8 136.8h0.65v0.65h-0.65zM200.8 154.0h0.65v0.65h-0.65zM197.5 154.4h0.65v0.65h-0.65zM199.3 155.6h0.65v0.65h-0.65zM215.9 140.1h0.65v0.65h-0.65zM202.5 153.9h0.65v0.65h-0.65zM201.6 134.2h0.65v0.65h-0.65zM227.4 146.2h0.65v0.65h-0.65zM215.3 151.5h0.65v0.65h-0.65zM213.0 139.3h0.65v0.65h-0.65zM190.5 152.8h0.65v0.65h-0.65zM183.1 143.0h0.65v0.65h-0.65zM175.7 152.6h0.65v0.65h-0.65zM203.8 135.3h0.65v0.65h-0.65zM216.0 150.6h0.65v0.65h-0.65zM181.9 138.6h0.65v0.65h-0.65zM188.4 153.2h0.65v0.65h-0.65zM175.6 150.1h0.65v0.65h-0.65zM218.7 150.1h0.65v0.65h-0.65zM195.7 152.8h0.65v0.65h-0.65zM200.7 155.6h0.65v0.65h-0.65zM208.8 132.4h0.65v0.65h-0.65zM228.3 139.0h0.65v0.65h-0.65zM203.7 137.0h0.65v0.65h-0.65zM203.3 159.4h0.65v0.65h-0.65zM218.0 150.4h0.65v0.65h-0.65zM199.4 136.2h0.65v0.65h-0.65zM174.6 141.6h0.65v0.65h-0.65zM208.9 137.1h0.65v0.65h-0.65zM201.1 137.2h0.65v0.65h-0.65zM196.5 155.2h0.65v0.65h-0.65zM196.7 153.9h0.65v0.65h-0.65zM197.9 136.6h0.65v0.65h-0.65zM208.6 154.2h0.65v0.65h-0.65zM180.9 147.5h0.65v0.65h-0.65zM184.9 139.9h0.65v0.65h-0.65zM191.0 153.1h0.65v0.65h-0.65zM182.5 145.1h0.65v0.65h-0.65zM211.2 154.2h0.65v0.65h-0.65zM192.4 160.5h0.65v0.65h-0.65zM220.8 138.6h0.65v0.65h-0.65zM181.4 144.8h0.65v0.65h-0.65zM190.3 152.6h0.65v0.65h-0.65zM199.4 155.5h0.65v0.65h-0.65zM229.9 150.5h0.65v0.65h-0.65zM171.5 151.3h0.65v0.65h-0.65zM216.8 145.1h0.65v0.65h-0.65zM202.9 135.5h0.65v0.65h-0.65zM204.3 153.7h0.65v0.65h-0.65zM196.6 158.2h0.65v0.65h-0.65zM220.8 148.7h0.65v0.65h-0.65zM179.3 145.5h0.65v0.65h-0.65zM211.0 137.3h0.65v0.65h-0.65zM189.9 138.8h0.65v0.65h-0.65zM223.8 152.3h0.65v0.65h-0.65zM212.0 153.3h0.65v0.65h-0.65zM177.6 150.9h0.65v0.65h-0.65zM221.5 145.7h0.65v0.65h-0.65zM203.5 154.7h0.65v0.65h-0.65zM184.6 140.6h0.65v0.65h-0.65zM187.9 139.5h0.65v0.65h-0.65zM197.1 156.4h0.65v0.65h-0.65zM218.2 143.8h0.65v0.65h-0.65zM206.7 154.1h0.65v0.65h-0.65zM181.8 144.8h0.65v0.65h-0.65zM178.5 140.4h0.65v0.65h-0.65zM197.6 153.2h0.65v0.65h-0.65zM221.1 152.1h0.65v0.65h-0.65zM184.7 150.4h0.65v0.65h-0.65zM196.7 152.6h0.65v0.65h-0.65zM200.2 157.0h0.65v0.65h-0.65zM200.5 133.8h0.65v0.65h-0.65zM194.3 154.2h0.65v0.65h-0.65zM197.0 153.5h0.65v0.65h-0.65zM176.3 145.6h0.65v0.65h-0.65zM214.9 150.9h0.65v0.65h-0.65zM179.8 142.5h0.65v0.65h-0.65zM187.2 152.5h0.65v0.65h-0.65zM216.6 144.9h0.65v0.65h-0.65zM182.6 146.6h0.65v0.65h-0.65zM207.4 155.3h0.65v0.65h-0.65zM172.3 141.4h0.65v0.65h-0.65zM176.1 148.3h0.65v0.65h-0.65zM213.8 151.6h0.65v0.65h-0.65zM182.2 146.9h0.65v0.65h-0.65zM214.2 140.0h0.65v0.65h-0.65zM213.9 152.9h0.65v0.65h-0.65zM220.0 141.5h0.65v0.65h-0.65zM210.0 133.8h0.65v0.65h-0.65zM217.4 152.3h0.65v0.65h-0.65zM212.6 139.6h0.65v0.65h-0.65zM196.5 137.3h0.65v0.65h-0.65zM223.8 150.4h0.65v0.65h-0.65zM186.0 137.6h0.65v0.65h-0.65zM192.2 134.1h0.65v0.65h-0.65zM184.3 153.3h0.65v0.65h-0.65zM220.1 151.1h0.65v0.65h-0.65zM182.4 148.5h0.65v0.65h-0.65zM218.9 146.3h0.65v0.65h-0.65zM207.2 137.3h0.65v0.65h-0.65zM189.2 151.4h0.65v0.65h-0.65zM220.7 141.4h0.65v0.65h-0.65zM184.4 149.9h0.65v0.65h-0.65zM182.0 145.2h0.65v0.65h-0.65zM171.0 146.4h0.65v0.65h-0.65zM205.1 132.0h0.65v0.65h-0.65zM217.1 140.3h0.65v0.65h-0.65zM191.3 152.7h0.65v0.65h-0.65zM213.1 136.3h0.65v0.65h-0.65zM176.5 143.2h0.65v0.65h-0.65zM184.5 152.1h0.65v0.65h-0.65zM216.3 152.8h0.65v0.65h-0.65zM201.9 152.9h0.65v0.65h-0.65zM185.2 152.4h0.65v0.65h-0.65zM205.7 135.1h0.65v0.65h-0.65zM180.4 142.9h0.65v0.65h-0.65zM190.2 137.7h0.65v0.65h-0.65zM210.9 132.4h0.65v0.65h-0.65zM211.5 138.5h0.65v0.65h-0.65zM209.3 152.5h0.65v0.65h-0.65zM217.7 144.0h0.65v0.65h-0.65zM200.3 155.5h0.65v0.65h-0.65zM177.8 141.1h0.65v0.65h-0.65zM200.4 153.7h0.65v0.65h-0.65zM185.4 149.2h0.65v0.65h-0.65zM211.8 136.9h0.65v0.65h-0.65zM207.4 154.2h0.65v0.65h-0.65zM204.0 136.7h0.65v0.65h-0.65zM218.2 140.0h0.65v0.65h-0.65zM223.9 146.6h0.65v0.65h-0.65zM193.9 153.9h0.65v0.65h-0.65zM188.6 150.9h0.65v0.65h-0.65zM183.2 156.5h0.65v0.65h-0.65zM213.6 139.2h0.65v0.65h-0.65zM210.2 153.1h0.65v0.65h-0.65zM176.7 144.7h0.65v0.65h-0.65zM187.2 154.6h0.65v0.65h-0.65zM203.7 152.4h0.65v0.65h-0.65zM218.5 153.0h0.65v0.65h-0.65zM204.4 154.8h0.65v0.65h-0.65zM194.5 136.5h0.65v0.65h-0.65zM183.5 148.5h0.65v0.65h-0.65zM180.4 149.2h0.65v0.65h-0.65zM212.0 150.6h0.65v0.65h-0.65zM200.8 156.7h0.65v0.65h-0.65zM187.0 139.2h0.65v0.65h-0.65zM199.9 152.8h0.65v0.65h-0.65zM184.3 148.2h0.65v0.65h-0.65zM202.9 136.1h0.65v0.65h-0.65zM197.6 154.1h0.65v0.65h-0.65zM224.5 143.1h0.65v0.65h-0.65zM215.0 140.9h0.65v0.65h-0.65zM183.2 151.2h0.65v0.65h-0.65zM212.4 131.4h0.65v0.65h-0.65zM191.2 155.4h0.65v0.65h-0.65zM191.0 152.7h0.65v0.65h-0.65zM218.7 147.5h0.65v0.65h-0.65zM216.4 148.1h0.65v0.65h-0.65zM210.2 136.1h0.65v0.65h-0.65zM188.9 138.9h0.65v0.65h-0.65zM179.1 145.2h0.65v0.65h-0.65zM186.3 153.2h0.65v0.65h-0.65zM203.4 153.6h0.65v0.65h-0.65zM181.5 139.1h0.65v0.65h-0.65zM197.6 136.9h0.65v0.65h-0.65zM180.4 145.3h0.65v0.65h-0.65z"/>
<rect x="210.2" y="129.8" width="51" height="37.6" stroke="#222" stroke-width="0.9" fill="none"/>
<rect x="149.3" y="128.9" width="114.1" height="113.8" stroke="#1a1a1a" stroke-width="1.2" fill="none"/>
<text transform="translate(206,125) scale(0.9,1)" font-size="10.01" text-anchor="middle" font-weight="normal" fill="#222" stroke="#222" stroke-width="0.12"  >II-1</text>
<text transform="translate(235.5,177.3) scale(0.9,1)" font-size="8.69" text-anchor="middle" font-weight="normal" fill="#222" stroke="#222" stroke-width="0.12"  >3.86%</text>
<line x1="22.7" y1="137" x2="24.7" y2="137" stroke="#333" stroke-width="0.6" />
<line x1="22.7" y1="158" x2="24.7" y2="158" stroke="#333" stroke-width="0.6" />
<line x1="22.7" y1="191" x2="24.7" y2="191" stroke="#333" stroke-width="0.6" />
<line x1="22.7" y1="218" x2="24.7" y2="218" stroke="#333" stroke-width="0.6" />
<line x1="22.7" y1="239" x2="24.7" y2="239" stroke="#333" stroke-width="0.6" />
<rect x="22.5" y="202.5" width="1.6" height="2.4" fill="#222"/>
<path d="M31.3,243.1v2.0M33.5,243.1v2.0M35.7,243.1v2.0M37.9,243.1v2.0M40.1,243.1v2.0M42.7,243.1v2.0M49.3,243.1v2.0M53.2,243.1v2.0M55.9,243.1v2.0M58.1,243.1v2.0M59.8,243.1v2.0M61.3,243.1v2.0M62.6,243.1v2.0M63.7,243.1v2.0M64.7,243.1v2.0M71.3,243.1v2.0M75.2,243.1v2.0M77.9,243.1v2.0M80.1,243.1v2.0M81.8,243.1v2.0M83.3,243.1v2.0M84.6,243.1v2.0M85.7,243.1v2.0M86.7,243.1v2.0M93.3,243.1v2.0M97.2,243.1v2.0M99.9,243.1v2.0M102.1,243.1v2.0M103.8,243.1v2.0M105.3,243.1v2.0M106.6,243.1v2.0M107.7,243.1v2.0M108.7,243.1v2.0M115.3,243.1v2.0M119.2,243.1v2.0M121.9,243.1v2.0M124.1,243.1v2.0M125.8,243.1v2.0M127.3,243.1v2.0M128.6,243.1v2.0M129.7,243.1v2.0M130.7,243.1v2.0" stroke="#2a2a2a" stroke-width="0.7" fill="none"/>
<rect x="52.5" y="243" width="2.4" height="1.6" fill="#222"/>
<line x1="147.3" y1="137" x2="149.3" y2="137" stroke="#333" stroke-width="0.6" />
<line x1="147.3" y1="158" x2="149.3" y2="158" stroke="#333" stroke-width="0.6" />
<line x1="147.3" y1="191" x2="149.3" y2="191" stroke="#333" stroke-width="0.6" />
<line x1="147.3" y1="218" x2="149.3" y2="218" stroke="#333" stroke-width="0.6" />
<line x1="147.3" y1="239" x2="149.3" y2="239" stroke="#333" stroke-width="0.6" />
<rect x="147.1" y="202.5" width="1.6" height="2.4" fill="#222"/>
<path d="M155.9,243.2v2.0M158.1,243.2v2.0M160.3,243.2v2.0M162.5,243.2v2.0M164.7,243.2v2.0M167.3,243.2v2.0M173.9,243.2v2.0M177.8,243.2v2.0M180.5,243.2v2.0M182.7,243.2v2.0M184.4,243.2v2.0M185.9,243.2v2.0M187.2,243.2v2.0M188.3,243.2v2.0M189.3,243.2v2.0M195.9,243.2v2.0M199.8,243.2v2.0M202.5,243.2v2.0M204.7,243.2v2.0M206.4,243.2v2.0M207.9,243.2v2.0M209.2,243.2v2.0M210.3,243.2v2.0M211.3,243.2v2.0M217.9,243.2v2.0M221.8,243.2v2.0M224.5,243.2v2.0M226.7,243.2v2.0M228.4,243.2v2.0M229.9,243.2v2.0M231.2,243.2v2.0M232.3,243.2v2.0M233.3,243.2v2.0M239.9,243.2v2.0M243.8,243.2v2.0M246.5,243.2v2.0M248.7,243.2v2.0M250.4,243.2v2.0M251.9,243.2v2.0M253.2,243.2v2.0M254.3,243.2v2.0M255.3,243.2v2.0" stroke="#2a2a2a" stroke-width="0.7" fill="none"/>
<rect x="177.1" y="243.1" width="2.4" height="1.6" fill="#222"/>
<line x1="14.2" y1="135.4" x2="14.2" y2="195.5" stroke="#222" stroke-width="1.1" />
<path d="M14.2,132.4 L11.4,137.9 L17,137.9 Z" fill="#222"/>
<text transform="translate(17.4,221) rotate(-90) scale(0.9,1)" font-size="8.58" text-anchor="middle" font-weight="normal" fill="#222" stroke="#222" stroke-width="0.12"  >CD4 BUV395</text>
<text transform="translate(23,255.2) scale(0.9,1)" font-size="8.47" text-anchor="start" font-weight="normal" fill="#222" stroke="#222" stroke-width="0.12"  >CXCR5 PE-Cy7</text>
<line x1="80.4" y1="252.9" x2="250.6" y2="252.9" stroke="#222" stroke-width="1.2" />
<path d="M253.6,252.9 L248.1,249.9 L248.1,255.9 Z" fill="#1a1a1a"/>
<text transform="translate(0,274.8)" font-size="10.50" text-anchor="start" font-weight="bold" fill="#111"  >D</text>
<path d="M50.4,390.8 L49.1,390.8 L48.1,390.5 L46.9,389.9 L45.6,388.9 L44.4,387.7 L43.1,386.1 L41.9,384.3 L40.8,382.3 L39.0,378.3 L37.8,374.1 L37.0,369.6 L36.7,364.6 L37.2,351.8 L36.7,340.6 L36.7,335.6 L37.1,330.6 L38.0,325.3 L39.0,321.8 L40.1,318.8 L41.5,315.8 L43.1,313.1 L44.6,311.3 L46.4,309.7 L48.1,308.8 L49.9,308.5 L51.1,308.7 L52.4,309.2 L53.6,309.9 L56.9,312.3 L57.9,312.8 L59.1,313.3 L60.9,313.6 L64.2,314.0 L66.2,314.0 L69.7,313.8 L70.9,314.0 L71.9,314.3 L73.4,315.2 L74.5,316.6 L75.2,318.3 L75.4,320.1 L75.1,321.8 L74.5,323.3 L73.4,324.7 L72.2,325.5 L70.9,325.9 L69.4,325.8 L68.2,325.5 L65.4,324.3 L64.4,324.1 L63.6,324.2 L63.1,324.5 L62.6,325.0 L62.4,325.6 L62.2,327.8 L62.7,338.8 L62.5,352.3 L62.6,363.3 L62.3,368.3 L61.8,372.6 L60.9,376.1 L59.8,379.6 L58.5,382.6 L57.0,385.3 L55.4,387.5 L53.6,389.3 L51.9,390.4 L50.4,390.8 Z M50.6,387.3 L49.6,387.4 L48.4,387.2 L47.1,386.7 L46.1,386.1 L44.9,385.1 L43.9,384.0 L41.8,381.1 L40.0,377.3 L38.8,373.6 L38.1,369.3 L37.8,365.1 L37.9,361.3 L38.5,354.6 L38.6,351.6 L37.9,340.8 L37.8,335.8 L38.2,330.8 L39.0,326.6 L39.8,323.6 L40.8,320.8 L42.0,318.3 L43.4,316.0 L44.9,314.2 L46.4,313.0 L47.9,312.2 L49.6,311.8 L50.6,311.9 L51.6,312.1 L53.6,313.2 L59.2,317.3 L59.9,318.1 L60.2,318.6 L60.4,319.6 L60.2,322.3 L60.2,324.1 L61.2,332.6 L61.4,337.8 L61.1,351.8 L61.4,361.3 L61.4,365.1 L61.1,369.1 L60.5,372.8 L59.8,375.6 L58.8,378.3 L57.7,380.6 L56.6,382.6 L55.1,384.4 L53.6,385.9 L52.1,386.8 L50.6,387.3 Z M50.1,385.1 L49.1,385.0 L48.1,384.8 L47.1,384.5 L45.9,383.7 L43.9,381.8 L42.2,379.3 L40.7,376.3 L39.6,372.6 L39.0,369.1 L38.7,365.1 L38.9,361.6 L39.6,354.3 L39.7,351.6 L39.6,348.8 L38.9,340.6 L38.8,335.8 L39.1,331.6 L39.7,327.6 L40.5,324.6 L41.5,322.1 L42.6,319.8 L43.9,317.8 L45.1,316.3 L46.6,315.1 L48.1,314.4 L49.6,314.2 L50.6,314.3 L51.6,314.5 L52.6,315.0 L53.9,315.8 L56.0,317.8 L56.8,318.8 L57.5,320.1 L58.5,323.3 L59.7,329.1 L60.2,333.3 L60.4,337.8 L59.9,351.8 L60.4,361.3 L60.4,365.1 L60.1,369.1 L59.6,372.3 L58.8,375.1 L58.0,377.3 L57.0,379.3 L55.7,381.3 L54.4,382.8 L53.1,383.9 L51.6,384.7 L50.1,385.1 Z M50.9,383.3 L49.9,383.5 L48.6,383.4 L47.6,383.1 L46.6,382.6 L45.6,381.9 L44.6,381.0 L43.0,378.8 L41.5,376.1 L40.5,373.1 L39.8,369.6 L39.5,365.6 L39.6,361.6 L40.5,354.6 L40.7,352.1 L40.6,349.3 L39.7,342.1 L39.5,337.8 L39.6,333.3 L40.2,328.8 L41.0,325.8 L41.8,323.6 L42.8,321.3 L43.9,319.6 L45.2,318.1 L46.6,316.8 L48.1,316.1 L49.6,315.9 L51.4,316.2 L52.4,316.6 L53.4,317.3 L55.2,319.1 L56.6,321.3 L57.7,324.3 L58.8,328.6 L59.4,332.8 L59.7,336.8 L59.6,341.3 L58.9,351.1 L59.0,354.1 L59.5,360.6 L59.7,363.8 L59.5,367.3 L59.1,370.8 L58.5,373.3 L57.8,375.6 L56.9,377.6 L55.9,379.2 L54.9,380.6 L53.6,381.8 L52.4,382.7 L50.9,383.3 Z M50.9,382.1 L49.9,382.3 L48.9,382.2 L47.9,382.0 L46.9,381.5 L45.1,380.2 L43.4,378.1 L42.1,375.6 L41.0,372.6 L40.3,369.1 L40.1,365.6 L40.2,361.3 L41.2,354.6 L41.4,351.8 L41.3,349.3 L40.4,342.1 L40.1,338.1 L40.2,333.6 L40.8,329.3 L41.5,326.6 L42.3,324.3 L43.2,322.3 L44.3,320.6 L45.6,319.0 L46.9,318.0 L48.1,317.4 L49.6,317.2 L51.4,317.5 L53.1,318.6 L54.8,320.3 L56.2,322.6 L57.3,325.6 L58.2,329.1 L58.8,332.6 L59.0,336.6 L58.9,341.1 L58.1,351.1 L58.2,353.8 L58.8,360.3 L59.0,363.6 L58.9,367.1 L58.5,370.3 L58.0,372.6 L57.3,374.8 L56.5,376.6 L55.6,378.1 L54.6,379.6 L53.4,380.7 L52.1,381.6 L50.9,382.1 Z M50.9,381.1 L49.9,381.3 L48.9,381.2 L47.1,380.7 L45.4,379.4 L43.8,377.6 L42.5,375.1 L41.5,372.3 L40.8,369.1 L40.6,365.8 L40.8,361.3 L41.9,354.3 L42.1,351.8 L42.0,349.3 L41.0,342.6 L40.6,338.3 L40.7,334.1 L41.2,330.1 L41.8,327.6 L42.5,325.3 L43.4,323.3 L44.4,321.7 L45.6,320.2 L46.9,319.2 L48.1,318.6 L49.4,318.3 L51.1,318.6 L52.9,319.6 L54.4,321.1 L55.7,323.3 L56.8,326.1 L57.7,329.3 L58.3,332.8 L58.5,336.3 L58.3,341.3 L57.5,348.8 L57.4,351.3 L57.5,354.1 L58.2,360.1 L58.5,363.3 L58.5,366.6 L58.1,369.8 L57.6,372.1 L57.0,373.8 L56.3,375.6 L55.4,377.3 L54.4,378.6 L53.2,379.8 L52.1,380.5 L50.9,381.1 Z M50.4,380.3 L48.6,380.3 L46.9,379.6 L45.4,378.5 L43.9,376.6 L42.7,374.3 L41.8,371.6 L41.2,368.8 L41.0,365.6 L41.3,361.1 L42.5,354.3 L42.7,351.8 L42.6,349.3 L41.5,342.8 L41.1,338.8 L41.1,334.6 L41.6,330.6 L42.1,328.3 L42.8,326.1 L43.7,324.1 L44.6,322.4 L45.6,321.2 L46.9,320.1 L48.1,319.5 L49.4,319.3 L50.4,319.4 L51.1,319.6 L52.6,320.5 L54.1,322.0 L55.4,324.1 L56.5,326.8 L57.3,329.8 L57.8,333.1 L58.0,336.6 L57.8,341.3 L56.9,348.6 L56.7,351.3 L56.9,354.1 L57.7,360.1 L58.0,363.1 L58.0,366.6 L57.6,369.8 L57.1,372.1 L56.5,373.8 L55.7,375.6 L54.9,376.9 L53.9,378.2 L52.9,379.1 L51.6,379.9 L50.4,380.3 Z M50.4,379.6 L48.9,379.6 L47.1,379.0 L45.6,377.9 L44.1,376.0 L43.0,373.8 L42.2,371.3 L41.6,368.6 L41.4,365.6 L41.7,361.1 L43.1,354.1 L43.3,351.6 L43.1,349.1 L42.0,342.8 L41.5,339.1 L41.5,334.8 L42.0,330.8 L42.5,328.6 L43.1,326.6 L44.0,324.6 L44.9,323.1 L45.9,321.9 L47.1,320.9 L48.1,320.4 L49.4,320.1 L50.9,320.4 L52.4,321.2 L53.8,322.6 L55.0,324.6 L56.1,327.1 L56.9,329.8 L57.4,332.8 L57.6,336.3 L57.4,341.3 L56.3,348.8 L56.1,351.3 L56.3,354.1 L57.2,359.8 L57.6,362.8 L57.6,366.1 L57.3,369.3 L56.3,373.1 L55.5,374.8 L54.7,376.3 L53.6,377.6 L52.6,378.5 L51.6,379.1 L50.4,379.6 Z M50.6,378.8 L49.9,378.9 L48.9,378.9 L47.4,378.4 L45.9,377.4 L44.6,375.8 L43.5,373.8 L42.6,371.3 L42.0,368.6 L41.8,365.8 L41.8,363.6 L42.1,361.3 L43.6,354.1 L43.9,351.6 L43.7,349.1 L42.4,343.1 L41.9,339.3 L41.9,335.3 L42.3,331.3 L42.7,329.1 L43.3,327.3 L44.0,325.6 L45.1,323.8 L46.1,322.5 L47.1,321.7 L48.1,321.2 L49.4,320.9 L50.9,321.2 L52.1,321.9 L53.6,323.3 L54.7,325.1 L55.7,327.3 L56.5,330.1 L57.0,333.1 L57.2,336.1 L57.2,338.6 L57.0,341.3 L55.7,348.8 L55.5,351.3 L55.7,353.8 L56.8,359.6 L57.1,362.3 L57.2,365.6 L56.9,368.8 L56.5,370.8 L56.0,372.6 L54.6,375.4 L53.9,376.6 L52.9,377.6 L51.9,378.3 L50.6,378.8 Z M49.9,378.3 L48.4,378.2 L46.9,377.5 L45.6,376.4 L44.5,374.8 L43.5,372.8 L42.8,370.6 L42.3,368.1 L42.1,365.6 L42.2,363.3 L42.5,361.1 L44.1,354.1 L44.4,351.6 L44.2,349.3 L42.8,343.1 L42.3,339.6 L42.2,335.6 L42.5,331.8 L42.9,329.8 L43.5,327.8 L44.3,326.1 L45.1,324.5 L46.1,323.3 L47.1,322.4 L48.1,321.9 L49.4,321.6 L50.9,321.9 L52.1,322.6 L53.5,324.1 L54.6,325.9 L55.5,328.1 L56.3,330.8 L56.7,333.6 L56.9,336.6 L56.5,341.6 L55.2,349.1 L55.0,351.3 L55.2,353.8 L56.3,359.3 L56.8,362.6 L56.9,365.8 L56.5,369.1 L55.6,372.6 L54.9,374.1 L54.0,375.6 L53.1,376.6 L52.1,377.4 L51.1,378.0 L49.9,378.3 Z M50.6,377.6 L49.1,377.7 L47.6,377.3 L46.1,376.2 L45.0,374.8 L44.0,373.1 L43.2,370.8 L42.7,368.6 L42.5,365.8 L42.5,363.6 L42.8,361.1 L43.3,358.8 L44.7,353.8 L45.0,351.6 L44.8,349.3 L43.3,343.3 L42.7,339.8 L42.5,335.8 L42.9,332.1 L43.8,328.3 L44.5,326.6 L45.4,325.1 L46.4,323.8 L47.3,323.1 L48.4,322.5 L49.4,322.3 L50.9,322.6 L52.1,323.4 L53.4,324.7 L54.4,326.3 L55.2,328.3 L55.9,330.6 L56.3,333.3 L56.5,336.1 L56.5,338.6 L56.2,341.3 L55.7,344.1 L54.6,349.1 L54.4,351.3 L54.6,353.8 L55.9,359.1 L56.4,362.1 L56.5,365.3 L56.3,368.3 L55.6,371.6 L54.3,374.3 L53.5,375.6 L52.6,376.4 L51.6,377.1 L50.6,377.6 Z M50.4,377.1 L48.9,377.1 L47.6,376.7 L46.4,375.8 L45.1,374.4 L44.2,372.6 L43.5,370.6 L43.0,368.3 L42.8,365.8 L42.9,363.3 L43.2,360.8 L43.8,358.3 L45.2,353.8 L45.6,351.6 L45.3,349.3 L43.8,343.8 L43.1,340.1 L42.8,336.1 L43.1,332.3 L43.5,330.3 L44.1,328.6 L44.7,327.1 L45.6,325.6 L46.4,324.5 L47.4,323.6 L48.4,323.1 L49.4,323.0 L50.6,323.2 L51.9,323.9 L53.1,325.2 L54.1,326.8 L55.0,328.8 L55.6,331.1 L56.0,333.6 L56.2,336.1 L56.1,338.8 L55.8,341.6 L55.3,344.3 L54.1,349.1 L53.8,351.3 L54.0,353.6 L55.4,358.8 L56.0,361.8 L56.2,365.1 L56.0,368.1 L55.3,371.3 L54.0,374.1 L53.3,375.1 L52.4,376.0 L51.4,376.7 L50.4,377.1 Z M50.1,376.6 L48.9,376.6 L47.6,376.2 L46.4,375.2 L45.2,373.8 L44.3,372.1 L43.6,370.1 L43.2,367.8 L43.1,365.6 L43.2,363.1 L43.6,360.6 L44.3,358.1 L45.8,353.6 L46.1,351.6 L45.9,349.6 L44.2,344.1 L43.4,340.3 L43.1,336.3 L43.4,332.6 L44.3,329.1 L44.9,327.5 L45.6,326.2 L46.4,325.2 L47.4,324.3 L48.4,323.8 L49.4,323.6 L50.6,323.8 L51.9,324.5 L52.9,325.6 L53.9,327.1 L54.7,329.1 L55.3,331.3 L55.7,333.8 L55.9,336.3 L55.8,339.1 L55.4,342.1 L54.8,344.8 L53.5,349.3 L53.2,351.3 L53.5,353.6 L55.1,358.8 L55.7,361.8 L55.9,365.1 L55.7,368.1 L54.9,371.3 L54.3,372.8 L53.6,373.9 L52.9,374.9 L51.9,375.8 L51.1,376.2 L50.1,376.6 Z M50.1,376.1 L48.9,376.1 L47.6,375.6 L46.4,374.7 L45.4,373.4 L44.6,371.8 L43.9,369.8 L43.5,367.8 L43.4,365.6 L43.5,362.8 L44.0,360.3 L44.8,357.8 L46.4,353.6 L46.8,351.6 L46.5,349.6 L44.6,344.3 L43.8,340.6 L43.4,336.6 L43.7,332.8 L44.5,329.3 L45.1,327.8 L45.9,326.6 L46.6,325.6 L47.6,324.7 L48.4,324.4 L49.4,324.2 L50.6,324.4 L51.6,325.0 L52.7,326.1 L53.7,327.6 L54.4,329.3 L55.1,331.6 L55.4,333.8 L55.6,336.3 L55.4,339.3 L55.0,342.3 L54.3,345.1 L52.8,349.6 L52.5,351.3 L52.8,353.3 L54.5,358.3 L55.3,361.3 L55.6,364.6 L55.4,367.8 L54.8,370.8 L53.6,373.3 L52.9,374.3 L51.9,375.2 L51.1,375.7 L50.1,376.1 Z M50.1,375.6 L48.9,375.6 L47.6,375.1 L46.6,374.4 L45.6,373.1 L44.8,371.6 L44.2,369.8 L43.8,367.8 L43.6,365.6 L43.8,362.8 L44.4,360.1 L45.2,357.6 L47.2,353.3 L47.6,351.6 L47.3,349.8 L45.1,344.6 L44.2,341.1 L43.7,337.1 L43.9,333.1 L44.7,329.8 L45.3,328.3 L46.0,327.1 L46.8,326.1 L47.6,325.3 L48.4,324.9 L49.4,324.7 L50.6,325.0 L51.6,325.6 L52.6,326.6 L53.5,328.1 L54.3,329.8 L54.8,331.8 L55.2,334.1 L55.3,336.3 L55.1,339.6 L54.6,342.6 L53.8,345.3 L52.0,349.8 L51.7,351.6 L52.0,353.1 L54.0,357.8 L54.9,360.8 L55.3,364.3 L55.2,367.6 L54.5,370.6 L53.4,373.0 L52.6,374.0 L51.9,374.7 L51.1,375.2 L50.1,375.6 Z M50.1,375.1 L48.9,375.1 L47.9,374.7 L46.9,374.0 L45.9,372.8 L45.0,371.3 L44.4,369.6 L44.1,367.6 L43.9,365.6 L44.2,362.3 L45.0,359.3 L45.9,357.0 L48.5,352.6 L48.8,351.6 L48.8,351.1 L48.5,350.3 L45.9,345.5 L44.7,342.1 L44.3,339.8 L44.0,337.6 L44.0,335.3 L44.2,333.3 L45.0,330.1 L46.1,327.5 L46.9,326.6 L47.6,325.9 L48.4,325.5 L49.4,325.3 L50.4,325.4 L51.4,326.0 L52.4,327.0 L53.3,328.3 L54.0,330.1 L54.5,331.8 L54.8,333.8 L55.0,336.1 L54.8,339.8 L54.0,343.3 L52.9,346.4 L50.7,350.6 L50.5,351.6 L50.8,352.6 L53.1,356.8 L54.3,359.8 L54.7,361.6 L55.0,363.6 L55.1,365.6 L54.9,367.3 L54.4,370.1 L53.3,372.6 L51.9,374.2 L51.1,374.7 L50.1,375.1 Z M49.9,349.1 L49.1,349.0 L48.1,348.2 L47.1,346.9 L46.1,345.0 L45.4,343.2 L44.8,341.1 L44.5,339.1 L44.3,336.8 L44.3,334.8 L44.6,332.8 L45.0,330.8 L45.6,329.2 L46.4,327.8 L47.4,326.7 L48.4,326.1 L49.4,325.8 L50.4,326.0 L51.4,326.6 L52.3,327.6 L53.1,328.8 L53.8,330.3 L54.2,332.1 L54.6,334.1 L54.7,336.1 L54.4,340.1 L54.0,342.1 L53.4,344.1 L52.6,345.8 L51.6,347.5 L50.6,348.6 L49.9,349.1 Z M50.1,374.6 L48.9,374.6 L47.9,374.3 L46.9,373.5 L46.1,372.6 L45.4,371.3 L44.7,369.6 L44.4,367.8 L44.2,365.8 L44.3,363.8 L44.5,362.1 L45.0,360.3 L45.6,358.4 L46.6,356.5 L47.6,355.1 L48.6,354.1 L49.1,353.8 L49.6,353.7 L50.4,354.0 L51.4,354.9 L52.4,356.3 L53.1,357.8 L54.3,361.1 L54.6,362.8 L54.8,364.8 L54.7,366.6 L54.5,368.3 L54.1,369.8 L53.6,371.3 L52.8,372.6 L52.0,373.6 L51.1,374.2 L50.1,374.6 Z M49.9,347.8 L49.1,347.8 L48.1,347.1 L47.1,345.9 L46.4,344.6 L45.6,342.8 L45.1,340.8 L44.7,338.8 L44.6,336.8 L44.6,334.8 L44.9,332.8 L45.3,331.1 L45.9,329.6 L46.6,328.3 L47.4,327.3 L48.4,326.6 L49.4,326.4 L50.4,326.6 L51.3,327.1 L52.1,328.0 L52.9,329.1 L53.5,330.6 L54.0,332.3 L54.3,334.1 L54.4,336.1 L54.4,338.1 L54.1,340.1 L53.7,341.8 L53.1,343.7 L52.4,345.3 L51.6,346.5 L50.6,347.5 L49.9,347.8 Z M50.4,374.1 L49.4,374.2 L48.4,374.0 L47.4,373.4 L46.4,372.4 L45.6,371.1 L45.0,369.6 L44.6,367.8 L44.5,366.1 L44.5,364.1 L44.8,362.3 L45.2,360.6 L45.9,358.7 L46.9,357.0 L47.9,355.8 L48.9,355.0 L49.6,354.9 L50.4,355.1 L51.1,355.6 L52.1,356.8 L52.9,358.1 L53.5,359.6 L54.0,361.3 L54.5,364.6 L54.3,367.8 L54.0,369.3 L53.4,370.8 L52.9,371.8 L52.1,372.9 L51.4,373.5 L50.4,374.1 Z M49.9,346.9 L49.1,346.8 L48.1,346.2 L47.4,345.4 L46.6,344.1 L45.9,342.5 L45.3,340.6 L45.0,338.8 L44.8,336.8 L44.9,334.8 L45.1,333.1 L45.5,331.3 L46.1,329.8 L46.8,328.6 L47.6,327.7 L48.4,327.2 L49.4,326.9 L50.4,327.1 L51.1,327.6 L51.9,328.3 L52.6,329.4 L53.3,330.8 L53.7,332.3 L54.0,334.1 L54.1,335.8 L53.9,339.6 L53.5,341.3 L53.0,343.1 L52.4,344.3 L51.6,345.6 L50.9,346.3 L49.9,346.9 Z M50.4,373.6 L49.4,373.7 L48.4,373.5 L47.4,372.9 L46.6,372.1 L45.9,370.9 L45.3,369.6 L45.0,368.1 L44.7,366.3 L44.7,364.6 L45.0,362.8 L45.4,361.1 L45.9,359.6 L46.6,358.1 L47.6,356.8 L48.6,356.0 L49.4,355.8 L50.1,355.8 L50.9,356.3 L51.6,357.0 L52.5,358.3 L53.7,361.1 L54.2,364.3 L54.1,367.6 L53.3,370.3 L52.1,372.3 L51.4,373.0 L50.4,373.6 Z M50.4,345.8 L49.6,346.0 L48.6,345.8 L47.9,345.2 L47.0,344.1 L46.4,342.8 L45.8,341.1 L45.4,339.3 L45.1,337.3 L45.1,335.3 L45.3,333.6 L45.6,332.0 L46.1,330.5 L46.9,329.1 L47.6,328.3 L48.4,327.7 L49.4,327.5 L50.1,327.6 L50.9,328.0 L51.6,328.6 L52.4,329.7 L52.9,330.8 L53.4,332.3 L53.8,335.3 L53.7,338.6 L53.1,341.8 L51.9,344.3 L51.1,345.3 L50.4,345.8 Z M50.4,373.1 L49.6,373.3 L48.6,373.1 L47.6,372.6 L46.8,371.8 L46.1,370.7 L45.6,369.3 L45.2,367.8 L45.0,366.3 L45.0,364.6 L45.2,363.1 L45.6,361.3 L46.1,359.8 L46.9,358.5 L47.6,357.5 L48.4,356.9 L49.4,356.5 L50.1,356.6 L50.9,357.0 L51.6,357.7 L52.4,358.8 L53.4,361.3 L53.9,364.3 L53.8,367.3 L53.1,369.9 L52.6,371.1 L51.9,372.0 L51.1,372.7 L50.4,373.1 Z M50.1,345.1 L49.4,345.2 L48.6,345.0 L47.9,344.4 L47.1,343.3 L46.4,341.9 L45.9,340.4 L45.4,337.1 L45.6,333.8 L45.9,332.2 L46.4,330.8 L47.1,329.6 L47.7,328.8 L48.6,328.2 L49.4,328.0 L50.1,328.1 L50.9,328.5 L51.6,329.3 L52.2,330.1 L52.8,331.3 L53.1,332.6 L53.6,335.6 L53.4,338.8 L52.7,341.8 L52.1,343.0 L51.5,344.1 L50.9,344.7 L50.1,345.1 Z M49.4,372.8 L48.6,372.7 L47.9,372.3 L47.1,371.6 L46.4,370.6 L45.9,369.4 L45.5,368.1 L45.3,365.3 L45.6,362.3 L46.1,360.8 L46.6,359.6 L47.4,358.5 L48.1,357.8 L48.9,357.3 L49.6,357.2 L50.4,357.4 L51.1,357.9 L51.9,358.8 L52.5,359.8 L53.0,361.1 L53.4,362.6 L53.7,365.6 L53.4,368.3 L53.0,369.6 L52.4,370.7 L51.6,371.7 L51.0,372.3 L50.1,372.7 L49.4,372.8 Z M50.1,344.4 L49.4,344.5 L48.6,344.3 L47.9,343.6 L47.3,342.8 L46.6,341.6 L46.1,340.1 L45.7,337.1 L45.9,333.8 L46.2,332.3 L46.6,331.1 L47.2,330.1 L47.9,329.3 L48.6,328.8 L49.4,328.6 L50.1,328.7 L50.9,329.1 L52.0,330.6 L52.9,332.8 L53.3,335.6 L53.2,338.6 L52.5,341.3 L51.4,343.4 L50.9,343.9 L50.1,344.4 Z M49.6,372.3 L48.9,372.3 L48.1,371.9 L47.4,371.3 L46.8,370.6 L46.3,369.6 L45.9,368.3 L45.5,365.6 L45.6,364.1 L45.9,362.6 L46.3,361.3 L46.8,360.1 L47.4,359.2 L48.1,358.4 L48.9,358.0 L49.6,357.9 L50.4,358.1 L51.1,358.6 L52.3,360.3 L53.1,362.8 L53.4,365.3 L53.2,367.8 L52.4,370.1 L51.9,370.9 L51.1,371.7 L50.4,372.1 L49.6,372.3 Z M50.1,343.7 L49.4,343.8 L48.6,343.5 L47.9,342.9 L47.4,342.2 L46.9,341.2 L46.4,339.8 L46.0,337.1 L46.1,334.1 L46.8,331.6 L47.4,330.6 L47.9,329.9 L48.6,329.4 L49.4,329.2 L50.1,329.3 L50.6,329.6 L51.4,330.3 L51.9,331.1 L52.6,333.1 L53.0,335.6 L52.9,338.3 L52.3,340.8 L51.4,342.6 L50.9,343.1 L50.1,343.7 Z M49.6,371.8 L48.9,371.8 L48.4,371.6 L47.6,371.0 L47.1,370.3 L46.2,368.3 L45.8,365.8 L46.1,363.1 L46.8,360.8 L47.4,359.9 L48.1,359.1 L48.6,358.7 L49.4,358.5 L50.1,358.6 L50.6,358.9 L51.4,359.6 L51.9,360.3 L52.8,362.6 L53.1,365.1 L52.9,367.6 L52.1,369.8 L51.6,370.6 L50.9,371.3 L50.4,371.6 L49.6,371.8 Z M50.1,342.9 L49.6,343.0 L48.9,342.9 L48.1,342.4 L47.6,341.7 L47.1,340.8 L46.7,339.6 L46.3,337.1 L46.4,334.3 L47.0,332.1 L47.5,331.1 L48.1,330.3 L48.6,330.0 L49.4,329.8 L50.1,329.9 L50.6,330.2 L51.6,331.5 L52.3,333.3 L52.7,335.6 L52.6,337.8 L52.1,340.1 L51.3,341.8 L50.7,342.6 L50.1,342.9 Z M49.6,371.3 L48.9,371.3 L48.4,371.0 L47.8,370.6 L47.2,369.8 L46.4,368.1 L46.1,365.8 L46.3,363.3 L47.0,361.3 L47.6,360.3 L48.1,359.7 L48.6,359.4 L49.4,359.1 L50.1,359.3 L50.6,359.5 L51.7,360.8 L52.5,362.8 L52.8,365.1 L52.7,367.3 L52.0,369.3 L51.6,370.1 L50.9,370.8 L50.4,371.1 L49.6,371.3 Z M50.1,342.1 L49.6,342.3 L48.9,342.2 L47.9,341.2 L47.0,339.3 L46.6,337.1 L46.7,334.8 L47.2,332.6 L48.1,331.0 L48.6,330.6 L49.4,330.4 L50.4,330.7 L50.9,331.2 L51.4,331.9 L52.0,333.6 L52.4,335.6 L52.3,337.6 L51.9,339.6 L51.1,341.2 L50.6,341.8 L50.1,342.1 Z M49.6,370.8 L48.9,370.7 L48.4,370.5 L47.4,369.4 L46.7,367.8 L46.4,365.8 L46.6,363.8 L47.2,361.8 L48.1,360.4 L48.6,360.0 L49.4,359.8 L50.1,359.9 L50.6,360.2 L51.6,361.3 L52.2,363.1 L52.5,365.1 L52.4,367.1 L51.7,369.1 L50.8,370.3 L50.1,370.7 L49.6,370.8 Z M50.1,341.3 L49.6,341.5 L49.1,341.5 L48.6,341.2 L48.1,340.7 L47.4,339.1 L47.0,336.8 L47.1,334.6 L47.6,332.8 L48.4,331.6 L48.9,331.2 L49.4,331.1 L49.9,331.2 L50.4,331.4 L51.1,332.4 L51.7,333.8 L52.0,335.6 L52.0,337.3 L51.6,339.1 L51.0,340.6 L50.1,341.3 Z M50.1,370.1 L49.6,370.2 L48.9,370.2 L47.9,369.4 L47.1,368.0 L46.8,366.1 L46.9,364.1 L47.4,362.2 L47.9,361.4 L48.4,360.9 L49.4,360.4 L49.9,360.5 L50.4,360.7 L51.2,361.6 L51.9,363.1 L52.2,364.8 L52.1,366.6 L51.8,368.1 L51.1,369.3 L50.1,370.1 Z M49.9,340.6 L49.4,340.7 L49.0,340.6 L48.2,339.8 L47.6,338.5 L47.3,336.8 L47.4,335.0 L47.9,333.3 L48.6,332.2 L49.4,331.8 L50.1,332.1 L50.9,332.9 L51.4,334.2 L51.6,335.8 L51.5,337.6 L51.1,339.0 L50.6,340.0 L49.9,340.6 Z M49.9,369.6 L49.4,369.6 L48.9,369.5 L48.1,369.0 L47.4,367.6 L47.1,366.1 L47.2,364.3 L47.6,362.7 L48.4,361.6 L48.9,361.3 L49.4,361.1 L49.9,361.2 L50.4,361.4 L51.1,362.3 L51.6,363.6 L51.8,365.1 L51.8,366.6 L51.4,367.9 L50.7,369.1 L49.9,369.6 Z M49.9,339.6 L49.1,339.6 L48.5,339.1 L48.0,338.1 L47.8,336.6 L47.9,335.1 L48.1,334.0 L48.6,333.2 L49.4,332.7 L50.1,333.0 L50.6,333.7 L51.0,334.6 L51.2,335.8 L51.1,337.1 L50.9,338.1 L50.4,339.2 L49.9,339.6 Z M49.9,368.9 L49.1,368.9 L48.3,368.3 L47.8,367.3 L47.5,365.8 L47.6,364.6 L47.9,363.3 L48.6,362.2 L49.4,361.9 L50.1,362.1 L50.8,362.8 L51.2,363.8 L51.4,365.1 L51.4,366.3 L51.1,367.3 L50.6,368.3 L49.9,368.9 Z" fill="none" stroke="#222" stroke-width="0.45" stroke-linejoin="round"/>
<path fill="#999" d="M28.5 327.3h0.6v0.6h-0.6zM55.5 387.7h0.6v0.6h-0.6zM66.5 381.2h0.6v0.6h-0.6zM33.9 350.2h0.6v0.6h-0.6zM33.8 325.3h0.6v0.6h-0.6zM56.8 391.8h0.6v0.6h-0.6z"/>
<circle cx="73.2" cy="338.3" r="1.1" fill="none" stroke="#444" stroke-width="0.4"/>
<line x1="63.4" y1="279.8" x2="63.4" y2="393.9" stroke="#222" stroke-width="0.9" />
<line x1="24.4" y1="353.4" x2="138.4" y2="353.4" stroke="#222" stroke-width="0.9" />
<rect x="24.4" y="279.8" width="114" height="114.1" stroke="#1a1a1a" stroke-width="1.2" fill="none"/>
<text transform="translate(82,274.8) scale(0.9,1)" font-size="10.01" text-anchor="middle" font-weight="normal" fill="#222" stroke="#222" stroke-width="0.12"  >HC</text>
<text transform="translate(111.4,292.2) scale(0.9,1)" font-size="8.58" text-anchor="end" font-weight="normal" fill="#222" stroke="#222" stroke-width="0.12"  >54.6</text>
<text transform="translate(117.6,292.2) scale(0.9,1)" font-size="8.58" text-anchor="start" font-weight="normal" fill="#222" stroke="#222" stroke-width="0.12"  >8.16</text>
<text transform="translate(111.4,303.3) scale(0.9,1)" font-size="8.58" text-anchor="end" font-weight="normal" fill="#222" stroke="#222" stroke-width="0.12"  >37.2</text>
<text transform="translate(117.6,303.3) scale(0.9,1)" font-size="8.58" text-anchor="start" font-weight="normal" fill="#222" stroke="#222" stroke-width="0.12"  >0.00</text>
<line x1="114.4" y1="284.4" x2="114.4" y2="304.8" stroke="#222" stroke-width="0.8" />
<line x1="99.4" y1="294.5" x2="128.9" y2="294.5" stroke="#222" stroke-width="0.8" />
<path d="M177.6,387.1 L176.6,387.3 L175.3,387.2 L174.3,386.9 L173.1,386.2 L171.8,385.2 L170.8,384.2 L169.0,381.3 L167.4,377.8 L166.2,373.6 L165.4,369.1 L165.0,363.6 L165.1,358.1 L165.7,352.8 L166.7,348.1 L168.2,343.6 L170.0,340.1 L171.8,337.5 L172.8,336.6 L174.1,335.8 L175.1,335.4 L176.3,335.2 L177.3,335.3 L178.6,335.7 L179.6,336.2 L180.6,337.0 L182.5,339.3 L184.2,342.6 L185.7,346.6 L186.8,350.8 L187.5,355.6 L187.8,360.3 L187.7,365.1 L187.2,369.8 L186.4,374.1 L185.2,378.1 L183.7,381.3 L181.8,384.2 L180.8,385.2 L179.8,386.1 L178.8,386.7 L177.6,387.1 Z M177.6,382.8 L176.6,383.0 L175.6,382.9 L173.8,382.2 L172.1,380.8 L170.5,378.6 L169.2,375.8 L168.2,372.3 L167.4,368.3 L167.1,364.1 L167.1,359.8 L167.6,355.8 L168.4,351.8 L169.5,348.3 L171.0,345.3 L172.6,343.1 L174.3,341.7 L175.3,341.3 L176.3,341.1 L177.1,341.2 L178.1,341.5 L179.7,342.6 L181.2,344.3 L182.7,346.8 L183.8,349.8 L184.8,353.3 L185.4,357.3 L185.7,361.1 L185.6,364.8 L185.2,368.8 L184.5,372.6 L183.5,375.6 L182.3,378.3 L180.8,380.5 L179.3,381.9 L177.6,382.8 Z M177.3,380.6 L176.6,380.7 L175.6,380.6 L174.1,380.0 L172.6,378.8 L171.1,376.6 L169.9,374.1 L169.0,370.8 L168.4,367.6 L168.2,364.1 L168.2,360.3 L168.6,356.6 L169.4,353.1 L170.4,350.1 L171.7,347.6 L173.1,345.7 L174.6,344.6 L175.6,344.2 L176.3,344.1 L177.8,344.4 L179.3,345.4 L180.8,347.1 L181.9,349.1 L183.0,351.8 L183.8,354.8 L184.3,358.1 L184.5,361.6 L184.5,364.8 L184.2,368.1 L183.6,371.3 L182.7,374.1 L181.6,376.6 L180.3,378.4 L178.8,379.9 L177.3,380.6 Z M176.6,379.1 L175.1,378.8 L173.6,377.9 L172.3,376.5 L171.2,374.6 L170.2,372.1 L169.5,369.3 L169.1,366.6 L168.9,363.3 L169.1,360.1 L169.5,356.8 L170.2,353.8 L171.1,351.3 L172.3,349.1 L173.6,347.5 L174.8,346.6 L176.3,346.2 L177.8,346.5 L179.1,347.4 L180.3,348.8 L181.6,351.1 L182.5,353.6 L183.2,356.3 L183.6,359.3 L183.8,362.6 L183.7,365.6 L183.2,368.8 L182.5,371.8 L181.7,374.1 L180.6,376.1 L179.3,377.7 L178.1,378.6 L176.6,379.1 Z M177.3,377.6 L176.6,377.7 L175.8,377.7 L174.6,377.2 L173.3,376.2 L172.1,374.5 L171.1,372.3 L170.3,369.8 L169.8,367.1 L169.6,364.1 L169.6,361.1 L170.0,358.1 L170.6,355.3 L171.4,352.8 L172.4,350.8 L173.6,349.2 L174.8,348.2 L175.6,347.9 L176.3,347.8 L177.6,348.1 L178.8,348.9 L179.9,350.1 L180.9,351.8 L181.7,353.8 L182.4,356.3 L182.9,359.1 L183.1,361.8 L183.1,364.6 L182.8,367.3 L182.3,369.8 L181.7,372.1 L180.8,374.0 L179.8,375.6 L178.6,376.9 L177.3,377.6 Z M176.3,376.6 L175.1,376.3 L173.8,375.4 L172.8,374.2 L171.9,372.6 L171.2,370.6 L170.6,368.3 L170.3,365.8 L170.1,363.1 L170.3,360.3 L170.6,357.8 L171.2,355.3 L172.0,353.3 L172.9,351.6 L174.1,350.2 L175.1,349.5 L176.3,349.2 L177.6,349.5 L178.8,350.3 L179.8,351.6 L180.7,353.3 L181.5,355.3 L182.1,357.8 L182.4,360.3 L182.5,363.1 L182.4,365.8 L182.1,368.3 L181.5,370.6 L180.7,372.6 L179.8,374.3 L178.7,375.6 L177.6,376.3 L176.3,376.6 Z M177.1,375.4 L175.8,375.5 L174.8,375.1 L173.8,374.3 L172.8,372.8 L172.0,371.1 L171.3,368.8 L170.9,366.6 L170.7,364.1 L170.7,361.6 L171.0,359.1 L171.5,356.6 L172.2,354.6 L173.1,352.8 L174.1,351.5 L175.1,350.8 L176.3,350.4 L177.3,350.6 L178.3,351.2 L179.3,352.3 L180.2,353.8 L180.9,355.6 L181.5,357.6 L181.8,359.8 L182.0,362.3 L182.0,364.8 L181.7,367.1 L181.3,369.3 L180.7,371.1 L180.0,372.6 L179.1,373.9 L178.1,374.9 L177.1,375.4 Z M177.1,374.4 L176.1,374.5 L175.1,374.2 L174.1,373.4 L173.1,372.1 L172.3,370.5 L171.7,368.6 L171.3,366.3 L171.1,364.1 L171.2,361.6 L171.4,359.3 L171.8,357.3 L172.5,355.3 L173.3,353.7 L174.3,352.5 L175.3,351.8 L176.3,351.6 L177.3,351.8 L178.2,352.3 L179.1,353.3 L179.8,354.6 L180.6,356.3 L181.0,358.1 L181.4,360.1 L181.6,362.3 L181.5,364.6 L181.3,366.6 L180.9,368.6 L180.4,370.3 L179.7,371.8 L178.9,373.1 L178.1,373.8 L177.1,374.4 Z M176.6,373.6 L175.6,373.5 L174.8,373.1 L173.8,372.1 L173.1,370.9 L172.5,369.3 L172.0,367.6 L171.7,365.6 L171.6,363.6 L171.6,361.3 L171.9,359.3 L172.3,357.4 L172.9,355.8 L173.8,354.3 L174.6,353.4 L175.3,352.8 L176.3,352.6 L177.3,352.8 L178.1,353.3 L178.8,354.2 L179.7,355.6 L180.2,357.1 L180.7,358.8 L181.0,360.8 L181.1,362.8 L181.1,364.8 L180.8,366.8 L180.4,368.6 L179.8,370.2 L179.1,371.7 L178.3,372.6 L177.6,373.2 L176.6,373.6 Z M176.8,372.6 L175.8,372.6 L175.1,372.3 L174.3,371.6 L173.6,370.6 L172.9,369.1 L172.5,367.6 L172.1,365.8 L172.0,363.8 L172.2,360.1 L172.6,358.3 L173.1,356.8 L173.8,355.4 L174.6,354.4 L175.3,353.9 L176.3,353.6 L177.1,353.8 L178.0,354.3 L178.6,355.1 L179.3,356.3 L180.3,359.1 L180.7,362.6 L180.5,366.1 L180.1,367.8 L179.7,369.3 L179.1,370.5 L178.3,371.6 L177.6,372.3 L176.8,372.6 Z M177.1,371.6 L176.1,371.7 L175.3,371.5 L174.6,370.9 L174.0,370.1 L173.3,368.8 L172.9,367.3 L172.4,364.1 L172.6,360.6 L172.9,359.1 L173.4,357.6 L174.1,356.2 L174.8,355.3 L175.6,354.8 L176.3,354.6 L177.1,354.8 L177.8,355.3 L179.0,356.8 L179.8,359.3 L180.2,362.3 L180.1,365.6 L179.5,368.3 L179.0,369.6 L178.3,370.5 L177.8,371.1 L177.1,371.6 Z M176.6,370.8 L175.8,370.8 L175.3,370.5 L174.6,369.9 L174.1,369.1 L173.6,368.0 L173.2,366.6 L172.8,363.6 L173.1,360.6 L173.8,357.9 L174.3,357.0 L175.1,356.1 L175.6,355.8 L176.3,355.6 L177.1,355.8 L177.6,356.1 L178.2,356.8 L178.8,357.8 L179.6,360.3 L179.8,363.1 L179.6,365.8 L178.9,368.3 L178.4,369.3 L177.8,370.1 L177.3,370.6 L176.6,370.8 Z M176.6,369.9 L175.8,369.8 L175.3,369.5 L174.3,368.3 L173.6,366.2 L173.3,363.6 L173.5,361.1 L174.1,358.7 L174.6,357.8 L175.1,357.2 L175.6,356.8 L176.3,356.6 L177.1,356.8 L177.6,357.2 L178.5,358.6 L179.1,360.6 L179.4,363.1 L179.2,365.6 L178.6,367.7 L178.1,368.7 L177.6,369.3 L176.6,369.9 Z M176.6,368.8 L176.1,368.9 L175.6,368.6 L175.1,368.2 L174.6,367.4 L174.0,365.8 L173.8,363.6 L173.9,361.3 L174.5,359.3 L175.3,358.1 L175.8,357.8 L176.3,357.7 L176.8,357.8 L177.3,358.1 L178.1,359.2 L178.7,361.1 L178.9,363.1 L178.8,365.1 L178.3,366.8 L177.6,368.1 L177.1,368.6 L176.6,368.8 Z M176.8,367.6 L176.3,367.7 L175.8,367.6 L175.1,366.8 L174.6,365.6 L174.3,363.8 L174.4,362.1 L174.8,360.3 L175.6,359.2 L176.3,358.9 L177.1,359.2 L177.7,360.1 L178.1,361.3 L178.3,362.8 L178.3,364.3 L178.0,365.8 L177.6,366.8 L176.8,367.6 Z M176.6,366.2 L176.1,366.2 L175.6,365.8 L175.2,364.8 L175.0,363.6 L175.1,362.3 L175.3,361.4 L175.8,360.6 L176.3,360.4 L176.8,360.6 L177.3,361.3 L177.7,363.1 L177.6,364.1 L177.4,365.1 L177.1,365.7 L176.6,366.2 Z" fill="none" stroke="#2a2a2a" stroke-width="0.42" stroke-linejoin="round"/>
<path fill="#666" d="M207.9 354.5h0.55v0.55h-0.55zM199.5 368.3h0.55v0.55h-0.55zM207.6 379.2h0.55v0.55h-0.55zM217.7 347.4h0.55v0.55h-0.55zM184.6 340.2h0.55v0.55h-0.55zM185.6 338.7h0.55v0.55h-0.55zM196.8 339.6h0.55v0.55h-0.55zM189.2 330.8h0.55v0.55h-0.55zM202.3 355.7h0.55v0.55h-0.55zM186.7 372.7h0.55v0.55h-0.55zM192.8 353.8h0.55v0.55h-0.55zM200.0 377.0h0.55v0.55h-0.55zM182.1 333.5h0.55v0.55h-0.55zM162.6 343.6h0.55v0.55h-0.55zM201.5 360.2h0.55v0.55h-0.55zM197.5 356.7h0.55v0.55h-0.55zM222.2 368.2h0.55v0.55h-0.55zM188.9 351.2h0.55v0.55h-0.55zM208.6 347.3h0.55v0.55h-0.55zM184.5 337.2h0.55v0.55h-0.55zM206.6 343.2h0.55v0.55h-0.55zM192.0 362.5h0.55v0.55h-0.55zM191.6 381.0h0.55v0.55h-0.55zM202.2 352.9h0.55v0.55h-0.55zM198.7 355.2h0.55v0.55h-0.55zM171.3 333.8h0.55v0.55h-0.55zM197.4 362.4h0.55v0.55h-0.55zM204.8 351.3h0.55v0.55h-0.55zM210.7 340.5h0.55v0.55h-0.55zM196.4 358.8h0.55v0.55h-0.55zM163.9 350.1h0.55v0.55h-0.55zM185.9 345.3h0.55v0.55h-0.55zM189.9 354.8h0.55v0.55h-0.55zM199.4 351.1h0.55v0.55h-0.55zM183.7 340.8h0.55v0.55h-0.55zM189.4 367.8h0.55v0.55h-0.55zM202.7 352.5h0.55v0.55h-0.55zM188.2 354.4h0.55v0.55h-0.55zM193.6 374.2h0.55v0.55h-0.55zM193.1 350.2h0.55v0.55h-0.55zM203.5 356.5h0.55v0.55h-0.55zM215.2 365.6h0.55v0.55h-0.55zM179.3 331.4h0.55v0.55h-0.55zM174.9 331.7h0.55v0.55h-0.55zM228.1 341.3h0.55v0.55h-0.55zM187.6 333.1h0.55v0.55h-0.55zM198.1 341.5h0.55v0.55h-0.55zM191.7 349.5h0.55v0.55h-0.55zM191.2 351.8h0.55v0.55h-0.55zM211.6 359.7h0.55v0.55h-0.55zM196.0 391.3h0.55v0.55h-0.55zM165.9 342.1h0.55v0.55h-0.55zM188.3 362.5h0.55v0.55h-0.55zM208.5 364.9h0.55v0.55h-0.55zM189.4 354.3h0.55v0.55h-0.55zM196.5 332.5h0.55v0.55h-0.55zM198.7 360.6h0.55v0.55h-0.55zM203.4 365.2h0.55v0.55h-0.55zM187.4 372.2h0.55v0.55h-0.55zM224.1 356.6h0.55v0.55h-0.55zM193.9 372.8h0.55v0.55h-0.55zM195.6 383.7h0.55v0.55h-0.55zM161.8 359.4h0.55v0.55h-0.55zM200.2 363.6h0.55v0.55h-0.55zM189.5 354.0h0.55v0.55h-0.55zM191.7 366.7h0.55v0.55h-0.55zM205.3 373.0h0.55v0.55h-0.55zM202.4 359.7h0.55v0.55h-0.55zM204.4 361.4h0.55v0.55h-0.55zM188.3 373.3h0.55v0.55h-0.55zM185.2 327.1h0.55v0.55h-0.55zM190.3 358.5h0.55v0.55h-0.55zM198.1 347.0h0.55v0.55h-0.55zM186.3 335.2h0.55v0.55h-0.55zM201.8 382.2h0.55v0.55h-0.55zM158.2 349.2h0.55v0.55h-0.55zM198.1 380.7h0.55v0.55h-0.55zM188.2 361.9h0.55v0.55h-0.55zM200.8 337.6h0.55v0.55h-0.55zM195.5 369.0h0.55v0.55h-0.55zM217.9 345.8h0.55v0.55h-0.55zM202.8 363.8h0.55v0.55h-0.55zM205.0 365.8h0.55v0.55h-0.55zM200.2 341.2h0.55v0.55h-0.55zM189.5 369.8h0.55v0.55h-0.55zM197.7 359.6h0.55v0.55h-0.55zM192.4 364.8h0.55v0.55h-0.55zM175.2 334.2h0.55v0.55h-0.55zM155.0 332.6h0.55v0.55h-0.55zM187.1 348.2h0.55v0.55h-0.55zM215.1 364.6h0.55v0.55h-0.55zM216.3 354.7h0.55v0.55h-0.55zM209.6 371.5h0.55v0.55h-0.55zM224.3 360.8h0.55v0.55h-0.55zM184.1 336.9h0.55v0.55h-0.55zM195.1 352.6h0.55v0.55h-0.55zM196.2 389.8h0.55v0.55h-0.55zM195.7 351.4h0.55v0.55h-0.55zM217.0 354.4h0.55v0.55h-0.55zM177.9 333.1h0.55v0.55h-0.55zM189.9 364.8h0.55v0.55h-0.55zM200.5 352.1h0.55v0.55h-0.55zM171.4 335.6h0.55v0.55h-0.55zM188.9 364.0h0.55v0.55h-0.55zM198.2 363.1h0.55v0.55h-0.55zM189.0 354.1h0.55v0.55h-0.55zM184.7 329.9h0.55v0.55h-0.55zM167.3 379.2h0.55v0.55h-0.55zM188.8 367.8h0.55v0.55h-0.55zM187.1 381.6h0.55v0.55h-0.55zM191.5 345.8h0.55v0.55h-0.55zM187.2 350.8h0.55v0.55h-0.55zM174.8 332.8h0.55v0.55h-0.55zM186.5 383.5h0.55v0.55h-0.55zM195.7 350.2h0.55v0.55h-0.55zM193.0 359.3h0.55v0.55h-0.55zM188.9 345.8h0.55v0.55h-0.55zM160.1 365.9h0.55v0.55h-0.55zM203.6 364.8h0.55v0.55h-0.55zM208.1 372.2h0.55v0.55h-0.55zM164.8 352.0h0.55v0.55h-0.55zM202.4 386.0h0.55v0.55h-0.55zM188.7 349.1h0.55v0.55h-0.55zM166.4 336.3h0.55v0.55h-0.55zM199.4 373.5h0.55v0.55h-0.55zM220.5 356.8h0.55v0.55h-0.55zM186.2 377.4h0.55v0.55h-0.55zM202.4 348.3h0.55v0.55h-0.55zM192.6 358.6h0.55v0.55h-0.55zM174.0 334.7h0.55v0.55h-0.55zM195.4 379.8h0.55v0.55h-0.55zM182.7 320.9h0.55v0.55h-0.55zM215.4 354.0h0.55v0.55h-0.55zM180.0 325.6h0.55v0.55h-0.55zM195.4 353.6h0.55v0.55h-0.55zM197.5 349.2h0.55v0.55h-0.55zM194.1 373.4h0.55v0.55h-0.55zM202.2 339.2h0.55v0.55h-0.55zM214.9 365.9h0.55v0.55h-0.55zM202.1 345.9h0.55v0.55h-0.55zM203.8 369.8h0.55v0.55h-0.55zM209.9 360.3h0.55v0.55h-0.55zM180.1 330.8h0.55v0.55h-0.55zM208.0 390.1h0.55v0.55h-0.55zM192.8 372.3h0.55v0.55h-0.55zM192.3 362.0h0.55v0.55h-0.55zM161.9 343.5h0.55v0.55h-0.55zM197.5 354.3h0.55v0.55h-0.55zM185.7 390.8h0.55v0.55h-0.55zM195.7 363.8h0.55v0.55h-0.55zM194.4 355.3h0.55v0.55h-0.55zM189.3 333.0h0.55v0.55h-0.55zM192.8 384.7h0.55v0.55h-0.55zM190.7 372.3h0.55v0.55h-0.55zM195.4 375.1h0.55v0.55h-0.55zM217.0 360.5h0.55v0.55h-0.55zM189.2 361.5h0.55v0.55h-0.55zM202.2 369.0h0.55v0.55h-0.55zM164.7 372.9h0.55v0.55h-0.55zM200.5 354.5h0.55v0.55h-0.55zM177.7 329.9h0.55v0.55h-0.55zM203.2 367.6h0.55v0.55h-0.55zM164.7 346.3h0.55v0.55h-0.55zM206.4 357.9h0.55v0.55h-0.55zM216.8 369.0h0.55v0.55h-0.55zM206.9 331.5h0.55v0.55h-0.55zM199.3 360.1h0.55v0.55h-0.55zM193.5 366.7h0.55v0.55h-0.55zM169.8 339.0h0.55v0.55h-0.55zM197.8 333.2h0.55v0.55h-0.55zM192.4 351.8h0.55v0.55h-0.55zM186.6 383.1h0.55v0.55h-0.55zM165.1 376.1h0.55v0.55h-0.55zM194.1 355.1h0.55v0.55h-0.55zM188.4 379.2h0.55v0.55h-0.55zM175.0 329.5h0.55v0.55h-0.55z"/>
<line x1="188.7" y1="279.8" x2="188.7" y2="393.9" stroke="#222" stroke-width="0.9" />
<line x1="149.6" y1="353.6" x2="263.1" y2="353.6" stroke="#222" stroke-width="0.9" />
<rect x="149.6" y="279.8" width="113.5" height="114.1" stroke="#1a1a1a" stroke-width="1.2" fill="none"/>
<text transform="translate(205.8,274.8) scale(0.9,1)" font-size="10.01" text-anchor="middle" font-weight="normal" fill="#222" stroke="#222" stroke-width="0.12"  >II-1</text>
<text transform="translate(237.6,292.2) scale(0.9,1)" font-size="8.58" text-anchor="end" font-weight="normal" fill="#222" stroke="#222" stroke-width="0.12"  >18.7</text>
<text transform="translate(243.8,292.2) scale(0.9,1)" font-size="8.58" text-anchor="start" font-weight="normal" fill="#222" stroke="#222" stroke-width="0.12"  >0.84</text>
<text transform="translate(237.6,303.3) scale(0.9,1)" font-size="8.58" text-anchor="end" font-weight="normal" fill="#222" stroke="#222" stroke-width="0.12"  >78.6</text>
<text transform="translate(243.8,303.3) scale(0.9,1)" font-size="8.58" text-anchor="start" font-weight="normal" fill="#222" stroke="#222" stroke-width="0.12"  >1.93</text>
<line x1="240.6" y1="284.4" x2="240.6" y2="304.8" stroke="#222" stroke-width="0.8" />
<line x1="225.6" y1="294.5" x2="255.1" y2="294.5" stroke="#222" stroke-width="0.8" />
<line x1="22.4" y1="297.2" x2="24.4" y2="297.2" stroke="#333" stroke-width="0.6" />
<line x1="22.4" y1="310.5" x2="24.4" y2="310.5" stroke="#333" stroke-width="0.6" />
<line x1="22.4" y1="341.7" x2="24.4" y2="341.7" stroke="#333" stroke-width="0.6" />
<line x1="22.4" y1="366.5" x2="24.4" y2="366.5" stroke="#333" stroke-width="0.6" />
<line x1="22.4" y1="372.5" x2="24.4" y2="372.5" stroke="#333" stroke-width="0.6" />
<line x1="22.4" y1="382.5" x2="24.4" y2="382.5" stroke="#333" stroke-width="0.6" />
<line x1="22.4" y1="387.7" x2="24.4" y2="387.7" stroke="#333" stroke-width="0.6" />
<rect x="22.2" y="368.3" width="1.6" height="2.4" fill="#222"/>
<path d="M31.0,394.4v2.0M33.2,394.4v2.0M35.4,394.4v2.0M37.6,394.4v2.0M39.8,394.4v2.0M42.4,394.4v2.0M49.0,394.4v2.0M52.9,394.4v2.0M55.6,394.4v2.0M57.8,394.4v2.0M59.5,394.4v2.0M61.0,394.4v2.0M62.3,394.4v2.0M63.4,394.4v2.0M64.4,394.4v2.0M71.0,394.4v2.0M74.9,394.4v2.0M77.6,394.4v2.0M79.8,394.4v2.0M81.5,394.4v2.0M83.0,394.4v2.0M84.3,394.4v2.0M85.4,394.4v2.0M86.4,394.4v2.0M93.0,394.4v2.0M96.9,394.4v2.0M99.6,394.4v2.0M101.8,394.4v2.0M103.5,394.4v2.0M105.0,394.4v2.0M106.3,394.4v2.0M107.4,394.4v2.0M108.4,394.4v2.0M115.0,394.4v2.0M118.9,394.4v2.0M121.6,394.4v2.0M123.8,394.4v2.0M125.5,394.4v2.0M127.0,394.4v2.0M128.3,394.4v2.0M129.4,394.4v2.0M130.4,394.4v2.0" stroke="#2a2a2a" stroke-width="0.7" fill="none"/>
<rect x="41.2" y="394.3" width="2.4" height="1.6" fill="#222"/>
<line x1="147.6" y1="297.2" x2="149.6" y2="297.2" stroke="#333" stroke-width="0.6" />
<line x1="147.6" y1="310.5" x2="149.6" y2="310.5" stroke="#333" stroke-width="0.6" />
<line x1="147.6" y1="341.7" x2="149.6" y2="341.7" stroke="#333" stroke-width="0.6" />
<line x1="147.6" y1="366.5" x2="149.6" y2="366.5" stroke="#333" stroke-width="0.6" />
<line x1="147.6" y1="372.5" x2="149.6" y2="372.5" stroke="#333" stroke-width="0.6" />
<line x1="147.6" y1="382.5" x2="149.6" y2="382.5" stroke="#333" stroke-width="0.6" />
<line x1="147.6" y1="387.7" x2="149.6" y2="387.7" stroke="#333" stroke-width="0.6" />
<rect x="147.4" y="368.3" width="1.6" height="2.4" fill="#222"/>
<path d="M156.2,394.4v2.0M158.4,394.4v2.0M160.6,394.4v2.0M162.8,394.4v2.0M165.0,394.4v2.0M167.6,394.4v2.0M174.2,394.4v2.0M178.1,394.4v2.0M180.8,394.4v2.0M183.0,394.4v2.0M184.7,394.4v2.0M186.2,394.4v2.0M187.5,394.4v2.0M188.6,394.4v2.0M189.6,394.4v2.0M196.2,394.4v2.0M200.1,394.4v2.0M202.8,394.4v2.0M205.0,394.4v2.0M206.7,394.4v2.0M208.2,394.4v2.0M209.5,394.4v2.0M210.6,394.4v2.0M211.6,394.4v2.0M218.2,394.4v2.0M222.1,394.4v2.0M224.8,394.4v2.0M227.0,394.4v2.0M228.7,394.4v2.0M230.2,394.4v2.0M231.5,394.4v2.0M232.6,394.4v2.0M233.6,394.4v2.0M240.2,394.4v2.0M244.1,394.4v2.0M246.8,394.4v2.0M249.0,394.4v2.0M250.7,394.4v2.0M252.2,394.4v2.0M253.5,394.4v2.0M254.6,394.4v2.0M255.6,394.4v2.0" stroke="#2a2a2a" stroke-width="0.7" fill="none"/>
<rect x="166.4" y="394.3" width="2.4" height="1.6" fill="#222"/>
<line x1="13.5" y1="285" x2="13.5" y2="333.5" stroke="#222" stroke-width="1.1" />
<path d="M13.5,282 L10.7,287.5 L16.3,287.5 Z" fill="#222"/>
<text transform="translate(16,367.5) rotate(-90) scale(0.9,1)" font-size="8.58" text-anchor="middle" font-weight="normal" fill="#222" stroke="#222" stroke-width="0.12"  >CD40L PE-Cy5</text>
<text transform="translate(22.8,407) scale(0.9,1)" font-size="8.58" text-anchor="start" font-weight="normal" fill="#222" stroke="#222" stroke-width="0.12"  >IL-21 AF647</text>
<line x1="73.5" y1="404.9" x2="251.8" y2="404.9" stroke="#222" stroke-width="1.2" />
<path d="M254.8,404.9 L249.3,401.9 L249.3,407.9 Z" fill="#1a1a1a"/>
<text transform="translate(1.5,425.8)" font-size="10.50" text-anchor="start" font-weight="bold" fill="#111"  >G</text>
<path d="M97.9,498.2 L94.4,498.2 L91.2,497.9 L88.2,497.2 L85.4,496.1 L82.7,494.5 L80.6,492.6 L79.1,490.6 L78.4,488.6 L78.1,486.4 L78.4,483.9 L79.1,481.4 L80.2,479.1 L82.1,476.1 L85.9,471.1 L88.2,469.0 L90.7,467.2 L99.9,462.2 L104.4,460.2 L106.9,459.4 L109.2,458.8 L111.4,458.5 L113.7,458.5 L119.2,458.8 L126.7,458.9 L129.4,459.2 L132.2,460.0 L137.7,462.1 L141.9,464.2 L143.4,465.1 L144.5,466.1 L145.6,467.4 L146.5,468.6 L147.6,471.1 L148.2,473.6 L148.2,476.1 L147.6,478.6 L146.5,480.9 L144.9,483.0 L142.9,484.9 L140.2,486.8 L135.9,489.0 L129.7,492.1 L125.9,493.5 L121.7,494.8 L116.4,496.0 L110.7,497.0 L105.7,497.5 L97.9,498.2 Z M99.7,497.4 L95.7,497.6 L92.7,497.5 L89.7,497.0 L86.9,496.1 L84.2,494.7 L81.9,492.9 L80.3,490.9 L79.4,488.9 L79.0,486.6 L79.2,484.4 L79.8,482.1 L80.9,479.9 L82.8,477.1 L86.9,472.0 L88.9,470.1 L91.4,468.3 L100.4,463.3 L104.9,461.1 L107.2,460.3 L109.4,459.8 L111.4,459.5 L113.7,459.4 L118.9,459.6 L126.4,459.6 L129.2,459.9 L131.7,460.5 L136.4,462.3 L139.2,463.6 L141.2,464.6 L142.6,465.6 L143.8,466.6 L144.7,467.6 L145.6,468.9 L146.7,471.1 L147.2,473.6 L147.2,476.1 L146.7,478.4 L145.7,480.6 L144.2,482.6 L142.3,484.4 L139.9,486.1 L136.4,488.0 L129.9,491.3 L126.2,492.8 L122.4,494.0 L117.9,495.1 L112.2,496.1 L107.2,496.7 L99.7,497.4 Z M97.4,496.4 L93.7,496.5 L90.7,496.1 L87.9,495.3 L85.4,494.0 L83.4,492.4 L81.8,490.4 L81.3,489.4 L80.9,488.1 L80.8,485.9 L81.3,483.4 L82.5,480.9 L84.5,478.1 L88.2,473.9 L90.2,472.0 L92.2,470.5 L99.7,466.0 L103.2,464.1 L105.9,462.8 L108.2,461.9 L110.4,461.4 L113.7,461.0 L124.4,460.8 L127.2,460.9 L129.7,461.3 L132.2,462.0 L134.9,463.0 L137.7,464.3 L139.9,465.6 L141.7,466.9 L143.2,468.4 L144.2,469.9 L145.2,472.1 L145.5,474.4 L145.4,476.6 L144.7,478.9 L143.6,480.9 L142.1,482.6 L140.2,484.3 L137.4,486.0 L132.2,488.8 L128.7,490.5 L125.4,491.8 L121.4,493.0 L116.9,494.1 L110.9,495.1 L97.4,496.4 Z M95.9,495.2 L92.9,495.1 L90.2,494.6 L87.7,493.7 L85.7,492.4 L84.1,490.6 L83.5,489.6 L83.1,488.6 L82.7,486.6 L83.1,484.4 L83.9,482.4 L85.2,480.4 L88.2,477.0 L90.9,474.2 L92.9,472.6 L95.4,471.0 L100.4,468.0 L104.4,465.7 L108.7,463.8 L112.2,463.0 L123.4,462.1 L125.7,462.1 L127.9,462.3 L130.2,462.7 L132.2,463.3 L134.7,464.3 L136.9,465.5 L138.9,466.8 L140.5,468.1 L141.6,469.4 L142.6,470.9 L143.4,473.1 L143.5,474.4 L143.5,475.6 L143.1,477.9 L142.0,480.1 L140.5,481.9 L138.5,483.6 L135.9,485.3 L131.9,487.5 L128.4,489.2 L125.4,490.5 L122.2,491.5 L118.7,492.3 L113.9,493.2 L109.4,493.9 L95.9,495.2 Z M96.9,493.7 L93.9,493.8 L91.4,493.5 L89.2,492.8 L87.3,491.6 L85.9,490.1 L85.0,488.4 L84.8,486.4 L85.2,484.4 L86.0,482.6 L87.5,480.6 L90.2,477.7 L92.6,475.4 L94.9,473.7 L97.9,471.7 L102.4,469.0 L106.2,466.9 L109.9,465.3 L113.7,464.4 L122.7,463.3 L125.4,463.2 L127.7,463.3 L129.7,463.7 L131.7,464.3 L133.7,465.1 L135.5,466.1 L137.3,467.4 L138.7,468.6 L139.8,469.9 L140.7,471.4 L141.4,473.4 L141.6,475.6 L141.2,477.6 L140.2,479.6 L138.8,481.4 L136.9,483.0 L134.4,484.7 L130.7,486.8 L127.7,488.2 L124.9,489.3 L121.9,490.2 L118.4,491.1 L109.9,492.5 L96.9,493.7 Z M96.9,492.2 L94.2,492.3 L92.2,492.1 L90.2,491.5 L88.7,490.5 L87.5,489.1 L86.9,487.6 L86.8,485.9 L87.4,484.1 L88.4,482.5 L89.9,480.6 L92.2,478.3 L94.4,476.4 L97.2,474.4 L101.7,471.5 L105.4,469.3 L108.2,467.8 L112.2,466.2 L117.7,465.0 L123.2,464.2 L125.4,464.1 L127.4,464.2 L129.2,464.5 L130.9,465.0 L132.7,465.8 L134.4,466.7 L135.9,467.8 L137.2,469.0 L138.3,470.4 L139.1,471.6 L139.7,473.6 L139.8,475.6 L139.4,477.6 L138.5,479.4 L137.1,481.1 L135.2,482.8 L132.7,484.5 L129.4,486.2 L126.4,487.5 L123.7,488.5 L120.7,489.3 L117.2,490.0 L109.9,491.1 L101.4,491.7 L96.9,492.2 Z M97.9,490.4 L95.2,490.6 L93.4,490.5 L91.8,490.1 L90.4,489.4 L89.4,488.2 L89.0,486.9 L89.2,485.4 L89.8,483.9 L90.9,482.4 L92.4,480.6 L94.2,478.9 L96.4,477.1 L104.2,471.9 L107.7,469.8 L110.2,468.5 L114.2,466.9 L119.7,465.5 L123.7,464.9 L127.2,465.0 L128.9,465.3 L130.7,465.8 L132.2,466.5 L133.7,467.4 L134.9,468.3 L136.1,469.4 L137.0,470.6 L137.7,471.9 L138.3,473.6 L138.4,475.6 L137.9,477.6 L137.0,479.4 L135.7,480.9 L133.9,482.5 L131.4,484.1 L128.7,485.5 L126.2,486.6 L123.2,487.5 L119.9,488.3 L116.2,489.0 L109.7,489.7 L101.7,490.1 L97.9,490.4 Z M98.2,488.4 L95.9,488.5 L94.4,488.4 L93.2,488.0 L92.4,487.4 L92.0,486.6 L91.9,485.6 L92.3,484.4 L93.2,483.1 L94.6,481.4 L96.4,479.6 L101.5,475.6 L108.5,470.9 L110.9,469.5 L113.4,468.4 L117.2,467.0 L121.4,465.9 L124.7,465.6 L127.7,465.8 L130.4,466.5 L131.9,467.2 L133.2,468.0 L134.3,468.9 L135.2,469.9 L136.0,470.9 L136.6,472.1 L137.1,473.9 L137.2,475.6 L136.8,477.4 L135.9,479.1 L134.6,480.6 L132.7,482.3 L130.4,483.7 L127.7,485.0 L124.9,486.0 L122.2,486.8 L118.7,487.4 L114.9,487.9 L109.4,488.3 L101.7,488.3 L98.2,488.4 Z M116.2,486.7 L112.7,486.9 L109.2,486.8 L105.7,486.5 L101.6,485.9 L99.2,485.4 L98.2,485.0 L97.6,484.4 L97.4,483.9 L97.5,483.4 L98.1,481.9 L99.5,480.1 L101.5,478.1 L104.1,475.9 L108.0,472.9 L111.2,470.8 L113.9,469.2 L116.7,468.0 L119.4,467.1 L121.9,466.5 L124.2,466.2 L126.4,466.3 L128.4,466.6 L130.4,467.3 L132.4,468.4 L133.9,469.7 L134.9,470.9 L135.7,472.4 L136.1,473.6 L136.2,475.1 L136.0,476.6 L135.5,477.9 L134.5,479.4 L133.4,480.6 L131.9,481.9 L130.2,483.0 L128.2,484.0 L126.2,484.8 L121.9,485.9 L116.2,486.7 Z M118.9,485.4 L115.4,485.6 L112.4,485.5 L109.4,485.2 L106.9,484.6 L104.9,483.8 L103.6,482.9 L103.0,481.9 L103.1,480.6 L103.8,479.1 L105.0,477.6 L107.0,475.6 L109.6,473.4 L111.8,471.6 L113.6,470.4 L115.7,469.3 L117.9,468.3 L120.2,467.5 L122.2,467.1 L124.2,466.8 L126.2,466.8 L127.9,467.1 L129.7,467.6 L131.2,468.4 L132.6,469.4 L133.6,470.4 L134.4,471.6 L135.0,472.9 L135.3,474.4 L135.2,475.9 L134.9,477.1 L134.3,478.4 L133.4,479.6 L132.3,480.6 L130.9,481.8 L129.2,482.8 L127.4,483.6 L123.7,484.7 L118.9,485.4 Z M120.9,484.4 L117.4,484.6 L114.4,484.4 L111.9,484.1 L109.8,483.4 L108.0,482.4 L107.1,481.4 L106.8,480.1 L107.0,478.9 L107.7,477.6 L108.8,476.1 L110.3,474.4 L112.1,472.6 L115.1,470.4 L118.4,468.7 L120.4,468.0 L122.2,467.6 L123.9,467.4 L125.4,467.3 L126.9,467.5 L128.4,467.8 L129.9,468.4 L131.2,469.1 L132.4,470.1 L133.3,471.1 L133.9,472.1 L134.3,473.4 L134.5,474.6 L134.4,475.9 L134.0,477.1 L133.4,478.4 L132.4,479.6 L131.3,480.6 L129.9,481.7 L128.4,482.5 L126.7,483.2 L124.9,483.7 L120.9,484.4 Z M121.2,483.7 L117.9,483.7 L114.9,483.4 L112.7,482.7 L110.9,481.8 L109.9,480.6 L109.6,479.9 L109.5,479.1 L109.9,477.6 L110.9,475.6 L112.7,473.4 L115.0,471.4 L117.7,469.7 L120.4,468.6 L123.2,467.9 L125.9,467.9 L128.4,468.4 L130.7,469.5 L131.8,470.4 L132.6,471.4 L133.2,472.4 L133.6,473.6 L133.8,474.9 L133.6,476.1 L133.2,477.4 L132.6,478.4 L131.8,479.4 L130.7,480.4 L129.4,481.3 L127.9,482.1 L124.9,483.1 L121.2,483.7 Z M122.4,482.9 L119.7,483.0 L117.2,482.7 L114.9,482.2 L113.2,481.4 L112.1,480.4 L111.6,479.1 L111.6,477.6 L112.2,475.9 L113.5,473.9 L115.5,471.9 L117.6,470.4 L119.9,469.3 L122.4,468.5 L124.9,468.3 L127.2,468.5 L129.4,469.4 L130.4,470.0 L131.5,470.9 L132.2,471.9 L132.7,472.9 L133.0,473.9 L133.1,475.1 L132.8,476.4 L132.4,477.4 L131.8,478.4 L130.9,479.4 L129.9,480.3 L128.7,481.1 L127.2,481.8 L125.7,482.3 L122.4,482.9 Z M123.9,482.2 L121.7,482.4 L119.2,482.2 L116.9,481.8 L115.3,481.1 L113.9,480.1 L113.3,479.1 L113.0,477.9 L113.2,476.6 L113.9,474.9 L115.2,473.1 L116.8,471.6 L118.7,470.4 L120.7,469.5 L122.9,468.9 L125.2,468.8 L127.2,469.0 L128.4,469.5 L129.7,470.1 L130.6,470.9 L131.4,471.8 L132.0,472.9 L132.3,473.9 L132.4,474.9 L132.2,476.1 L131.9,477.1 L131.3,478.1 L130.4,479.1 L129.4,480.0 L128.2,480.8 L126.9,481.3 L123.9,482.2 Z M123.4,481.7 L121.2,481.8 L119.2,481.5 L117.4,481.1 L115.9,480.3 L114.9,479.4 L114.4,478.4 L114.2,477.1 L114.6,475.6 L115.3,474.1 L116.6,472.6 L118.2,471.3 L120.2,470.2 L122.2,469.5 L123.9,469.3 L125.9,469.3 L127.7,469.7 L128.7,470.1 L129.7,470.8 L130.4,471.4 L131.1,472.4 L131.6,473.4 L131.8,474.4 L131.8,475.4 L131.5,476.4 L131.1,477.4 L130.4,478.3 L128.6,479.9 L126.2,481.1 L123.4,481.7 Z M123.2,481.2 L121.2,481.2 L119.4,480.9 L117.9,480.4 L116.6,479.6 L115.7,478.6 L115.4,477.6 L115.3,476.4 L115.7,475.1 L116.5,473.6 L117.7,472.4 L119.2,471.3 L120.9,470.4 L122.9,469.8 L124.7,469.7 L126.4,469.8 L127.9,470.3 L129.6,471.4 L130.3,472.1 L130.7,472.9 L131.0,473.6 L131.2,474.6 L131.1,475.6 L130.8,476.6 L130.2,477.6 L129.7,478.4 L127.9,479.7 L125.7,480.7 L123.2,481.2 Z M124.7,480.4 L123.2,480.6 L121.4,480.6 L119.9,480.3 L118.7,479.9 L117.7,479.3 L116.9,478.6 L116.4,477.6 L116.2,476.6 L116.4,475.6 L116.9,474.4 L117.8,473.1 L118.9,472.1 L120.2,471.3 L121.7,470.6 L123.2,470.3 L124.7,470.1 L126.9,470.5 L127.9,470.9 L128.9,471.5 L129.7,472.3 L130.2,473.1 L130.4,473.9 L130.6,474.9 L130.4,475.9 L130.2,476.6 L129.6,477.6 L128.9,478.4 L127.9,479.1 L126.9,479.7 L124.7,480.4 Z M124.7,479.9 L123.4,480.1 L121.9,480.1 L120.7,479.9 L119.3,479.4 L118.4,478.9 L117.7,478.1 L117.3,477.4 L117.1,476.4 L117.2,475.4 L117.7,474.4 L118.4,473.4 L119.4,472.4 L120.4,471.7 L121.7,471.1 L122.9,470.8 L124.4,470.6 L125.7,470.7 L126.7,470.9 L127.7,471.3 L128.4,471.8 L129.5,473.1 L129.8,473.9 L129.9,474.9 L129.8,475.9 L129.5,476.6 L128.4,478.1 L126.7,479.3 L124.7,479.9 Z M124.4,479.4 L123.2,479.5 L121.9,479.5 L120.7,479.2 L119.7,478.8 L118.9,478.2 L118.4,477.6 L118.1,476.9 L118.0,475.9 L118.2,474.9 L118.6,474.1 L119.4,473.1 L120.3,472.4 L122.4,471.4 L123.7,471.1 L124.9,471.1 L126.7,471.4 L128.2,472.4 L129.1,473.6 L129.3,474.4 L129.3,475.1 L128.8,476.6 L127.8,477.9 L126.2,478.9 L124.4,479.4 Z M124.2,478.9 L122.9,479.0 L121.9,478.9 L120.9,478.6 L120.1,478.1 L119.5,477.6 L119.0,476.9 L118.8,476.1 L118.9,475.4 L119.3,474.4 L119.8,473.6 L121.3,472.4 L122.4,471.9 L123.4,471.7 L125.4,471.7 L126.8,472.1 L127.9,473.0 L128.5,474.1 L128.6,475.4 L128.1,476.6 L127.2,477.7 L125.9,478.4 L124.2,478.9 Z M124.9,478.2 L123.4,478.4 L122.2,478.2 L120.9,477.7 L120.2,477.0 L119.7,476.1 L119.8,475.1 L120.3,474.1 L121.3,473.1 L122.9,472.4 L124.7,472.1 L126.2,472.5 L126.8,472.9 L127.4,473.5 L127.9,474.6 L127.9,475.4 L127.6,476.1 L127.2,476.8 L126.5,477.4 L124.9,478.2 Z M124.9,477.4 L123.9,477.6 L122.9,477.6 L121.9,477.3 L121.2,476.7 L120.8,476.1 L120.7,475.4 L120.9,474.6 L121.5,473.9 L122.7,473.1 L124.2,472.8 L125.4,473.0 L126.5,473.6 L127.0,474.6 L126.9,475.8 L126.2,476.8 L124.9,477.4 Z" fill="none" stroke="#262626" stroke-width="0.45" stroke-linejoin="round"/>
<path fill="#999" d="M113.3 501.3h0.6v0.6h-0.6zM141.9 486.8h0.6v0.6h-0.6zM136.0 490.5h0.6v0.6h-0.6zM116.9 453.6h0.6v0.6h-0.6zM112.7 503.5h0.6v0.6h-0.6zM113.1 505.9h0.6v0.6h-0.6zM154.1 495.0h0.6v0.6h-0.6zM72.7 480.1h0.6v0.6h-0.6zM109.3 500.8h0.6v0.6h-0.6zM97.5 501.5h0.6v0.6h-0.6zM81.0 497.3h0.6v0.6h-0.6z"/>
<line x1="94.8" y1="429.9" x2="94.8" y2="543.3" stroke="#222" stroke-width="0.9" />
<line x1="49.9" y1="483.3" x2="164.3" y2="483.3" stroke="#222" stroke-width="0.9" />
<rect x="49.9" y="429.9" width="114.4" height="113.4" stroke="#1a1a1a" stroke-width="1.2" fill="none"/>
<text transform="translate(106.8,426.6) scale(0.97,1)" font-size="10.01" text-anchor="middle" font-weight="normal" fill="#222" stroke="#222" stroke-width="0.12"  >HC + EV</text>
<text transform="translate(137.2,439.8) scale(0.9,1)" font-size="8.58" text-anchor="end" font-weight="normal" fill="#222" stroke="#222" stroke-width="0.12"  >6.88</text>
<text transform="translate(143.4,439.8) scale(0.9,1)" font-size="8.58" text-anchor="start" font-weight="normal" fill="#222" stroke="#222" stroke-width="0.12"  >59.4</text>
<text transform="translate(137.2,450.9) scale(0.9,1)" font-size="8.58" text-anchor="end" font-weight="normal" fill="#222" stroke="#222" stroke-width="0.12"  >11.0</text>
<text transform="translate(143.4,450.9) scale(0.9,1)" font-size="8.58" text-anchor="start" font-weight="normal" fill="#222" stroke="#222" stroke-width="0.12"  >22.8</text>
<line x1="140.2" y1="432" x2="140.2" y2="452.4" stroke="#222" stroke-width="0.8" />
<line x1="125.2" y1="442.1" x2="154.7" y2="442.1" stroke="#222" stroke-width="0.8" />
<path d="M221.0,524.2 L219.5,524.4 L218.0,524.3 L216.5,524.0 L215.0,523.4 L213.5,522.6 L212.0,521.5 L210.8,520.3 L209.5,518.8 L207.4,515.4 L206.4,513.1 L205.7,511.1 L205.0,508.6 L204.4,506.1 L203.9,501.4 L204.0,496.6 L204.6,491.6 L205.9,486.9 L207.6,482.9 L208.6,481.1 L209.9,479.4 L211.2,477.9 L212.5,476.7 L214.0,475.7 L215.5,475.0 L217.0,474.5 L218.5,474.3 L220.8,474.4 L222.8,475.0 L224.8,476.1 L226.8,477.8 L228.5,479.7 L230.1,482.1 L234.0,489.8 L235.2,491.7 L236.2,492.8 L237.2,493.5 L242.0,495.6 L244.2,497.1 L245.1,498.1 L245.9,499.4 L246.4,500.6 L246.7,502.1 L246.5,503.9 L246.0,505.4 L245.1,506.9 L244.0,508.0 L242.8,508.9 L241.5,509.5 L236.5,511.2 L234.8,512.1 L233.0,513.7 L228.9,518.9 L226.5,521.3 L225.2,522.3 L223.8,523.2 L222.5,523.8 L221.0,524.2 Z M220.8,518.4 L218.5,518.6 L216.2,518.0 L215.0,517.3 L214.0,516.6 L212.0,514.5 L210.3,511.9 L209.0,508.9 L208.1,505.4 L207.7,501.6 L207.7,497.9 L208.2,494.1 L209.1,490.6 L210.6,487.4 L212.3,484.9 L214.2,482.9 L215.2,482.3 L216.5,481.7 L217.8,481.3 L218.8,481.2 L220.0,481.2 L221.0,481.4 L222.2,481.8 L223.2,482.4 L225.2,484.0 L227.0,486.1 L228.6,488.9 L230.1,492.6 L231.1,496.4 L231.5,499.9 L231.5,502.9 L230.9,505.9 L229.9,508.9 L228.4,511.9 L226.8,514.3 L225.0,516.2 L223.0,517.6 L220.8,518.4 Z M220.5,516.2 L218.5,516.2 L216.5,515.6 L214.5,514.4 L212.9,512.6 L211.5,510.4 L210.3,507.6 L209.6,504.6 L209.2,501.4 L209.2,498.1 L209.7,494.9 L210.5,491.9 L211.8,489.1 L213.2,487.0 L215.0,485.4 L217.0,484.3 L219.0,483.9 L220.8,484.1 L222.8,484.9 L224.5,486.3 L226.1,488.1 L227.4,490.4 L228.6,493.4 L229.3,496.4 L229.7,499.4 L229.6,502.4 L229.2,505.1 L228.4,507.9 L227.2,510.4 L226.0,512.4 L224.2,514.2 L222.5,515.4 L220.5,516.2 Z M220.0,514.7 L218.2,514.6 L216.5,514.0 L214.8,512.8 L213.2,511.1 L212.1,509.1 L211.1,506.6 L210.5,503.9 L210.2,500.9 L210.3,498.1 L210.7,495.4 L211.4,492.9 L212.6,490.4 L214.0,488.4 L215.5,487.0 L217.2,486.0 L219.0,485.7 L220.8,485.9 L222.5,486.6 L224.0,487.8 L225.5,489.6 L226.7,491.6 L227.6,494.1 L228.3,496.9 L228.6,499.6 L228.5,502.1 L228.1,504.9 L227.4,507.4 L226.3,509.6 L225.0,511.6 L223.5,513.1 L221.8,514.2 L220.0,514.7 Z M220.2,513.4 L218.5,513.4 L217.0,513.0 L215.5,512.0 L214.0,510.4 L212.7,508.4 L211.8,506.1 L211.3,503.9 L211.0,501.1 L211.1,498.4 L211.4,495.9 L212.2,493.4 L213.1,491.4 L214.3,489.6 L215.8,488.3 L217.2,487.4 L219.0,487.0 L220.5,487.2 L222.0,487.8 L223.5,488.9 L224.8,490.4 L225.9,492.1 L226.8,494.4 L227.4,496.9 L227.7,499.4 L227.7,501.9 L227.4,504.4 L226.7,506.6 L225.8,508.6 L224.7,510.4 L223.2,511.9 L221.8,512.9 L220.2,513.4 Z M220.0,512.4 L218.5,512.4 L217.0,511.9 L215.8,511.1 L214.4,509.6 L213.3,507.9 L212.5,505.9 L211.9,503.6 L211.7,501.1 L211.7,498.6 L212.0,496.4 L212.7,494.1 L213.6,492.1 L214.8,490.5 L216.0,489.3 L217.5,488.5 L219.0,488.2 L220.5,488.3 L222.0,488.9 L223.2,489.9 L224.5,491.4 L225.5,493.1 L226.3,495.1 L226.8,497.4 L227.1,499.6 L227.0,501.9 L226.7,504.1 L226.1,506.1 L225.2,508.2 L224.2,509.7 L223.0,511.0 L221.5,512.0 L220.0,512.4 Z M220.5,511.4 L219.0,511.5 L217.5,511.2 L216.2,510.4 L215.0,509.2 L213.9,507.6 L213.2,505.9 L212.6,503.9 L212.3,501.6 L212.3,499.4 L212.5,497.1 L213.1,494.9 L213.9,493.1 L215.0,491.4 L216.2,490.2 L217.5,489.5 L219.0,489.1 L220.5,489.3 L221.8,489.8 L223.0,490.8 L224.0,491.9 L225.0,493.6 L225.7,495.4 L226.2,497.4 L226.5,499.4 L226.5,501.4 L226.2,503.4 L225.7,505.4 L225.0,507.1 L224.1,508.6 L223.0,510.0 L221.8,510.9 L220.5,511.4 Z M220.0,510.7 L218.5,510.7 L217.2,510.2 L216.0,509.3 L215.0,508.2 L214.1,506.6 L213.4,504.9 L213.0,502.9 L212.8,500.9 L212.8,498.9 L213.1,496.9 L213.7,495.1 L214.5,493.3 L215.5,491.9 L216.8,490.8 L218.0,490.2 L219.2,490.0 L220.5,490.2 L221.8,490.7 L222.9,491.6 L223.9,492.9 L224.7,494.4 L225.3,496.1 L225.7,497.9 L225.9,499.9 L225.9,501.9 L225.6,503.6 L225.1,505.4 L224.3,507.1 L223.5,508.4 L222.5,509.5 L221.2,510.3 L220.0,510.7 Z M220.0,509.9 L218.8,509.9 L217.5,509.5 L216.3,508.6 L215.4,507.6 L214.5,506.2 L213.9,504.6 L213.5,502.9 L213.3,500.9 L213.3,498.9 L213.6,497.1 L214.1,495.4 L214.9,493.9 L215.8,492.6 L216.8,491.6 L218.0,491.0 L219.2,490.8 L220.5,491.0 L221.5,491.5 L222.5,492.2 L223.5,493.4 L224.3,494.9 L224.9,496.4 L225.3,498.1 L225.4,499.9 L225.4,501.6 L225.2,503.4 L224.7,505.1 L224.0,506.6 L223.2,507.8 L222.2,508.8 L221.2,509.5 L220.0,509.9 Z M220.0,509.2 L218.8,509.2 L217.8,508.9 L216.8,508.2 L215.8,507.2 L214.9,505.9 L214.3,504.4 L213.9,502.6 L213.7,500.9 L213.8,499.1 L214.1,497.4 L214.5,495.9 L215.2,494.4 L216.0,493.3 L217.0,492.4 L218.0,491.8 L219.2,491.6 L220.2,491.7 L221.2,492.1 L222.2,492.9 L223.1,493.9 L223.8,495.1 L224.4,496.6 L224.8,498.1 L225.0,499.9 L224.9,501.6 L224.7,503.1 L224.3,504.6 L223.6,506.1 L222.8,507.4 L222.0,508.2 L221.0,508.9 L220.0,509.2 Z M220.2,508.4 L219.2,508.5 L218.2,508.4 L217.2,507.8 L216.2,506.9 L215.5,505.8 L214.8,504.4 L214.4,502.9 L214.2,501.4 L214.2,499.6 L214.4,498.1 L214.8,496.6 L215.4,495.1 L216.2,493.9 L217.0,493.2 L218.0,492.6 L219.0,492.3 L220.0,492.4 L221.0,492.8 L221.8,493.3 L222.6,494.1 L223.3,495.1 L223.8,496.4 L224.3,497.9 L224.5,499.4 L224.5,500.9 L224.4,502.4 L224.0,503.9 L223.5,505.3 L222.9,506.4 L222.0,507.4 L221.2,508.0 L220.2,508.4 Z M220.2,507.7 L219.2,507.9 L218.2,507.7 L217.3,507.1 L216.5,506.4 L215.8,505.4 L215.3,504.1 L214.9,502.9 L214.7,501.4 L214.6,499.9 L214.8,498.4 L215.2,496.9 L215.7,495.6 L216.5,494.5 L217.2,493.8 L218.0,493.3 L219.0,493.1 L220.0,493.1 L220.8,493.4 L221.5,493.9 L222.3,494.6 L222.9,495.6 L223.5,496.9 L224.0,499.4 L224.0,502.1 L223.2,504.6 L222.7,505.6 L222.0,506.6 L221.2,507.2 L220.2,507.7 Z M219.5,507.2 L218.5,507.0 L217.8,506.7 L217.0,506.1 L216.5,505.4 L215.9,504.4 L215.4,503.1 L215.1,500.6 L215.3,498.1 L215.7,496.9 L216.2,495.8 L216.8,495.1 L217.5,494.4 L218.2,494.0 L219.2,493.7 L220.2,493.9 L221.0,494.3 L221.8,494.9 L222.3,495.6 L222.9,496.6 L223.3,497.9 L223.6,500.4 L223.3,502.9 L222.5,505.0 L222.0,505.7 L221.2,506.5 L220.5,506.9 L219.5,507.2 Z M219.8,506.4 L219.0,506.4 L218.2,506.2 L217.5,505.7 L217.0,505.1 L216.0,503.3 L215.7,502.1 L215.5,500.9 L215.8,498.5 L216.5,496.5 L217.1,495.6 L217.8,495.0 L218.5,494.6 L219.2,494.5 L220.0,494.6 L220.8,494.9 L221.4,495.4 L222.0,496.1 L222.8,497.9 L223.2,500.1 L223.0,502.4 L222.2,504.4 L221.7,505.1 L221.0,505.9 L219.8,506.4 Z M219.8,505.7 L219.0,505.7 L218.5,505.6 L217.8,505.1 L217.2,504.6 L216.4,502.9 L216.0,500.9 L216.2,498.6 L216.9,496.9 L218.0,495.7 L218.5,495.4 L219.2,495.2 L220.0,495.3 L220.5,495.6 L221.6,496.6 L222.3,498.1 L222.7,500.1 L222.5,502.1 L221.9,503.9 L221.0,505.1 L220.5,505.4 L219.8,505.7 Z M219.5,504.9 L218.5,504.7 L217.5,503.8 L216.8,502.4 L216.5,500.6 L216.7,498.9 L217.2,497.5 L218.2,496.4 L219.2,496.0 L220.2,496.3 L221.2,497.2 L221.9,498.6 L222.2,500.4 L222.0,502.1 L221.5,503.4 L220.5,504.6 L219.5,504.9 Z M219.8,504.0 L218.8,503.9 L218.0,503.3 L217.4,502.1 L217.1,500.9 L217.2,499.4 L217.7,498.1 L218.2,497.4 L218.8,497.1 L219.2,497.0 L220.0,497.1 L220.8,497.7 L221.3,498.6 L221.6,500.1 L221.5,501.4 L221.2,502.6 L220.5,503.6 L219.8,504.0 Z M219.5,502.9 L219.0,502.8 L218.4,502.4 L218.0,501.6 L217.8,500.6 L217.9,499.6 L218.2,498.9 L218.8,498.3 L219.2,498.1 L219.8,498.2 L220.3,498.6 L220.7,499.4 L220.9,500.4 L220.8,501.4 L220.5,502.1 L220.0,502.7 L219.5,502.9 Z" fill="none" stroke="#2a2a2a" stroke-width="0.42" stroke-linejoin="round"/>
<path fill="#666" d="M236.0 483.1h0.55v0.55h-0.55zM236.1 521.5h0.55v0.55h-0.55zM261.8 494.6h0.55v0.55h-0.55zM275.7 522.2h0.55v0.55h-0.55zM256.0 502.5h0.55v0.55h-0.55zM252.4 507.7h0.55v0.55h-0.55zM254.1 514.7h0.55v0.55h-0.55zM240.3 518.8h0.55v0.55h-0.55zM249.9 496.2h0.55v0.55h-0.55zM233.4 485.2h0.55v0.55h-0.55zM266.2 488.6h0.55v0.55h-0.55zM248.6 517.4h0.55v0.55h-0.55zM231.5 475.8h0.55v0.55h-0.55zM204.3 510.4h0.55v0.55h-0.55zM240.9 518.3h0.55v0.55h-0.55zM199.9 534.4h0.55v0.55h-0.55zM262.4 498.7h0.55v0.55h-0.55zM259.9 494.7h0.55v0.55h-0.55zM194.2 467.5h0.55v0.55h-0.55zM248.2 467.3h0.55v0.55h-0.55zM215.5 525.3h0.55v0.55h-0.55zM219.4 524.5h0.55v0.55h-0.55zM241.5 512.1h0.55v0.55h-0.55zM204.4 509.7h0.55v0.55h-0.55zM260.3 500.3h0.55v0.55h-0.55zM264.3 506.7h0.55v0.55h-0.55zM262.0 510.4h0.55v0.55h-0.55zM223.3 475.2h0.55v0.55h-0.55zM245.6 513.6h0.55v0.55h-0.55zM282.7 504.3h0.55v0.55h-0.55zM232.8 517.1h0.55v0.55h-0.55zM249.6 519.0h0.55v0.55h-0.55zM262.8 506.5h0.55v0.55h-0.55zM245.0 514.4h0.55v0.55h-0.55zM238.1 472.7h0.55v0.55h-0.55zM252.7 494.6h0.55v0.55h-0.55zM221.7 530.1h0.55v0.55h-0.55zM219.7 529.9h0.55v0.55h-0.55zM250.9 509.8h0.55v0.55h-0.55zM262.8 494.9h0.55v0.55h-0.55zM271.5 490.3h0.55v0.55h-0.55zM246.0 511.5h0.55v0.55h-0.55zM253.8 515.1h0.55v0.55h-0.55zM269.5 500.7h0.55v0.55h-0.55zM200.2 484.3h0.55v0.55h-0.55zM207.4 517.2h0.55v0.55h-0.55zM246.7 504.5h0.55v0.55h-0.55zM210.1 522.8h0.55v0.55h-0.55zM229.0 521.9h0.55v0.55h-0.55zM235.1 515.5h0.55v0.55h-0.55zM229.2 537.3h0.55v0.55h-0.55zM207.3 516.8h0.55v0.55h-0.55zM217.0 536.8h0.55v0.55h-0.55zM247.2 504.0h0.55v0.55h-0.55zM245.6 516.7h0.55v0.55h-0.55zM227.3 521.9h0.55v0.55h-0.55zM229.0 457.3h0.55v0.55h-0.55zM244.8 497.6h0.55v0.55h-0.55zM251.5 502.4h0.55v0.55h-0.55zM256.4 500.2h0.55v0.55h-0.55zM239.8 510.0h0.55v0.55h-0.55zM224.2 523.2h0.55v0.55h-0.55zM243.7 492.5h0.55v0.55h-0.55zM251.2 511.5h0.55v0.55h-0.55zM202.7 496.1h0.55v0.55h-0.55zM232.4 486.4h0.55v0.55h-0.55zM242.8 491.0h0.55v0.55h-0.55zM251.0 513.3h0.55v0.55h-0.55zM260.4 488.7h0.55v0.55h-0.55zM259.6 490.1h0.55v0.55h-0.55zM203.8 524.3h0.55v0.55h-0.55zM261.9 494.9h0.55v0.55h-0.55zM225.4 463.0h0.55v0.55h-0.55zM247.5 508.9h0.55v0.55h-0.55zM255.0 503.5h0.55v0.55h-0.55zM241.6 495.3h0.55v0.55h-0.55zM247.6 504.2h0.55v0.55h-0.55zM262.4 504.1h0.55v0.55h-0.55zM208.0 476.4h0.55v0.55h-0.55zM248.3 496.0h0.55v0.55h-0.55zM265.3 495.7h0.55v0.55h-0.55zM258.0 487.4h0.55v0.55h-0.55zM246.4 528.2h0.55v0.55h-0.55zM254.1 495.0h0.55v0.55h-0.55zM263.9 511.4h0.55v0.55h-0.55zM260.0 494.4h0.55v0.55h-0.55zM247.1 494.1h0.55v0.55h-0.55zM201.4 513.8h0.55v0.55h-0.55zM209.9 479.6h0.55v0.55h-0.55zM259.6 497.8h0.55v0.55h-0.55zM230.5 460.3h0.55v0.55h-0.55zM267.1 508.5h0.55v0.55h-0.55zM208.2 518.2h0.55v0.55h-0.55zM247.1 515.3h0.55v0.55h-0.55zM282.5 501.8h0.55v0.55h-0.55zM219.4 526.5h0.55v0.55h-0.55zM230.6 528.2h0.55v0.55h-0.55zM209.9 470.8h0.55v0.55h-0.55zM228.6 479.5h0.55v0.55h-0.55zM260.1 482.1h0.55v0.55h-0.55zM224.0 475.7h0.55v0.55h-0.55zM241.5 510.7h0.55v0.55h-0.55zM259.9 504.8h0.55v0.55h-0.55zM233.9 481.1h0.55v0.55h-0.55zM253.7 507.6h0.55v0.55h-0.55zM254.9 491.9h0.55v0.55h-0.55zM228.1 470.3h0.55v0.55h-0.55zM203.1 471.4h0.55v0.55h-0.55zM251.3 490.2h0.55v0.55h-0.55zM248.2 504.8h0.55v0.55h-0.55zM264.2 521.9h0.55v0.55h-0.55zM243.9 520.8h0.55v0.55h-0.55zM230.1 479.7h0.55v0.55h-0.55zM248.7 492.3h0.55v0.55h-0.55zM238.8 493.6h0.55v0.55h-0.55zM243.5 482.2h0.55v0.55h-0.55zM254.5 509.1h0.55v0.55h-0.55zM228.0 471.3h0.55v0.55h-0.55zM253.4 503.1h0.55v0.55h-0.55zM224.6 475.1h0.55v0.55h-0.55zM228.7 521.9h0.55v0.55h-0.55zM215.0 534.0h0.55v0.55h-0.55zM246.0 514.3h0.55v0.55h-0.55zM203.9 516.0h0.55v0.55h-0.55zM245.0 511.8h0.55v0.55h-0.55zM217.1 471.5h0.55v0.55h-0.55zM263.2 505.9h0.55v0.55h-0.55zM201.7 510.6h0.55v0.55h-0.55zM239.2 491.3h0.55v0.55h-0.55zM234.5 468.5h0.55v0.55h-0.55zM241.8 488.3h0.55v0.55h-0.55zM259.2 502.4h0.55v0.55h-0.55zM244.9 475.0h0.55v0.55h-0.55zM260.4 504.4h0.55v0.55h-0.55zM234.8 484.2h0.55v0.55h-0.55zM247.5 497.3h0.55v0.55h-0.55zM262.6 505.8h0.55v0.55h-0.55zM245.3 496.5h0.55v0.55h-0.55zM259.3 501.4h0.55v0.55h-0.55zM252.3 490.4h0.55v0.55h-0.55zM272.3 514.0h0.55v0.55h-0.55zM203.8 476.6h0.55v0.55h-0.55zM211.3 522.2h0.55v0.55h-0.55zM254.1 494.6h0.55v0.55h-0.55zM221.9 529.8h0.55v0.55h-0.55zM244.9 496.4h0.55v0.55h-0.55zM265.8 505.4h0.55v0.55h-0.55zM229.5 521.7h0.55v0.55h-0.55zM254.6 516.1h0.55v0.55h-0.55zM234.0 525.4h0.55v0.55h-0.55zM268.8 503.7h0.55v0.55h-0.55zM253.3 508.0h0.55v0.55h-0.55zM258.2 523.6h0.55v0.55h-0.55z"/>
<line x1="232.4" y1="429.9" x2="232.4" y2="543.5" stroke="#222" stroke-width="0.9" />
<line x1="188" y1="483.3" x2="302.2" y2="483.3" stroke="#222" stroke-width="0.9" />
<rect x="188" y="429.9" width="114.2" height="113.6" stroke="#1a1a1a" stroke-width="1.2" fill="none"/>
<text transform="translate(244,426.6) scale(0.98,1)" font-size="10.01" text-anchor="middle" font-weight="normal" fill="#222" stroke="#222" stroke-width="0.12"  >II-1 + EV</text>
<text transform="translate(274,439.8) scale(0.9,1)" font-size="8.58" text-anchor="end" font-weight="normal" fill="#222" stroke="#222" stroke-width="0.12"  >3.96</text>
<text transform="translate(280.2,439.8) scale(0.9,1)" font-size="8.58" text-anchor="start" font-weight="normal" fill="#222" stroke="#222" stroke-width="0.12"  >0.63</text>
<text transform="translate(274,450.9) scale(0.9,1)" font-size="8.58" text-anchor="end" font-weight="normal" fill="#222" stroke="#222" stroke-width="0.12"  >84.1</text>
<text transform="translate(280.2,450.9) scale(0.9,1)" font-size="8.58" text-anchor="start" font-weight="normal" fill="#222" stroke="#222" stroke-width="0.12"  >11.3</text>
<line x1="277" y1="432" x2="277" y2="452.4" stroke="#222" stroke-width="0.8" />
<line x1="262" y1="442.1" x2="291.5" y2="442.1" stroke="#222" stroke-width="0.8" />
<path d="M356.9,514.2 L354.9,514.3 L352.9,513.9 L351.2,513.1 L349.7,511.9 L347.2,509.0 L344.8,505.6 L343.5,503.1 L342.7,500.4 L341.8,495.1 L341.5,491.1 L341.6,488.6 L342.3,480.4 L342.9,478.1 L343.7,476.3 L345.2,474.0 L347.2,471.5 L349.4,469.4 L353.1,466.9 L357.2,463.7 L359.7,462.2 L362.4,460.8 L364.9,459.8 L368.7,458.7 L371.9,458.0 L380.9,457.3 L382.7,457.3 L384.4,457.5 L386.7,458.0 L392.2,460.0 L393.9,460.3 L397.7,460.8 L399.2,461.1 L400.9,461.9 L402.4,462.9 L404.0,464.6 L405.9,467.4 L407.2,469.9 L407.8,471.9 L408.0,474.4 L407.7,476.6 L407.0,478.4 L405.7,480.1 L396.9,488.4 L391.4,492.9 L386.4,498.0 L382.1,501.9 L380.4,503.2 L378.7,504.2 L376.9,505.1 L371.7,506.8 L369.9,507.5 L360.2,513.0 L358.4,513.8 L356.9,514.2 Z M357.4,513.7 L355.4,513.9 L353.4,513.6 L351.7,512.9 L350.2,511.8 L347.7,509.1 L345.1,505.6 L343.8,503.1 L343.0,500.6 L342.1,495.1 L341.7,491.1 L341.8,488.6 L342.5,480.6 L343.0,478.6 L343.8,476.6 L345.2,474.5 L347.2,472.0 L349.4,469.9 L353.2,467.3 L357.2,464.1 L359.4,462.7 L362.4,461.2 L364.9,460.2 L368.9,459.0 L372.2,458.3 L380.7,457.6 L382.4,457.6 L384.2,457.8 L386.4,458.3 L392.2,460.3 L397.4,461.0 L398.9,461.4 L400.7,462.1 L402.2,463.2 L403.8,464.9 L405.6,467.6 L406.8,470.1 L407.3,472.1 L407.5,474.4 L407.2,476.6 L406.5,478.4 L405.2,480.1 L398.4,486.6 L395.9,488.8 L391.4,492.3 L386.4,497.3 L381.7,501.6 L379.9,503.0 L378.4,504.0 L376.7,504.8 L371.7,506.4 L369.7,507.2 L360.9,512.3 L358.9,513.2 L357.4,513.7 Z M357.4,512.7 L355.4,512.8 L353.7,512.5 L351.9,511.7 L350.4,510.6 L347.7,507.8 L345.7,505.3 L344.4,502.9 L343.6,500.4 L342.6,494.9 L342.2,491.1 L342.3,488.6 L343.0,481.1 L343.5,478.9 L344.3,477.1 L345.4,475.4 L347.4,473.0 L349.9,470.6 L353.7,468.0 L357.4,464.9 L359.4,463.7 L362.2,462.3 L365.2,461.0 L369.2,459.7 L372.2,459.0 L374.7,458.7 L380.4,458.4 L382.4,458.3 L384.2,458.5 L386.4,459.1 L391.7,460.9 L393.4,461.3 L397.2,461.7 L398.7,462.1 L400.2,462.7 L401.7,463.8 L403.2,465.5 L404.7,467.9 L405.8,470.4 L406.3,472.6 L406.4,474.9 L406.1,476.9 L405.3,478.6 L403.9,480.4 L401.2,483.1 L397.9,486.1 L390.9,491.4 L385.9,496.3 L380.4,501.4 L378.9,502.6 L377.4,503.5 L375.9,504.2 L371.3,505.6 L369.7,506.3 L361.7,511.1 L359.4,512.1 L357.4,512.7 Z M358.4,511.2 L356.4,511.3 L354.7,511.1 L352.9,510.4 L351.2,509.3 L348.7,507.2 L346.8,505.1 L345.5,503.1 L344.6,500.9 L343.8,497.4 L343.0,491.4 L343.0,488.6 L343.6,482.6 L343.9,480.4 L344.6,478.4 L345.7,476.6 L347.2,474.8 L350.4,471.7 L354.3,468.9 L357.7,466.1 L359.4,464.9 L362.2,463.5 L365.7,462.0 L369.7,460.6 L372.2,459.9 L374.7,459.6 L379.4,459.4 L381.7,459.3 L383.7,459.5 L385.9,460.1 L391.4,461.9 L397.9,462.9 L399.4,463.5 L400.9,464.6 L402.5,466.4 L403.8,468.6 L404.6,470.9 L405.1,473.4 L405.0,475.4 L404.4,477.4 L403.5,479.1 L401.8,481.1 L399.7,483.3 L397.4,485.2 L391.9,488.9 L390.2,490.2 L385.2,495.1 L379.3,500.6 L377.7,502.0 L375.2,503.3 L370.9,504.6 L369.4,505.2 L367.9,506.0 L364.7,508.3 L362.7,509.5 L360.4,510.6 L358.4,511.2 Z M358.9,509.7 L357.2,509.8 L355.2,509.4 L353.2,508.5 L350.9,507.2 L348.9,505.6 L347.4,504.1 L346.3,502.4 L345.6,500.6 L344.9,497.9 L344.1,493.1 L343.9,490.6 L343.9,488.1 L344.5,482.6 L344.9,480.4 L345.9,478.1 L347.5,476.1 L351.2,472.7 L359.7,466.3 L362.2,465.0 L367.7,462.5 L370.4,461.5 L372.7,460.9 L374.9,460.6 L378.2,460.5 L380.9,460.5 L383.2,460.8 L385.4,461.3 L390.7,463.0 L395.9,463.8 L397.4,464.1 L398.9,464.7 L400.2,465.6 L401.7,467.4 L402.7,469.4 L403.5,471.6 L403.7,473.9 L403.4,475.9 L402.8,477.6 L401.6,479.6 L399.9,481.6 L398.4,483.0 L396.7,484.4 L391.2,487.6 L389.4,488.9 L378.6,499.4 L376.7,501.0 L374.4,502.2 L370.4,503.4 L368.9,504.0 L367.4,504.9 L364.4,507.2 L362.7,508.3 L360.7,509.2 L358.9,509.7 Z M359.4,508.2 L357.7,508.2 L355.9,507.8 L353.7,506.8 L351.2,505.4 L349.4,504.2 L348.2,502.9 L347.2,501.4 L346.5,499.9 L345.8,497.4 L345.1,493.1 L344.9,490.6 L344.9,488.1 L345.4,482.9 L345.9,480.9 L346.8,478.9 L348.4,476.9 L352.2,473.5 L360.2,467.8 L368.9,463.3 L370.9,462.5 L372.9,461.9 L374.9,461.7 L377.2,461.6 L379.9,461.7 L382.2,462.0 L384.2,462.5 L389.9,464.2 L396.7,465.3 L398.2,465.9 L399.5,466.9 L400.8,468.4 L401.7,470.1 L402.1,471.9 L402.3,473.9 L402.0,475.6 L401.3,477.6 L400.2,479.4 L398.8,481.1 L397.4,482.3 L395.9,483.4 L390.7,486.1 L388.2,487.8 L377.7,498.2 L375.7,499.9 L373.7,500.9 L369.9,502.1 L368.4,502.7 L366.9,503.6 L363.9,506.1 L362.7,506.9 L360.9,507.8 L359.4,508.2 Z M360.4,506.4 L358.9,506.6 L357.2,506.4 L355.2,505.6 L352.2,504.1 L350.4,502.9 L349.2,501.8 L348.2,500.4 L347.5,498.9 L346.8,496.4 L346.2,492.9 L346.0,490.4 L346.1,487.9 L346.5,483.4 L346.9,481.4 L347.9,479.4 L349.4,477.6 L353.2,474.4 L360.9,469.2 L369.4,464.3 L371.4,463.5 L373.2,463.0 L374.9,462.8 L376.7,462.7 L380.4,463.1 L389.2,465.6 L395.9,466.6 L397.4,467.2 L398.8,468.1 L399.8,469.4 L400.4,470.8 L400.8,472.4 L400.9,473.9 L400.6,475.6 L399.9,477.4 L398.9,479.0 L397.7,480.5 L396.7,481.3 L395.4,482.2 L389.9,484.9 L387.2,486.6 L385.5,488.1 L382.2,491.6 L376.7,497.0 L374.9,498.5 L372.9,499.6 L369.2,500.9 L367.5,501.6 L365.9,502.7 L362.7,505.3 L361.4,506.1 L360.4,506.4 Z M360.4,504.7 L358.9,504.9 L357.4,504.6 L355.4,503.7 L352.4,502.0 L350.9,500.9 L350.0,499.9 L349.1,498.6 L348.5,497.1 L347.7,494.4 L347.3,491.4 L347.3,489.1 L347.8,483.9 L348.1,482.1 L348.5,480.9 L349.3,479.6 L350.5,478.4 L353.9,475.7 L359.2,472.5 L364.9,468.8 L369.2,465.8 L371.4,464.7 L373.4,464.1 L376.2,463.9 L379.2,464.3 L388.7,467.0 L395.2,468.0 L396.7,468.6 L397.9,469.6 L398.7,470.6 L399.2,471.8 L399.4,473.1 L399.3,474.4 L399.0,475.9 L398.4,477.1 L397.7,478.4 L396.6,479.6 L394.7,481.0 L388.9,483.8 L385.6,485.9 L383.7,487.6 L375.6,495.9 L373.8,497.4 L372.2,498.3 L368.7,499.7 L366.9,500.5 L365.4,501.4 L362.2,503.9 L360.4,504.7 Z M360.4,502.7 L359.2,502.8 L357.7,502.4 L356.2,501.6 L353.8,500.1 L352.2,498.9 L351.2,497.9 L350.3,496.6 L349.7,495.3 L349.1,493.4 L348.9,491.1 L349.4,483.9 L349.6,482.6 L350.1,481.4 L350.8,480.4 L351.7,479.5 L354.2,477.7 L358.2,475.8 L359.7,474.9 L370.2,466.6 L371.9,465.7 L373.7,465.2 L375.9,465.1 L378.7,465.5 L388.7,468.5 L394.4,469.7 L395.7,470.3 L396.7,471.1 L397.2,471.9 L397.6,472.9 L397.6,473.9 L397.5,474.9 L397.2,475.9 L396.7,477.0 L396.1,477.9 L395.2,478.8 L393.4,480.0 L386.6,483.4 L383.5,485.4 L381.7,487.0 L374.4,494.9 L372.4,496.6 L370.7,497.5 L366.5,499.4 L362.2,502.0 L360.4,502.7 Z M361.4,500.4 L360.2,500.6 L359.2,500.5 L358.2,500.1 L356.9,499.4 L355.2,497.9 L353.7,496.4 L352.5,494.9 L351.9,493.6 L351.4,492.1 L351.2,490.6 L351.5,485.1 L351.7,483.9 L352.1,482.9 L352.5,482.1 L353.2,481.4 L354.4,480.6 L358.4,478.6 L360.7,477.2 L362.0,476.1 L365.1,472.9 L369.7,468.6 L371.7,467.2 L373.7,466.5 L374.9,466.3 L376.2,466.4 L379.2,467.0 L385.2,468.9 L392.2,471.4 L393.4,472.0 L394.4,472.8 L395.0,473.9 L395.1,474.6 L395.0,475.4 L394.4,476.6 L393.3,477.9 L390.6,479.6 L383.3,483.4 L381.4,484.7 L379.9,486.1 L373.5,493.9 L371.4,495.7 L369.2,497.0 L363.2,499.8 L361.4,500.4 Z M362.4,498.7 L361.2,498.8 L360.2,498.7 L359.2,498.4 L358.2,497.8 L357.1,496.9 L356.0,495.6 L355.2,494.4 L354.6,492.9 L354.1,491.4 L353.9,489.6 L353.9,487.9 L354.1,486.1 L354.4,484.9 L354.9,483.9 L355.6,482.9 L356.5,481.9 L358.4,480.5 L362.1,478.4 L363.6,477.4 L364.7,476.3 L367.7,472.6 L370.0,470.1 L371.9,468.6 L373.7,467.9 L375.2,467.7 L376.9,467.8 L378.9,468.3 L382.9,469.6 L385.2,470.4 L387.3,471.4 L389.4,472.6 L390.6,473.6 L391.1,474.4 L391.4,475.4 L391.2,476.1 L390.5,477.1 L389.4,478.1 L388.2,479.0 L381.9,482.2 L380.7,482.9 L379.5,483.9 L377.9,485.6 L373.1,492.4 L371.2,494.5 L369.7,495.6 L367.9,496.6 L364.7,498.0 L362.4,498.7 Z M362.9,497.4 L361.7,497.5 L360.7,497.3 L359.7,496.9 L358.9,496.5 L358.0,495.6 L357.2,494.6 L356.1,492.4 L355.5,489.6 L355.5,486.9 L355.8,485.6 L356.1,484.6 L356.7,483.6 L357.5,482.6 L358.7,481.6 L359.9,480.8 L364.7,478.6 L365.9,477.9 L366.9,476.9 L368.9,473.9 L370.5,471.9 L372.2,470.4 L373.9,469.5 L375.2,469.3 L376.4,469.3 L377.9,469.5 L379.9,470.0 L382.0,470.6 L383.7,471.4 L385.0,472.1 L386.3,473.1 L387.2,474.1 L387.6,475.1 L387.5,476.1 L386.8,477.1 L385.2,478.4 L379.9,481.4 L377.7,483.2 L376.2,485.1 L372.4,491.6 L371.2,493.1 L370.2,494.2 L368.7,495.3 L366.9,496.2 L364.7,497.0 L362.9,497.4 Z M363.4,496.4 L361.4,496.4 L360.4,496.0 L359.7,495.6 L358.2,494.1 L357.1,492.1 L356.5,489.9 L356.4,487.4 L356.6,486.1 L357.0,485.1 L358.1,483.4 L359.4,482.1 L361.4,481.0 L363.4,480.2 L367.0,479.4 L368.2,478.8 L369.0,477.9 L370.2,475.4 L371.2,473.9 L372.7,472.4 L374.3,471.4 L375.9,470.9 L378.2,471.0 L380.7,471.7 L382.8,472.9 L383.5,473.6 L384.0,474.6 L384.1,475.4 L383.7,476.4 L382.2,477.9 L377.2,481.4 L375.3,483.1 L374.4,484.6 L373.1,488.1 L372.4,489.9 L371.5,491.4 L370.6,492.6 L369.3,493.9 L367.7,495.0 L365.4,496.0 L363.4,496.4 Z M363.2,495.7 L361.4,495.4 L359.9,494.6 L358.8,493.4 L357.8,491.6 L357.3,489.6 L357.2,487.4 L357.6,485.6 L358.6,483.9 L359.6,482.9 L360.7,482.1 L361.9,481.5 L363.4,481.1 L365.7,480.8 L370.2,481.0 L371.7,480.9 L371.9,480.7 L372.0,480.4 L372.1,478.1 L372.4,476.6 L372.9,475.4 L374.0,474.1 L375.4,473.2 L376.9,472.8 L378.7,473.0 L380.1,473.6 L380.7,474.4 L380.9,475.1 L380.7,476.1 L379.9,477.1 L378.7,478.1 L376.9,479.3 L375.2,480.1 L372.7,481.1 L372.4,481.3 L372.4,481.9 L372.5,485.4 L372.3,487.4 L371.4,489.9 L370.2,492.0 L368.9,493.4 L367.2,494.5 L365.2,495.3 L363.2,495.7 Z M363.9,494.9 L362.4,494.9 L361.2,494.5 L360.0,493.6 L359.1,492.6 L358.3,491.1 L357.9,489.6 L357.8,487.9 L358.0,486.4 L358.5,485.1 L359.4,483.9 L360.4,483.0 L361.7,482.3 L363.2,481.8 L364.7,481.6 L366.2,481.7 L367.7,482.0 L368.8,482.4 L369.7,483.0 L370.4,483.6 L370.9,484.4 L371.2,485.4 L371.3,486.4 L371.3,487.6 L371.0,488.9 L370.0,491.1 L368.4,492.9 L366.4,494.2 L365.2,494.7 L363.9,494.9 Z M364.7,494.2 L363.4,494.3 L362.2,494.1 L361.2,493.7 L360.2,492.9 L359.4,491.9 L358.8,490.6 L358.5,489.4 L358.4,488.1 L358.5,486.9 L358.8,485.9 L359.4,484.9 L360.2,483.9 L361.2,483.2 L362.2,482.7 L363.4,482.4 L364.7,482.3 L365.7,482.4 L366.9,482.7 L368.1,483.1 L368.9,483.8 L369.6,484.4 L370.0,485.1 L370.4,486.1 L370.5,487.1 L370.4,488.4 L370.1,489.4 L369.5,490.6 L368.9,491.6 L367.9,492.6 L366.9,493.3 L365.9,493.8 L364.7,494.2 Z M363.9,493.7 L362.9,493.6 L361.9,493.3 L360.9,492.7 L360.2,491.9 L359.6,490.9 L359.2,489.9 L359.0,488.6 L359.0,487.4 L359.2,486.4 L359.7,485.4 L360.3,484.6 L361.1,483.9 L361.9,483.4 L362.9,483.1 L363.9,482.9 L365.2,482.9 L366.2,483.2 L367.2,483.5 L367.9,484.0 L368.7,484.7 L369.5,486.1 L369.7,487.1 L369.7,488.1 L369.5,489.1 L369.1,490.1 L368.5,491.1 L367.8,491.9 L366.9,492.6 L365.9,493.2 L364.9,493.5 L363.9,493.7 Z M364.9,492.9 L363.2,493.0 L362.2,492.7 L361.4,492.3 L360.7,491.6 L360.2,490.9 L359.6,489.1 L359.5,488.1 L359.6,487.1 L359.9,486.1 L360.4,485.4 L360.9,484.7 L361.7,484.2 L362.4,483.8 L363.4,483.5 L364.4,483.5 L365.4,483.6 L367.2,484.3 L367.9,484.9 L368.4,485.6 L368.8,486.4 L369.0,487.1 L368.9,488.9 L368.2,490.6 L367.5,491.4 L366.7,492.1 L364.9,492.9 Z M364.4,492.4 L362.9,492.3 L362.2,492.1 L361.4,491.5 L360.5,490.1 L360.0,488.4 L360.1,487.4 L360.3,486.6 L361.1,485.4 L361.7,484.8 L362.4,484.4 L363.9,484.1 L365.4,484.2 L366.9,485.0 L368.0,486.1 L368.4,487.6 L368.2,489.1 L367.4,490.6 L366.2,491.8 L365.4,492.1 L364.4,492.4 Z M364.9,491.7 L363.4,491.8 L362.3,491.4 L361.3,490.4 L360.7,489.1 L360.6,487.6 L361.1,486.4 L361.9,485.4 L363.2,484.8 L364.7,484.7 L365.9,485.1 L367.0,485.9 L367.6,487.1 L367.7,488.6 L367.2,489.9 L366.2,491.0 L364.9,491.7 Z M364.2,491.2 L363.2,491.1 L362.2,490.5 L361.6,489.6 L361.2,488.4 L361.4,487.1 L361.9,486.2 L362.9,485.5 L363.9,485.3 L364.9,485.4 L366.0,485.9 L366.7,486.7 L367.1,487.9 L366.9,489.1 L366.2,490.1 L365.2,490.9 L364.2,491.2 Z M364.9,490.2 L364.2,490.4 L363.4,490.3 L362.7,489.9 L362.1,489.1 L361.9,488.4 L362.1,487.4 L362.5,486.6 L363.2,486.2 L363.9,486.0 L364.9,486.2 L365.6,486.6 L366.1,487.4 L366.3,488.1 L366.1,488.9 L365.7,489.6 L364.9,490.2 Z" fill="none" stroke="#3a3a3a" stroke-width="0.4" stroke-linejoin="round"/>
<path fill="#999" d="M351.3 467.5h0.6v0.6h-0.6zM364.4 457.3h0.6v0.6h-0.6zM390.4 443.7h0.6v0.6h-0.6zM340.6 468.6h0.6v0.6h-0.6zM343.8 503.0h0.6v0.6h-0.6zM398.3 460.0h0.6v0.6h-0.6zM406.1 487.8h0.6v0.6h-0.6zM368.9 511.0h0.6v0.6h-0.6zM367.1 515.8h0.6v0.6h-0.6zM354.4 461.0h0.6v0.6h-0.6zM430.6 485.0h0.6v0.6h-0.6zM415.8 451.4h0.6v0.6h-0.6zM348.8 512.3h0.6v0.6h-0.6zM329.5 441.3h0.6v0.6h-0.6zM413.2 464.4h0.6v0.6h-0.6zM354.5 445.9h0.6v0.6h-0.6z"/>
<line x1="370.5" y1="429.9" x2="370.5" y2="543.5" stroke="#222" stroke-width="0.9" />
<line x1="326.2" y1="483.3" x2="440" y2="483.3" stroke="#222" stroke-width="0.9" />
<rect x="326.2" y="429.9" width="113.8" height="113.6" stroke="#1a1a1a" stroke-width="1.2" fill="none"/>
<text transform="translate(382.2,426.6) scale(0.93,1)" font-size="10.01" text-anchor="middle" font-weight="normal" fill="#222" stroke="#222" stroke-width="0.12"  >II-1 + WT <tspan font-style="italic">NFATC2</tspan></text>
<text transform="translate(412.2,439.8) scale(0.9,1)" font-size="8.58" text-anchor="end" font-weight="normal" fill="#222" stroke="#222" stroke-width="0.12"  >16.7</text>
<text transform="translate(418.4,439.8) scale(0.9,1)" font-size="8.58" text-anchor="start" font-weight="normal" fill="#222" stroke="#222" stroke-width="0.12"  >32.7</text>
<text transform="translate(412.2,450.9) scale(0.9,1)" font-size="8.58" text-anchor="end" font-weight="normal" fill="#222" stroke="#222" stroke-width="0.12"  >31.8</text>
<text transform="translate(418.4,450.9) scale(0.9,1)" font-size="8.58" text-anchor="start" font-weight="normal" fill="#222" stroke="#222" stroke-width="0.12"  >18.8</text>
<line x1="415.2" y1="432" x2="415.2" y2="452.4" stroke="#222" stroke-width="0.8" />
<line x1="400.2" y1="442.1" x2="429.7" y2="442.1" stroke="#222" stroke-width="0.8" />
<line x1="47.9" y1="440.6" x2="49.9" y2="440.6" stroke="#333" stroke-width="0.6" />
<line x1="47.9" y1="467.5" x2="49.9" y2="467.5" stroke="#333" stroke-width="0.6" />
<line x1="47.9" y1="498.7" x2="49.9" y2="498.7" stroke="#333" stroke-width="0.6" />
<line x1="47.9" y1="509" x2="49.9" y2="509" stroke="#333" stroke-width="0.6" />
<line x1="47.9" y1="512" x2="49.9" y2="512" stroke="#333" stroke-width="0.6" />
<line x1="47.9" y1="514.5" x2="49.9" y2="514.5" stroke="#333" stroke-width="0.6" />
<line x1="47.9" y1="520.5" x2="49.9" y2="520.5" stroke="#333" stroke-width="0.6" />
<line x1="47.9" y1="531.6" x2="49.9" y2="531.6" stroke="#333" stroke-width="0.6" />
<rect x="47.7" y="516.5" width="1.6" height="2.4" fill="#222"/>
<path d="M56.5,543.8v2.0M58.7,543.8v2.0M60.9,543.8v2.0M63.1,543.8v2.0M65.3,543.8v2.0M67.9,543.8v2.0M74.5,543.8v2.0M78.4,543.8v2.0M81.1,543.8v2.0M83.3,543.8v2.0M85.0,543.8v2.0M86.5,543.8v2.0M87.8,543.8v2.0M88.9,543.8v2.0M89.9,543.8v2.0M96.5,543.8v2.0M100.4,543.8v2.0M103.1,543.8v2.0M105.3,543.8v2.0M107.0,543.8v2.0M108.5,543.8v2.0M109.8,543.8v2.0M110.9,543.8v2.0M111.9,543.8v2.0M118.5,543.8v2.0M122.4,543.8v2.0M125.1,543.8v2.0M127.3,543.8v2.0M129.0,543.8v2.0M130.5,543.8v2.0M131.8,543.8v2.0M132.9,543.8v2.0M133.9,543.8v2.0M140.5,543.8v2.0M144.4,543.8v2.0M147.1,543.8v2.0M149.3,543.8v2.0M151.0,543.8v2.0M152.5,543.8v2.0M153.8,543.8v2.0M154.9,543.8v2.0M155.9,543.8v2.0" stroke="#2a2a2a" stroke-width="0.7" fill="none"/>
<rect x="72.7" y="543.7" width="2.4" height="1.6" fill="#222"/>
<line x1="186" y1="440.6" x2="188" y2="440.6" stroke="#333" stroke-width="0.6" />
<line x1="186" y1="467.5" x2="188" y2="467.5" stroke="#333" stroke-width="0.6" />
<line x1="186" y1="498.7" x2="188" y2="498.7" stroke="#333" stroke-width="0.6" />
<line x1="186" y1="509" x2="188" y2="509" stroke="#333" stroke-width="0.6" />
<line x1="186" y1="512" x2="188" y2="512" stroke="#333" stroke-width="0.6" />
<line x1="186" y1="514.5" x2="188" y2="514.5" stroke="#333" stroke-width="0.6" />
<line x1="186" y1="520.5" x2="188" y2="520.5" stroke="#333" stroke-width="0.6" />
<line x1="186" y1="531.6" x2="188" y2="531.6" stroke="#333" stroke-width="0.6" />
<rect x="185.8" y="516.5" width="1.6" height="2.4" fill="#222"/>
<path d="M194.6,544.0v2.0M196.8,544.0v2.0M199.0,544.0v2.0M201.2,544.0v2.0M203.4,544.0v2.0M206.0,544.0v2.0M212.6,544.0v2.0M216.5,544.0v2.0M219.2,544.0v2.0M221.4,544.0v2.0M223.1,544.0v2.0M224.6,544.0v2.0M225.9,544.0v2.0M227.0,544.0v2.0M228.0,544.0v2.0M234.6,544.0v2.0M238.5,544.0v2.0M241.2,544.0v2.0M243.4,544.0v2.0M245.1,544.0v2.0M246.6,544.0v2.0M247.9,544.0v2.0M249.0,544.0v2.0M250.0,544.0v2.0M256.6,544.0v2.0M260.5,544.0v2.0M263.2,544.0v2.0M265.4,544.0v2.0M267.1,544.0v2.0M268.6,544.0v2.0M269.9,544.0v2.0M271.0,544.0v2.0M272.0,544.0v2.0M278.6,544.0v2.0M282.5,544.0v2.0M285.2,544.0v2.0M287.4,544.0v2.0M289.1,544.0v2.0M290.6,544.0v2.0M291.9,544.0v2.0M293.0,544.0v2.0M294.0,544.0v2.0" stroke="#2a2a2a" stroke-width="0.7" fill="none"/>
<rect x="210.8" y="543.9" width="2.4" height="1.6" fill="#222"/>
<line x1="324.2" y1="440.6" x2="326.2" y2="440.6" stroke="#333" stroke-width="0.6" />
<line x1="324.2" y1="467.5" x2="326.2" y2="467.5" stroke="#333" stroke-width="0.6" />
<line x1="324.2" y1="498.7" x2="326.2" y2="498.7" stroke="#333" stroke-width="0.6" />
<line x1="324.2" y1="509" x2="326.2" y2="509" stroke="#333" stroke-width="0.6" />
<line x1="324.2" y1="512" x2="326.2" y2="512" stroke="#333" stroke-width="0.6" />
<line x1="324.2" y1="514.5" x2="326.2" y2="514.5" stroke="#333" stroke-width="0.6" />
<line x1="324.2" y1="520.5" x2="326.2" y2="520.5" stroke="#333" stroke-width="0.6" />
<line x1="324.2" y1="531.6" x2="326.2" y2="531.6" stroke="#333" stroke-width="0.6" />
<rect x="324" y="516.5" width="1.6" height="2.4" fill="#222"/>
<path d="M332.8,544.0v2.0M335.0,544.0v2.0M337.2,544.0v2.0M339.4,544.0v2.0M341.6,544.0v2.0M344.2,544.0v2.0M350.8,544.0v2.0M354.7,544.0v2.0M357.4,544.0v2.0M359.6,544.0v2.0M361.3,544.0v2.0M362.8,544.0v2.0M364.1,544.0v2.0M365.2,544.0v2.0M366.2,544.0v2.0M372.8,544.0v2.0M376.7,544.0v2.0M379.4,544.0v2.0M381.6,544.0v2.0M383.3,544.0v2.0M384.8,544.0v2.0M386.1,544.0v2.0M387.2,544.0v2.0M388.2,544.0v2.0M394.8,544.0v2.0M398.7,544.0v2.0M401.4,544.0v2.0M403.6,544.0v2.0M405.3,544.0v2.0M406.8,544.0v2.0M408.1,544.0v2.0M409.2,544.0v2.0M410.2,544.0v2.0M416.8,544.0v2.0M420.7,544.0v2.0M423.4,544.0v2.0M425.6,544.0v2.0M427.3,544.0v2.0M428.8,544.0v2.0M430.1,544.0v2.0M431.2,544.0v2.0M432.2,544.0v2.0" stroke="#2a2a2a" stroke-width="0.7" fill="none"/>
<rect x="349" y="543.9" width="2.4" height="1.6" fill="#222"/>
<line x1="41.5" y1="433" x2="41.5" y2="487.5" stroke="#222" stroke-width="1.1" />
<path d="M41.5,430 L38.7,435.5 L44.3,435.5 Z" fill="#222"/>
<text transform="translate(44,517.5) rotate(-90) scale(0.9,1)" font-size="8.58" text-anchor="middle" font-weight="normal" fill="#222" stroke="#222" stroke-width="0.12"  >CD40L PE-Cy5</text>
<text transform="translate(51.2,556.5) scale(0.9,1)" font-size="8.58" text-anchor="start" font-weight="normal" fill="#222" stroke="#222" stroke-width="0.12"  >TNF-α R718</text>
<line x1="97.3" y1="554.3" x2="437" y2="554.3" stroke="#222" stroke-width="1.2" />
<path d="M440,554.3 L434.5,551.3 L434.5,557.3 Z" fill="#1a1a1a"/>
<text transform="translate(339,124.8)" font-size="10.50" text-anchor="start" font-weight="bold" fill="#111"  >C</text>
<line x1="375.8" y1="127.5" x2="375.8" y2="243.1" stroke="#222" stroke-width="1.1" />
<line x1="375.3" y1="242.6" x2="465.2" y2="242.6" stroke="#222" stroke-width="1.1" />
<line x1="373" y1="242.6" x2="375.8" y2="242.6" stroke="#222" stroke-width="0.9" />
<text transform="translate(369.4,245.3) scale(0.9,1)" font-size="8.36" text-anchor="end" font-weight="normal" fill="#222" stroke="#222" stroke-width="0.12"  >0</text>
<line x1="373" y1="214.38" x2="375.8" y2="214.38" stroke="#222" stroke-width="0.9" />
<text transform="translate(369.4,217.07) scale(0.9,1)" font-size="8.36" text-anchor="end" font-weight="normal" fill="#222" stroke="#222" stroke-width="0.12"  >5</text>
<line x1="373" y1="186.15" x2="375.8" y2="186.15" stroke="#222" stroke-width="0.9" />
<text transform="translate(369.4,188.85) scale(0.9,1)" font-size="8.36" text-anchor="end" font-weight="normal" fill="#222" stroke="#222" stroke-width="0.12"  >10</text>
<line x1="373" y1="157.93" x2="375.8" y2="157.93" stroke="#222" stroke-width="0.9" />
<text transform="translate(369.4,160.62) scale(0.9,1)" font-size="8.36" text-anchor="end" font-weight="normal" fill="#222" stroke="#222" stroke-width="0.12"  >15</text>
<line x1="373" y1="129.7" x2="375.8" y2="129.7" stroke="#222" stroke-width="0.9" />
<text transform="translate(369.4,132.4) scale(0.9,1)" font-size="8.36" text-anchor="end" font-weight="normal" fill="#222" stroke="#222" stroke-width="0.12"  >20</text>
<line x1="391.2" y1="242.6" x2="391.2" y2="245.2" stroke="#222" stroke-width="0.9" />
<text transform="translate(391.2,254.6) scale(0.9,1)" font-size="8.58" text-anchor="middle" font-weight="normal" fill="#222" stroke="#222" stroke-width="0.12"  >HC</text>
<line x1="420.2" y1="242.6" x2="420.2" y2="245.2" stroke="#222" stroke-width="0.9" />
<text transform="translate(420.2,254.6) scale(0.9,1)" font-size="8.58" text-anchor="middle" font-weight="normal" fill="#222" stroke="#222" stroke-width="0.12"  >Het.</text>
<line x1="449" y1="242.6" x2="449" y2="245.2" stroke="#222" stroke-width="0.9" />
<text transform="translate(449,254.6) scale(0.9,1)" font-size="8.58" text-anchor="middle" font-weight="normal" fill="#222" stroke="#222" stroke-width="0.12"  >II-1</text>
<line x1="383.8" y1="129.7" x2="456.5" y2="129.7" stroke="#222" stroke-width="0.9" />
<text transform="translate(420.15,131)" font-size="8.86" text-anchor="middle" font-weight="normal" fill="#222" stroke="#222" stroke-width="0.12"  ></text>
<text transform="translate(420.2,127.6) scale(0.9,1)" font-size="8.36" text-anchor="middle" font-weight="normal" fill="#222" stroke="#222" stroke-width="0.12"  >NS</text>
<circle cx="391.2" cy="220.3" r="1.45" fill="#42b04f"/>
<circle cx="391.2" cy="229.6" r="1.45" fill="#42b04f"/>
<circle cx="386.5" cy="239.3" r="1.45" fill="#42b04f"/>
<circle cx="389" cy="237" r="1.45" fill="#42b04f"/>
<circle cx="391.2" cy="240.2" r="1.45" fill="#42b04f"/>
<circle cx="393.5" cy="237.3" r="1.45" fill="#42b04f"/>
<circle cx="396" cy="239.6" r="1.45" fill="#42b04f"/>
<circle cx="398" cy="238.5" r="1.45" fill="#42b04f"/>
<circle cx="384.5" cy="240.4" r="1.45" fill="#42b04f"/>
<line x1="384.6" y1="240" x2="397.8" y2="240" stroke="#2f5a38" stroke-width="1.0" />
<rect x="415.92" y="214.42" width="2.75" height="2.75" fill="#1d3f6b"/>
<path d="M422.8,215.75 L424.55,212.69 L421.05,212.69 Z" fill="#1d3f6b"/>
<circle cx="424.2" cy="218" r="1.45" fill="#1d3f6b"/>
<path d="M420.5,232.51 L422.19,235.47 L418.81,235.47 Z" fill="#1d3f6b"/>
<line x1="413" y1="216.8" x2="427.4" y2="216.8" stroke="#1b2f4a" stroke-width="1.0" />
<path d="M449.3,134.24 L451.26,136.2 L449.3,138.16 L447.34,136.2 Z" fill="#bb1533"/>
<path d="M443.6,218.84 L445.56,220.8 L443.6,222.76 L441.64,220.8 Z" fill="#bb1533"/>
<path d="M454.7,219.24 L456.66,221.2 L454.7,223.16 L452.74,221.2 Z" fill="#bb1533"/>
<path d="M448.9,227.24 L450.86,229.2 L448.9,231.16 L446.94,229.2 Z" fill="#bb1533"/>
<line x1="442.6" y1="221" x2="455.8" y2="221" stroke="#6a1e2e" stroke-width="1.0" />
<text transform="translate(357.8,186.5) rotate(-90) scale(0.9,1)" font-size="8.36" text-anchor="middle" font-weight="normal" fill="#222" stroke="#222" stroke-width="0.12"  >% cT<tspan font-size="5.2" dy="1.4">FH</tspan><tspan dy="-1.4"> (in CD4</tspan><tspan font-size="5.8" dy="-3.2">+</tspan><tspan dy="3.2"> memory)</tspan></text>
<text transform="translate(281.5,274.8)" font-size="10.50" text-anchor="start" font-weight="bold" fill="#111"  >E</text>
<line x1="309.4" y1="278.8" x2="309.4" y2="394.3" stroke="#222" stroke-width="1.1" />
<line x1="308.9" y1="393.8" x2="393.8" y2="393.8" stroke="#222" stroke-width="1.1" />
<line x1="306.6" y1="393.8" x2="309.4" y2="393.8" stroke="#222" stroke-width="0.9" />
<text transform="translate(303.8,396.5) scale(0.9,1)" font-size="8.36" text-anchor="end" font-weight="normal" fill="#222" stroke="#222" stroke-width="0.12"  >0</text>
<line x1="306.6" y1="356.2" x2="309.4" y2="356.2" stroke="#222" stroke-width="0.9" />
<text transform="translate(303.8,358.9) scale(0.9,1)" font-size="8.36" text-anchor="end" font-weight="normal" fill="#222" stroke="#222" stroke-width="0.12"  >5</text>
<line x1="306.6" y1="318.6" x2="309.4" y2="318.6" stroke="#222" stroke-width="0.9" />
<text transform="translate(303.8,321.3) scale(0.9,1)" font-size="8.36" text-anchor="end" font-weight="normal" fill="#222" stroke="#222" stroke-width="0.12"  >10</text>
<line x1="306.6" y1="281" x2="309.4" y2="281" stroke="#222" stroke-width="0.9" />
<text transform="translate(303.8,283.7) scale(0.9,1)" font-size="8.36" text-anchor="end" font-weight="normal" fill="#222" stroke="#222" stroke-width="0.12"  >15</text>
<line x1="322.8" y1="393.8" x2="322.8" y2="396.4" stroke="#222" stroke-width="0.9" />
<text transform="translate(322.8,406.6) scale(0.9,1)" font-size="8.58" text-anchor="middle" font-weight="normal" fill="#222" stroke="#222" stroke-width="0.12"  >HC</text>
<line x1="351.5" y1="393.8" x2="351.5" y2="396.4" stroke="#222" stroke-width="0.9" />
<text transform="translate(351.5,406.6) scale(0.9,1)" font-size="8.58" text-anchor="middle" font-weight="normal" fill="#222" stroke="#222" stroke-width="0.12"  >Het.</text>
<line x1="380.6" y1="393.8" x2="380.6" y2="396.4" stroke="#222" stroke-width="0.9" />
<text transform="translate(380.6,406.6) scale(0.9,1)" font-size="8.58" text-anchor="middle" font-weight="normal" fill="#222" stroke="#222" stroke-width="0.12"  >II-1</text>
<line x1="352.4" y1="279.7" x2="381.2" y2="279.7" stroke="#222" stroke-width="0.9" />
<text transform="translate(366.8,281)" font-size="9.49" text-anchor="middle" font-weight="normal" fill="#222" stroke="#222" stroke-width="0.12"  >*</text>
<line x1="323.3" y1="288.9" x2="381.2" y2="288.9" stroke="#222" stroke-width="0.9" />
<text transform="translate(352.25,290.2)" font-size="9.49" text-anchor="middle" font-weight="normal" fill="#222" stroke="#222" stroke-width="0.12"  >****</text>
<circle cx="322.7" cy="295" r="1.5" fill="#42b04f"/>
<circle cx="322.7" cy="305.8" r="1.5" fill="#42b04f"/>
<circle cx="316.3" cy="324.4" r="1.5" fill="#42b04f"/>
<circle cx="322.7" cy="326.9" r="1.5" fill="#42b04f"/>
<circle cx="328.8" cy="321.9" r="1.5" fill="#42b04f"/>
<circle cx="328.8" cy="325.8" r="1.5" fill="#42b04f"/>
<circle cx="322.7" cy="336.9" r="1.5" fill="#42b04f"/>
<circle cx="322.7" cy="341.3" r="1.5" fill="#42b04f"/>
<line x1="315.8" y1="324.4" x2="329" y2="324.4" stroke="#2f5a38" stroke-width="1.0" />
<path d="M351.9,328.99 L353.59,326.03 L350.21,326.03 Z" fill="#1d3f6b"/>
<rect x="343.92" y="352.52" width="2.56" height="2.56" fill="#1d3f6b"/>
<path d="M351.9,350.21 L353.59,353.17 L350.21,353.17 Z" fill="#1d3f6b"/>
<rect x="356.42" y="352.52" width="2.56" height="2.56" fill="#1d3f6b"/>
<line x1="344.2" y1="353.3" x2="358.8" y2="353.3" stroke="#1b2f4a" stroke-width="1.0" />
<path d="M380.8,368.24 L382.76,370.2 L380.8,372.16 L378.84,370.2 Z" fill="#bb1533"/>
<path d="M375.4,376.74 L377.36,378.7 L375.4,380.66 L373.44,378.7 Z" fill="#bb1533"/>
<path d="M386.5,377.64 L388.46,379.6 L386.5,381.56 L384.54,379.6 Z" fill="#bb1533"/>
<path d="M380.8,385.34 L382.76,387.3 L380.8,389.26 L378.84,387.3 Z" fill="#bb1533"/>
<line x1="374.2" y1="378.8" x2="387.4" y2="378.8" stroke="#6a1e2e" stroke-width="1.0" />
<text transform="translate(289,336) rotate(-90) scale(0.9,1)" font-size="8.58" text-anchor="middle" font-weight="normal" fill="#222" stroke="#222" stroke-width="0.12"  >% IL-21<tspan font-size="5.8" dy="-3.2">+</tspan><tspan dy="3.2"> (in cT</tspan><tspan font-size="5.2" dy="1.4">FH</tspan><tspan dy="-1.4">)</tspan></text>
<text transform="translate(406.3,274.8)" font-size="10.50" text-anchor="start" font-weight="bold" fill="#111"  >F</text>
<line x1="435" y1="278" x2="435" y2="394.7" stroke="#222" stroke-width="1.1" />
<line x1="434.5" y1="394.2" x2="518.5" y2="394.2" stroke="#222" stroke-width="1.1" />
<line x1="432.2" y1="394.2" x2="435" y2="394.2" stroke="#222" stroke-width="0.9" />
<text transform="translate(429.4,396.9) scale(0.9,1)" font-size="8.36" text-anchor="end" font-weight="normal" fill="#222" stroke="#222" stroke-width="0.12"  >0</text>
<line x1="432.2" y1="365.98" x2="435" y2="365.98" stroke="#222" stroke-width="0.9" />
<text transform="translate(429.4,368.68) scale(0.9,1)" font-size="8.36" text-anchor="end" font-weight="normal" fill="#222" stroke="#222" stroke-width="0.12"  >20</text>
<line x1="432.2" y1="337.75" x2="435" y2="337.75" stroke="#222" stroke-width="0.9" />
<text transform="translate(429.4,340.45) scale(0.9,1)" font-size="8.36" text-anchor="end" font-weight="normal" fill="#222" stroke="#222" stroke-width="0.12"  >40</text>
<line x1="432.2" y1="309.52" x2="435" y2="309.52" stroke="#222" stroke-width="0.9" />
<text transform="translate(429.4,312.22) scale(0.9,1)" font-size="8.36" text-anchor="end" font-weight="normal" fill="#222" stroke="#222" stroke-width="0.12"  >60</text>
<line x1="432.2" y1="281.3" x2="435" y2="281.3" stroke="#222" stroke-width="0.9" />
<text transform="translate(429.4,284) scale(0.9,1)" font-size="8.36" text-anchor="end" font-weight="normal" fill="#222" stroke="#222" stroke-width="0.12"  >80</text>
<line x1="448.3" y1="394.2" x2="448.3" y2="396.8" stroke="#222" stroke-width="0.9" />
<text transform="translate(448.3,406.7) scale(0.9,1)" font-size="8.58" text-anchor="middle" font-weight="normal" fill="#222" stroke="#222" stroke-width="0.12"  >HC</text>
<line x1="476" y1="394.2" x2="476" y2="396.8" stroke="#222" stroke-width="0.9" />
<text transform="translate(476,406.7) scale(0.9,1)" font-size="8.58" text-anchor="middle" font-weight="normal" fill="#222" stroke="#222" stroke-width="0.12"  >Het.</text>
<line x1="505.5" y1="394.2" x2="505.5" y2="396.8" stroke="#222" stroke-width="0.9" />
<text transform="translate(505.5,406.7) scale(0.9,1)" font-size="8.58" text-anchor="middle" font-weight="normal" fill="#222" stroke="#222" stroke-width="0.12"  >II-1</text>
<line x1="476.3" y1="286.3" x2="506.3" y2="286.3" stroke="#222" stroke-width="0.9" />
<text transform="translate(491.3,287.6)" font-size="9.49" text-anchor="middle" font-weight="normal" fill="#222" stroke="#222" stroke-width="0.12"  >**</text>
<line x1="448" y1="296.3" x2="506.3" y2="296.3" stroke="#222" stroke-width="0.9" />
<text transform="translate(477.15,297.6)" font-size="9.49" text-anchor="middle" font-weight="normal" fill="#222" stroke="#222" stroke-width="0.12"  >****</text>
<circle cx="448" cy="300" r="1.5" fill="#42b04f"/>
<circle cx="444.5" cy="306.3" r="1.5" fill="#42b04f"/>
<circle cx="451.3" cy="308" r="1.5" fill="#42b04f"/>
<circle cx="444" cy="320.3" r="1.5" fill="#42b04f"/>
<circle cx="452" cy="320.5" r="1.5" fill="#42b04f"/>
<circle cx="447.5" cy="327.5" r="1.5" fill="#42b04f"/>
<circle cx="448" cy="330.5" r="1.5" fill="#42b04f"/>
<circle cx="448" cy="335" r="1.5" fill="#42b04f"/>
<line x1="441.1" y1="319.3" x2="455.5" y2="319.3" stroke="#2f5a38" stroke-width="1.0" />
<rect x="471.22" y="327.22" width="2.56" height="2.56" fill="#1d3f6b"/>
<path d="M480.5,328.69 L482.19,325.73 L478.81,325.73 Z" fill="#1d3f6b"/>
<circle cx="477.5" cy="331.5" r="1.4" fill="#1d3f6b"/>
<path d="M476.3,352.81 L477.99,355.77 L474.61,355.77 Z" fill="#1d3f6b"/>
<line x1="466.5" y1="331.3" x2="484.5" y2="331.3" stroke="#1b2f4a" stroke-width="1.0" />
<path d="M500,362.54 L501.96,364.5 L500,366.46 L498.04,364.5 Z" fill="#bb1533"/>
<path d="M511.8,361.84 L513.76,363.8 L511.8,365.76 L509.84,363.8 Z" fill="#bb1533"/>
<path d="M505.5,368.54 L507.46,370.5 L505.5,372.46 L503.54,370.5 Z" fill="#bb1533"/>
<path d="M505.5,380.04 L507.46,382 L505.5,383.96 L503.54,382 Z" fill="#bb1533"/>
<line x1="500" y1="368" x2="513.2" y2="368" stroke="#6a1e2e" stroke-width="1.0" />
<text transform="translate(409.5,335.5) rotate(-90) scale(0.9,1)" font-size="8.58" text-anchor="middle" font-weight="normal" fill="#222" stroke="#222" stroke-width="0.12"  >% CD40L<tspan font-size="5.8" dy="-3.2">+</tspan><tspan dy="3.2"> (in cT</tspan><tspan font-size="5.2" dy="1.4">FH</tspan><tspan dy="-1.4">)</tspan></text>
<text transform="translate(70,576.8)" font-size="10.50" text-anchor="start" font-weight="bold" fill="#111"  >H</text>
<line x1="114.5" y1="577.8" x2="114.5" y2="694.1" stroke="#222" stroke-width="1.1" />
<line x1="114" y1="693.6" x2="240" y2="693.6" stroke="#222" stroke-width="1.1" />
<line x1="111.7" y1="693.6" x2="114.5" y2="693.6" stroke="#222" stroke-width="0.9" />
<text transform="translate(108.9,696.3) scale(0.9,1)" font-size="8.36" text-anchor="end" font-weight="normal" fill="#222" stroke="#222" stroke-width="0.12"  >0</text>
<line x1="111.7" y1="670.96" x2="114.5" y2="670.96" stroke="#222" stroke-width="0.9" />
<text transform="translate(108.9,673.66) scale(0.9,1)" font-size="8.36" text-anchor="end" font-weight="normal" fill="#222" stroke="#222" stroke-width="0.12"  >20</text>
<line x1="111.7" y1="648.32" x2="114.5" y2="648.32" stroke="#222" stroke-width="0.9" />
<text transform="translate(108.9,651.02) scale(0.9,1)" font-size="8.36" text-anchor="end" font-weight="normal" fill="#222" stroke="#222" stroke-width="0.12"  >40</text>
<line x1="111.7" y1="625.68" x2="114.5" y2="625.68" stroke="#222" stroke-width="0.9" />
<text transform="translate(108.9,628.38) scale(0.9,1)" font-size="8.36" text-anchor="end" font-weight="normal" fill="#222" stroke="#222" stroke-width="0.12"  >60</text>
<line x1="111.7" y1="603.04" x2="114.5" y2="603.04" stroke="#222" stroke-width="0.9" />
<text transform="translate(108.9,605.74) scale(0.9,1)" font-size="8.36" text-anchor="end" font-weight="normal" fill="#222" stroke="#222" stroke-width="0.12"  >80</text>
<line x1="111.7" y1="580.4" x2="114.5" y2="580.4" stroke="#222" stroke-width="0.9" />
<text transform="translate(108.9,583.1) scale(0.9,1)" font-size="8.36" text-anchor="end" font-weight="normal" fill="#222" stroke="#222" stroke-width="0.12"  >100</text>
<line x1="132.1" y1="693.6" x2="132.1" y2="696.2" stroke="#222" stroke-width="0.9" />
<text transform="translate(132.1,706.4) scale(0.9,1)" font-size="8.58" text-anchor="middle" font-weight="normal" fill="#222" stroke="#222" stroke-width="0.12"  >HC</text>
<line x1="164.8" y1="693.6" x2="164.8" y2="696.2" stroke="#222" stroke-width="0.9" />
<text transform="translate(164.8,706.4) scale(0.9,1)" font-size="8.58" text-anchor="middle" font-weight="normal" fill="#222" stroke="#222" stroke-width="0.12"  >Het.</text>
<line x1="197" y1="693.6" x2="197" y2="696.2" stroke="#222" stroke-width="0.9" />
<text transform="translate(197,706.4) scale(0.9,1)" font-size="8.58" text-anchor="middle" font-weight="normal" fill="#222" stroke="#222" stroke-width="0.12"  >EV</text>
<line x1="230" y1="693.6" x2="230" y2="696.2" stroke="#222" stroke-width="0.9" />
<text transform="translate(230,706.4) scale(0.9,1)" font-size="8.58" text-anchor="middle" font-weight="normal" fill="#222" stroke="#222" stroke-width="0.12"  >WT</text>
<line x1="123.5" y1="710.2" x2="173.6" y2="710.2" stroke="#222" stroke-width="0.9" />
<text transform="translate(148.4,718.8) scale(0.9,1)" font-size="8.58" text-anchor="middle" font-weight="normal" fill="#222" stroke="#222" stroke-width="0.12"  >EV</text>
<line x1="189.2" y1="710.2" x2="238.6" y2="710.2" stroke="#222" stroke-width="0.9" />
<text transform="translate(213.9,718.8) scale(0.9,1)" font-size="8.58" text-anchor="middle" font-weight="normal" fill="#222" stroke="#222" stroke-width="0.12"  >II-1</text>
<line x1="131.2" y1="594.2" x2="197" y2="594.2" stroke="#222" stroke-width="0.9" />
<text transform="translate(164.1,595.5)" font-size="9.49" text-anchor="middle" font-weight="normal" fill="#222" stroke="#222" stroke-width="0.12"  >***</text>
<line x1="197" y1="591.2" x2="229.9" y2="591.2" stroke="#222" stroke-width="0.9" />
<text transform="translate(213.45,592.5)" font-size="9.49" text-anchor="middle" font-weight="normal" fill="#222" stroke="#222" stroke-width="0.12"  >*</text>
<circle cx="125" cy="598.6" r="1.5" fill="#42b04f"/>
<circle cx="139.6" cy="600" r="1.5" fill="#42b04f"/>
<circle cx="133" cy="601" r="1.5" fill="#42b04f"/>
<circle cx="131.5" cy="606" r="1.5" fill="#42b04f"/>
<circle cx="131.2" cy="616.6" r="1.5" fill="#42b04f"/>
<circle cx="131.2" cy="630" r="1.5" fill="#42b04f"/>
<line x1="123.8" y1="603.8" x2="140.8" y2="603.8" stroke="#2f5a38" stroke-width="1.0" />
<path d="M165.2,613.69 L166.89,610.73 L163.51,610.73 Z" fill="#1d3f6b"/>
<circle cx="165.2" cy="654" r="1.4" fill="#1d3f6b"/>
<circle cx="165.2" cy="659.4" r="1.45" fill="#1d3f6b"/>
<line x1="156.2" y1="653.3" x2="173" y2="653.3" stroke="#1b2f4a" stroke-width="1.0" />
<path d="M193.4,674.24 L195.36,676.2 L193.4,678.16 L191.44,676.2 Z" fill="#bb1533"/>
<path d="M200.7,677.84 L202.66,679.8 L200.7,681.76 L198.74,679.8 Z" fill="#bb1533"/>
<path d="M193.4,682.24 L195.36,684.2 L193.4,686.16 L191.44,684.2 Z" fill="#bb1533"/>
<line x1="189.3" y1="679.6" x2="205.5" y2="679.6" stroke="#6a1e2e" stroke-width="1.0" />
<circle cx="228.8" cy="625" r="1.5" fill="#522a7e"/>
<circle cx="228.8" cy="635.6" r="1.5" fill="#522a7e"/>
<circle cx="228.8" cy="644.8" r="1.5" fill="#522a7e"/>
<line x1="221.3" y1="635.5" x2="238.3" y2="635.5" stroke="#33204a" stroke-width="1.0" />
<text transform="translate(88.5,636) rotate(-90) scale(0.9,1)" font-size="8.36" text-anchor="middle" font-weight="normal" fill="#222" stroke="#222" stroke-width="0.12"  >% TNF-α<tspan font-size="5.8" dy="-3.2">+</tspan><tspan dy="3.2"> (in CD4</tspan><tspan font-size="5.8" dy="-3.2">+</tspan><tspan dy="3.2"> memory)</tspan></text>
<text transform="translate(280,576.8)" font-size="10.50" text-anchor="start" font-weight="bold" fill="#111"  >I</text>
<line x1="317.8" y1="577.8" x2="317.8" y2="694.1" stroke="#222" stroke-width="1.1" />
<line x1="317.3" y1="693.6" x2="441.4" y2="693.6" stroke="#222" stroke-width="1.1" />
<line x1="315" y1="693.6" x2="317.8" y2="693.6" stroke="#222" stroke-width="0.9" />
<text transform="translate(312.2,696.3) scale(0.9,1)" font-size="8.36" text-anchor="end" font-weight="normal" fill="#222" stroke="#222" stroke-width="0.12"  >0</text>
<line x1="315" y1="665.25" x2="317.8" y2="665.25" stroke="#222" stroke-width="0.9" />
<text transform="translate(312.2,667.95) scale(0.9,1)" font-size="8.36" text-anchor="end" font-weight="normal" fill="#222" stroke="#222" stroke-width="0.12"  >20</text>
<line x1="315" y1="636.9" x2="317.8" y2="636.9" stroke="#222" stroke-width="0.9" />
<text transform="translate(312.2,639.6) scale(0.9,1)" font-size="8.36" text-anchor="end" font-weight="normal" fill="#222" stroke="#222" stroke-width="0.12"  >40</text>
<line x1="315" y1="608.55" x2="317.8" y2="608.55" stroke="#222" stroke-width="0.9" />
<text transform="translate(312.2,611.25) scale(0.9,1)" font-size="8.36" text-anchor="end" font-weight="normal" fill="#222" stroke="#222" stroke-width="0.12"  >60</text>
<line x1="315" y1="580.2" x2="317.8" y2="580.2" stroke="#222" stroke-width="0.9" />
<text transform="translate(312.2,582.9) scale(0.9,1)" font-size="8.36" text-anchor="end" font-weight="normal" fill="#222" stroke="#222" stroke-width="0.12"  >80</text>
<line x1="334.7" y1="693.6" x2="334.7" y2="696.2" stroke="#222" stroke-width="0.9" />
<text transform="translate(334.7,706.4) scale(0.9,1)" font-size="8.58" text-anchor="middle" font-weight="normal" fill="#222" stroke="#222" stroke-width="0.12"  >HC</text>
<line x1="367.7" y1="693.6" x2="367.7" y2="696.2" stroke="#222" stroke-width="0.9" />
<text transform="translate(367.7,706.4) scale(0.9,1)" font-size="8.58" text-anchor="middle" font-weight="normal" fill="#222" stroke="#222" stroke-width="0.12"  >Het.</text>
<line x1="399.6" y1="693.6" x2="399.6" y2="696.2" stroke="#222" stroke-width="0.9" />
<text transform="translate(399.6,706.4) scale(0.9,1)" font-size="8.58" text-anchor="middle" font-weight="normal" fill="#222" stroke="#222" stroke-width="0.12"  >EV</text>
<line x1="432.6" y1="693.6" x2="432.6" y2="696.2" stroke="#222" stroke-width="0.9" />
<text transform="translate(432.6,706.4) scale(0.9,1)" font-size="8.58" text-anchor="middle" font-weight="normal" fill="#222" stroke="#222" stroke-width="0.12"  >WT</text>
<line x1="326.9" y1="710.2" x2="376.2" y2="710.2" stroke="#222" stroke-width="0.9" />
<text transform="translate(351.6,718.8) scale(0.9,1)" font-size="8.58" text-anchor="middle" font-weight="normal" fill="#222" stroke="#222" stroke-width="0.12"  >EV</text>
<line x1="391.8" y1="710.2" x2="441.2" y2="710.2" stroke="#222" stroke-width="0.9" />
<text transform="translate(416.5,718.8) scale(0.9,1)" font-size="8.58" text-anchor="middle" font-weight="normal" fill="#222" stroke="#222" stroke-width="0.12"  >II-1</text>
<line x1="334.6" y1="591.2" x2="399.6" y2="591.2" stroke="#222" stroke-width="0.9" />
<text transform="translate(367.1,592.5)" font-size="9.49" text-anchor="middle" font-weight="normal" fill="#222" stroke="#222" stroke-width="0.12"  >***</text>
<line x1="400.3" y1="586.3" x2="432.5" y2="586.3" stroke="#222" stroke-width="0.9" />
<text transform="translate(416.4,587.6)" font-size="9.49" text-anchor="middle" font-weight="normal" fill="#222" stroke="#222" stroke-width="0.12"  >***</text>
<circle cx="334.6" cy="597.3" r="1.5" fill="#42b04f"/>
<circle cx="334.6" cy="617.7" r="1.5" fill="#42b04f"/>
<circle cx="331" cy="619.5" r="1.5" fill="#42b04f"/>
<circle cx="337.5" cy="622.5" r="1.5" fill="#42b04f"/>
<circle cx="334.6" cy="644.8" r="1.5" fill="#42b04f"/>
<circle cx="334.6" cy="653.2" r="1.5" fill="#42b04f"/>
<line x1="326.6" y1="622.8" x2="343" y2="622.8" stroke="#2f5a38" stroke-width="1.0" />
<circle cx="363" cy="655.3" r="1.4" fill="#1d3f6b"/>
<path d="M371,654.11 L372.69,657.07 L369.31,657.07 Z" fill="#1d3f6b"/>
<path d="M367.5,665.79 L369.19,662.83 L365.81,662.83 Z" fill="#1d3f6b"/>
<line x1="358.7" y1="656.1" x2="375.9" y2="656.1" stroke="#1b2f4a" stroke-width="1.0" />
<path d="M399.6,684.84 L401.56,686.8 L399.6,688.76 L397.64,686.8 Z" fill="#bb1533"/>
<path d="M394.1,688.44 L396.06,690.4 L394.1,692.36 L392.14,690.4 Z" fill="#bb1533"/>
<path d="M406.9,686.64 L408.86,688.6 L406.9,690.56 L404.94,688.6 Z" fill="#bb1533"/>
<line x1="394" y1="689" x2="407.6" y2="689" stroke="#6a1e2e" stroke-width="1.0" />
<path d="M432.5,611.04 L434.46,613 L432.5,614.96 L430.54,613 Z" fill="#522a7e"/>
<circle cx="432.5" cy="624" r="1.5" fill="#522a7e"/>
<path d="M432.5,626.34 L434.46,628.3 L432.5,630.26 L430.54,628.3 Z" fill="#522a7e"/>
<line x1="423.4" y1="624" x2="439.8" y2="624" stroke="#33204a" stroke-width="1.0" />
<text transform="translate(294.5,635.5) rotate(-90) scale(0.9,1)" font-size="8.36" text-anchor="middle" font-weight="normal" fill="#222" stroke="#222" stroke-width="0.12"  >% CD40L<tspan font-size="5.8" dy="-3.2">+</tspan><tspan dy="3.2"> (in CD4</tspan><tspan font-size="5.8" dy="-3.2">+</tspan><tspan dy="3.2"> memory)</tspan></text></svg>
</body></html>
